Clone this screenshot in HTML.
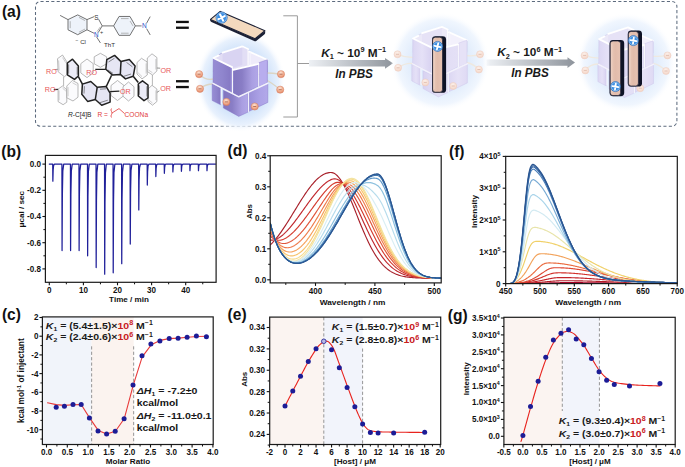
<!DOCTYPE html>
<html><head><meta charset="utf-8"><style>html,body{margin:0;padding:0;background:#fff;}svg{display:block;font-family:"Liberation Sans",sans-serif;}</style></head><body>
<svg width="685" height="467" viewBox="0 0 685 467" font-family="Liberation Sans, sans-serif">
<defs>
<linearGradient id="gLa" x1="0" x2="1" y1="0" y2="0"><stop offset="0" stop-color="#978dd4"/><stop offset="0.5" stop-color="#8f85cd"/><stop offset="0.9" stop-color="#867ac5"/><stop offset="1" stop-color="#b6adea"/></linearGradient>
<linearGradient id="gRa" x1="0" x2="1" y1="0" y2="0"><stop offset="0" stop-color="#9a8fd8"/><stop offset="0.6" stop-color="#aca2e6"/><stop offset="1" stop-color="#b2a8e9"/></linearGradient>
<linearGradient id="gCa" x1="0" x2="1" y1="0" y2="0"><stop offset="0" stop-color="#8276c0"/><stop offset="0.35" stop-color="#897dc5"/><stop offset="0.75" stop-color="#aa9fe2"/><stop offset="1" stop-color="#b2a8e8"/></linearGradient>
<radialGradient id="glowa"><stop offset="0" stop-color="#bcd6f8"/><stop offset="0.6" stop-color="#cfe2fa"/><stop offset="0.85" stop-color="#e8f1fd"/><stop offset="1" stop-color="#ffffff" stop-opacity="0"/></radialGradient>
<linearGradient id="gLb" x1="0" x2="1" y1="0" y2="0"><stop offset="0" stop-color="#dcd7f3"/><stop offset="0.5" stop-color="#e5e1f7"/><stop offset="1" stop-color="#d8d2f1"/></linearGradient>
<linearGradient id="gRb" x1="0" x2="1" y1="0" y2="0"><stop offset="0" stop-color="#dcd7f3"/><stop offset="0.5" stop-color="#e6e2f7"/><stop offset="1" stop-color="#dfdaf4"/></linearGradient>
<linearGradient id="gCb" x1="0" x2="1" y1="0" y2="0"><stop offset="0" stop-color="#d8d2f1"/><stop offset="0.5" stop-color="#e2def5"/><stop offset="1" stop-color="#e4e0f6"/></linearGradient>
<radialGradient id="glowb"><stop offset="0" stop-color="#d4e5fb"/><stop offset="0.6" stop-color="#e2edfc"/><stop offset="0.85" stop-color="#f0f6fe"/><stop offset="1" stop-color="#ffffff" stop-opacity="0"/></radialGradient>
<linearGradient id="gLc" x1="0" x2="1" y1="0" y2="0"><stop offset="0" stop-color="#dcd7f3"/><stop offset="0.5" stop-color="#e5e1f7"/><stop offset="1" stop-color="#d8d2f1"/></linearGradient>
<linearGradient id="gRc" x1="0" x2="1" y1="0" y2="0"><stop offset="0" stop-color="#dcd7f3"/><stop offset="0.5" stop-color="#e6e2f7"/><stop offset="1" stop-color="#dfdaf4"/></linearGradient>
<linearGradient id="gCc" x1="0" x2="1" y1="0" y2="0"><stop offset="0" stop-color="#d8d2f1"/><stop offset="0.5" stop-color="#e2def5"/><stop offset="1" stop-color="#e4e0f6"/></linearGradient>
<radialGradient id="glowc"><stop offset="0" stop-color="#d4e5fb"/><stop offset="0.6" stop-color="#e2edfc"/><stop offset="0.85" stop-color="#f0f6fe"/><stop offset="1" stop-color="#ffffff" stop-opacity="0"/></radialGradient>
<radialGradient id="ballg" cx="0.45" cy="0.3" r="0.75"><stop offset="0" stop-color="#fbe2d4"/><stop offset="0.6" stop-color="#f0a888"/><stop offset="1" stop-color="#e08060"/></radialGradient>
<radialGradient id="ballf" cx="0.45" cy="0.3" r="0.75"><stop offset="0" stop-color="#fcf0ea"/><stop offset="1" stop-color="#f3d4c6"/></radialGradient>
<linearGradient id="slabg" x1="0" x2="1" y1="0" y2="0"><stop offset="0" stop-color="#e9c8b8"/><stop offset="0.5" stop-color="#e2bcab"/><stop offset="1" stop-color="#e6c2b2"/></linearGradient>
</defs>
<rect width="685" height="467" fill="#ffffff"/>
<rect x="35.5" y="1.5" width="641.4" height="124.7" rx="5" ry="5" fill="none" stroke="#5d6b7e" stroke-width="1.05" stroke-dasharray="3.1,2.3"/>
<text x="0" y="0" font-size="16.4" font-weight="bold" fill="#111" transform="translate(1.9,17.4) scale(0.95,1)">(a)</text>
<path d="M77.7,14.9 L87,19.6 L87,29.8 L77.7,34.7 L68,29.8 L68,19.6 Z" fill="#eef3fa" stroke="#5a5a5a" stroke-width="0.85" stroke-linejoin="round" />
<line x1="70.2" y1="21.2" x2="70.2" y2="28.2" stroke="#999" stroke-width="0.7" />
<line x1="79" y1="17.4" x2="85" y2="20.6" stroke="#999" stroke-width="0.7" />
<line x1="79" y1="32.2" x2="85" y2="29" stroke="#999" stroke-width="0.7" />
<line x1="60.1" y1="15.4" x2="68" y2="19.6" stroke="#5a5a5a" stroke-width="0.85" />
<line x1="87" y1="19.6" x2="94.2" y2="16.6" stroke="#5a5a5a" stroke-width="0.85" />
<line x1="98.6" y1="19.2" x2="102.2" y2="25.9" stroke="#5a5a5a" stroke-width="0.85" />
<line x1="102.2" y1="25.9" x2="98.3" y2="32.4" stroke="#5a5a5a" stroke-width="0.85" />
<line x1="100.3" y1="26.9" x2="97" y2="31.6" stroke="#999" stroke-width="0.7" />
<line x1="94.4" y1="33.4" x2="87" y2="29.8" stroke="#5a5a5a" stroke-width="0.85" />
<line x1="96.4" y1="36.6" x2="100.4" y2="42.9" stroke="#5a5a5a" stroke-width="0.85" />
<line x1="102.2" y1="25.9" x2="113.6" y2="25.9" stroke="#5a5a5a" stroke-width="0.85" />
<path d="M135.4,25.9 L129.95,35.34 L119.05,35.34 L113.6,25.9 L119.05,16.46 L129.95,16.46 Z" fill="#eef3fa" stroke="#5a5a5a" stroke-width="0.85" stroke-linejoin="round" />
<line x1="121" y1="18.6" x2="128.6" y2="18.6" stroke="#999" stroke-width="0.7" />
<line x1="121" y1="33.2" x2="128.6" y2="33.2" stroke="#999" stroke-width="0.7" />
<line x1="133" y1="25.9" x2="130" y2="21" stroke="#999" stroke-width="0.7" />
<line x1="135.4" y1="25.9" x2="141.6" y2="25.9" stroke="#5a5a5a" stroke-width="0.85" />
<line x1="146.6" y1="23.2" x2="150.2" y2="16.6" stroke="#5a5a5a" stroke-width="0.85" />
<line x1="146.6" y1="28.6" x2="150.2" y2="34.9" stroke="#5a5a5a" stroke-width="0.85" />
<text x="96.3" y="19.8" font-size="6.3" fill="#333" text-anchor="middle">S</text>
<text x="96.4" y="37.2" font-size="6.3" fill="#2850c8" text-anchor="middle">N</text>
<text x="101.6" y="34.2" font-size="5.5" fill="#333" text-anchor="middle">+</text>
<text x="144.3" y="28.3" font-size="6.5" fill="#2850c8" text-anchor="middle">N</text>
<text x="75.5" y="43.6" font-size="6.2" fill="#333"><tspan font-size="5" dy="-2">&#8722;</tspan><tspan dy="2"> Cl</tspan></text>
<text x="104" y="47.2" font-size="6.2" fill="#333">ThT</text>
<path d="M87,59 L93.2,63.65 L93.2,72.95 L87,77.6 L80.8,72.95 L80.8,63.65 Z" fill="#fbfbfd" stroke="#9a9a9a" stroke-width="0.7" stroke-linejoin="round" />
<path d="M100.4,53.3 L106.6,56.8 L106.6,63.8 L100.4,67.3 L94.2,63.8 L94.2,56.8 Z" fill="#fbfbfd" stroke="#9a9a9a" stroke-width="0.7" stroke-linejoin="round" />
<path d="M117.5,80.5 L124,85.5 L124,95.5 L117.5,100.5 L111,95.5 L111,85.5 Z" fill="#fbfbfd" stroke="#9a9a9a" stroke-width="0.7" stroke-linejoin="round" />
<path d="M128.5,82 L134,86.75 L134,96.25 L128.5,101 L123,96.25 L123,86.75 Z" fill="#fbfbfd" stroke="#9a9a9a" stroke-width="0.7" stroke-linejoin="round" />
<path d="M62.5,55 L66.8,61.8 L66.8,74.8 L64.4,76.7 L58.1,71.7 L57.5,58.7 Z" fill="#fbfbfd" stroke="#9a9a9a" stroke-width="0.7" stroke-linejoin="round" />
<line x1="58.64" y1="60.41" x2="59.11" y2="70.55" stroke="#a8a8a8" stroke-width="0.55" />
<line x1="62.54" y1="57.52" x2="65.89" y2="62.82" stroke="#a8a8a8" stroke-width="0.55" />
<path d="M62.5,86 L66.8,89.8 L66.8,102.2 L63.1,104.7 L58.1,101.6 L58.1,89.1 Z" fill="#fbfbfd" stroke="#9a9a9a" stroke-width="0.7" stroke-linejoin="round" />
<line x1="59.08" y1="90.52" x2="59.08" y2="100.27" stroke="#a8a8a8" stroke-width="0.55" />
<line x1="62.51" y1="88.1" x2="65.87" y2="91.07" stroke="#a8a8a8" stroke-width="0.55" />
<path d="M72.4,80.4 L78,83.5 L78,97.2 L73,101 L66.8,97.8 L66.8,86 Z" fill="#fbfbfd" stroke="#9a9a9a" stroke-width="0.7" stroke-linejoin="round" />
<line x1="68.05" y1="87.1" x2="68.05" y2="96.3" stroke="#a8a8a8" stroke-width="0.55" />
<line x1="72.42" y1="82.73" x2="76.79" y2="85.15" stroke="#a8a8a8" stroke-width="0.55" />
<line x1="63.6" y1="76.7" x2="63.6" y2="86" stroke="#9a9a9a" stroke-width="0.7" />
<path d="M141.5,58.3 L147.3,62 L147.3,75 L142,78.9 L137,74 L137,62.5 Z" fill="#fbfbfd" stroke="#9a9a9a" stroke-width="0.7" stroke-linejoin="round" />
<line x1="146.14" y1="63.42" x2="146.14" y2="73.56" stroke="#a8a8a8" stroke-width="0.55" />
<line x1="142" y1="76.6" x2="138.1" y2="72.78" stroke="#a8a8a8" stroke-width="0.55" />
<path d="M152,53.8 L156.9,57.5 L156.9,71 L152.5,75 L147.3,71.5 L147.3,58 Z" fill="#fbfbfd" stroke="#9a9a9a" stroke-width="0.7" stroke-linejoin="round" />
<line x1="155.86" y1="59.03" x2="155.86" y2="69.56" stroke="#a8a8a8" stroke-width="0.55" />
<line x1="152.42" y1="72.68" x2="148.37" y2="69.95" stroke="#a8a8a8" stroke-width="0.55" />
<path d="M152,85.3 L156.9,89 L156.9,101.5 L152.5,105.2 L148,101.5 L148,89 Z" fill="#fbfbfd" stroke="#9a9a9a" stroke-width="0.7" stroke-linejoin="round" />
<line x1="155.91" y1="90.38" x2="155.91" y2="100.12" stroke="#a8a8a8" stroke-width="0.55" />
<line x1="152.47" y1="103.01" x2="148.96" y2="100.12" stroke="#a8a8a8" stroke-width="0.55" />
<line x1="152.4" y1="75" x2="152.4" y2="85.3" stroke="#9a9a9a" stroke-width="0.7" />
<text x="87" y="93.5" font-size="6.8" fill="#f2c8cc">RO</text>
<text x="122" y="71.5" font-size="6.8" fill="#f2c8cc">R</text>
<path d="M72.5,59.2 L78.4,66 L78.4,76 L74.5,79.4 L67.4,74.8 L67.4,63 Z" fill="#ececf7" stroke="#222222" stroke-width="1.5" stroke-linejoin="round" />
<line x1="68.65" y1="64.48" x2="68.65" y2="73.69" stroke="#444" stroke-width="0.6" />
<line x1="77.23" y1="66.82" x2="77.23" y2="74.62" stroke="#444" stroke-width="0.6" />
<path d="M142.5,80.8 L148,85 L148,98 L144,100.7 L138.3,96 L138.3,84 Z" fill="#ececf7" stroke="#222222" stroke-width="1.5" stroke-linejoin="round" />
<line x1="139.37" y1="85.48" x2="139.37" y2="94.84" stroke="#444" stroke-width="0.6" />
<line x1="146.94" y1="86.27" x2="146.94" y2="96.41" stroke="#444" stroke-width="0.6" />
<path d="M106.8,59.6 L114.6,55.4 L121,61.6 L129.3,59.6 L135.1,66.1 L133.2,76.3 L125.5,78.9 L120.3,74.4 L112.6,75.1 L105.8,69.3 Z" fill="#e6e6f4" stroke="#222222" stroke-width="1.5" stroke-linejoin="round" />
<line x1="121" y1="61.6" x2="120.3" y2="74.4" stroke="#222222" stroke-width="1.5" />
<path d="M82.4,84.1 L90.8,81.5 L97.2,87.3 L106.2,86.6 L110.1,93.1 L110.1,102.1 L101.7,105.3 L95.3,99.5 L87.6,101.4 L81.8,94.3 Z" fill="#e6e6f4" stroke="#222222" stroke-width="1.5" stroke-linejoin="round" />
<line x1="97.2" y1="87.3" x2="95.3" y2="99.5" stroke="#222222" stroke-width="1.5" />
<line x1="108.5" y1="62" x2="114.5" y2="58.2" stroke="#444" stroke-width="0.6" />
<line x1="126.5" y1="62.4" x2="132.4" y2="66.8" stroke="#444" stroke-width="0.6" />
<line x1="123.5" y1="76.4" x2="131" y2="74" stroke="#444" stroke-width="0.6" />
<line x1="84" y1="93.6" x2="84.4" y2="86.2" stroke="#444" stroke-width="0.6" />
<line x1="99.5" y1="102.8" x2="107.8" y2="100.2" stroke="#444" stroke-width="0.6" />
<line x1="100" y1="89.2" x2="106" y2="88.8" stroke="#444" stroke-width="0.6" />
<line x1="108" y1="70" x2="113" y2="73.4" stroke="#444" stroke-width="0.6" />
<line x1="78.4" y1="76.6" x2="82.4" y2="84.1" stroke="#222222" stroke-width="1.5" />
<line x1="106.2" y1="86.6" x2="111.6" y2="75.3" stroke="#222222" stroke-width="1.5" />
<line x1="133.4" y1="76.6" x2="138.3" y2="82.4" stroke="#222222" stroke-width="1.5" />
<line x1="95.3" y1="69.4" x2="105.8" y2="69.3" stroke="#222222" stroke-width="1.3" />
<line x1="110.1" y1="91.6" x2="119.4" y2="91.2" stroke="#222222" stroke-width="1.3" />
<line x1="54.6" y1="69.6" x2="57.8" y2="69.3" stroke="#777" stroke-width="0.8" />
<line x1="53.8" y1="89.6" x2="58.1" y2="89.4" stroke="#333" stroke-width="1.1" />
<line x1="156.9" y1="68" x2="160.2" y2="68.2" stroke="#777" stroke-width="0.8" />
<line x1="156.9" y1="92.4" x2="159.4" y2="90.8" stroke="#777" stroke-width="0.8" />
<text x="46" y="73.6" font-size="7.2" fill="#e8585a">RO</text>
<text x="44.8" y="92.2" font-size="7.2" fill="#e8585a">RO</text>
<text x="86.2" y="74.6" font-size="7.2" fill="#e8585a">RO</text>
<text x="120" y="93.8" font-size="7.2" fill="#e8585a">OR</text>
<text x="160.4" y="73.2" font-size="7.2" fill="#e8585a">OR</text>
<text x="160.2" y="90.6" font-size="7.2" fill="#e8585a">OR</text>
<text x="68" y="116.8" font-size="6.6" fill="#222"><tspan font-style="italic">R</tspan>-C[4]B</text>
<text x="97.5" y="117" font-size="6.6" fill="#e23a3a">R =</text>
<path d="M111.5,108.5 q-1.2,1.5 0,3 q1.2,1.5 0,3 q-1.2,1.5 0,3" fill="none" stroke="#e23a3a" stroke-width="0.8"/>
<path d="M112,113 L119,108.6 L124.6,113.6" fill="none" stroke="#e23a3a" stroke-width="0.8"/>
<text x="124.6" y="117" font-size="6.6" fill="#e23a3a">COONa</text>
<rect x="176" y="20.8" width="12.8" height="2.3" fill="#111"/>
<rect x="176" y="26.6" width="12.8" height="2.3" fill="#111"/>
<rect x="176" y="80.1" width="12.8" height="2.3" fill="#111"/>
<rect x="176" y="85.89999999999999" width="12.8" height="2.3" fill="#111"/>
<ellipse cx="240.5" cy="81.5" rx="45" ry="51" fill="url(#glowa)"/>
<path d="M210.3,19.6 L255,38.8 L265.1,30.9 L265.2,32.9 Q265.1,33.7 264.3,34.4 L256.2,40.9 Q255.3,41.6 254.2,41.1 L211.4,22 Q210.2,21.4 210.2,20.6 Z" fill="#1b2035"/>
<path d="M210.5,19.4 L220.2,11.4 L264.9,30.7 L255.1,38.7 Z" fill="#f3d9be" stroke="#1b2035" stroke-width="1.1" stroke-linejoin="round"/>
<circle cx="221.6" cy="17.6" r="5.7" fill="#3b8de0" stroke="#1f66b8" stroke-width="0.5"/>
<circle cx="221.6" cy="17.6" r="4.9" fill="none" stroke="#cfe4fa" stroke-width="0.5"/>
<path d="M218.18,17.6 L225.02,17.6 M221.6,14.18 L221.6,21.02" stroke="#ffffff" stroke-width="2.05" stroke-linecap="round" transform="rotate(-26 221.6 17.6)"/>
<path d="M213.5,79 Q206,81 199.1,74.2" fill="none" stroke="#dcd5c4" stroke-width="1.3"/>
<path d="M213.5,84 Q205,84 200,88.8" fill="none" stroke="#dcd5c4" stroke-width="1.3"/>
<path d="M266.5,73 Q272,73 281,74.2" fill="none" stroke="#dcd5c4" stroke-width="1.3"/>
<path d="M266.5,80 Q272,83 280.2,89.7" fill="none" stroke="#dcd5c4" stroke-width="1.3"/>
<path d="M234,96 Q228,93 226.4,101.9" fill="none" stroke="#dcd5c4" stroke-width="1.3"/>
<path d="M242,96 Q253,94 254.7,106.5" fill="none" stroke="#dcd5c4" stroke-width="1.3"/>
<path d="M213.4,58 L222.5,52.7 L242.3,46.3 L248.1,49 L249.2,51.6 L267.4,59.7 L267.4,72 L232.7,82 L213.4,72 Z" fill="#e2def5" stroke="#8474c6" stroke-width="0.45" stroke-linejoin="round"/>
<path d="M222.5,52.7 L242.3,46.3 L242.3,65 L222.5,71 Z" fill="#d9d4f2" stroke="none" stroke-width="0.45" stroke-linejoin="round"/>
<path d="M249.2,51.6 L267.4,59.7 L259.2,65 L249.2,67 Z" fill="#eeebfa" stroke="none" stroke-width="0.45" stroke-linejoin="round"/>
<path d="M222.5,52.7 L242.3,46.3 L248.1,49" fill="none" stroke="#ffffff" stroke-width="1.8" stroke-linejoin="round" stroke-linecap="round"/>
<path d="M248.1,49.5 L248.1,65" fill="none" stroke="#ffffff" stroke-width="1.1" stroke-linejoin="round" stroke-linecap="round"/>
<path d="M249.2,51.6 L267.4,59.7" fill="none" stroke="#ffffff" stroke-width="1.8" stroke-linejoin="round" stroke-linecap="round"/>
<path d="M250.1,52.5 L250.1,66" fill="none" stroke="#f6f5fd" stroke-width="0.9" stroke-linejoin="round" stroke-linecap="round"/>
<path d="M212.2,83.7 L220.6,87.8 L220.6,104.8 L212.2,100.5 Z" fill="url(#gLa)" stroke="#8474c6" stroke-width="0.45" stroke-linejoin="round"/>
<path d="M223.4,90.3 L238.8,97.3 L248.2,93.2 L248.2,112 L238.8,116.4 L223.4,108 Z" fill="url(#gCa)" stroke="#8474c6" stroke-width="0.45" stroke-linejoin="round"/>
<path d="M249.1,92.1 L267.8,83.7 L267.8,102.4 L249.1,111.3 Z" fill="url(#gRa)" stroke="#8474c6" stroke-width="0.45" stroke-linejoin="round"/>
<path d="M221.3,88.5 L221.3,104" fill="none" stroke="#ffffff" stroke-width="0.8" stroke-linejoin="round" stroke-linecap="round"/>
<path d="M248.6,93 L248.6,111.5" fill="none" stroke="#ffffff" stroke-width="0.9" stroke-linejoin="round" stroke-linecap="round"/>
<path d="M213.4,58 L232.1,67.2 L232.1,93 L213,83 Z" fill="url(#gLa)" stroke="#8474c6" stroke-width="0.45" stroke-linejoin="round"/>
<path d="M233.2,69.8 L258.3,63.9 L258.3,86.3 L238.8,96.4 L233.2,93.6 Z" fill="url(#gCa)" stroke="#8474c6" stroke-width="0.45" stroke-linejoin="round"/>
<path d="M259.2,62.5 L267.4,59.7 L267.4,82.8 L259.2,86.6 Z" fill="#b8adee" stroke="#8474c6" stroke-width="0.45" stroke-linejoin="round"/>
<path d="M218.7,55.4 L213.4,58 L232.1,67.2" fill="none" stroke="#ffffff" stroke-width="1.9" stroke-linejoin="round" stroke-linecap="round"/>
<path d="M233.2,69.8 L258.3,63.9" fill="none" stroke="#ffffff" stroke-width="1.9" stroke-linejoin="round" stroke-linecap="round"/>
<path d="M232.5,68 L232.5,93" fill="none" stroke="#ffffff" stroke-width="0.9" stroke-linejoin="round" stroke-linecap="round"/>
<path d="M258.7,64 L258.7,86.3" fill="none" stroke="#ffffff" stroke-width="0.9" stroke-linejoin="round" stroke-linecap="round"/>
<path d="M213,83.4 L238.8,96.8 L267.8,83.2" fill="none" stroke="#f3f1fb" stroke-width="1.5" stroke-linejoin="round" stroke-linecap="round"/>
<circle cx="199.1" cy="74.2" r="3.6" fill="url(#ballg)" stroke="#d27c5e" stroke-width="0.45"/>
<line x1="197.6" y1="74.2" x2="200.6" y2="74.2" stroke="#a8604a" stroke-width="0.8"/>
<circle cx="200" cy="88.8" r="3.6" fill="url(#ballg)" stroke="#d27c5e" stroke-width="0.45"/>
<line x1="198.5" y1="88.8" x2="201.5" y2="88.8" stroke="#a8604a" stroke-width="0.8"/>
<circle cx="281" cy="74.2" r="3.6" fill="url(#ballg)" stroke="#d27c5e" stroke-width="0.45"/>
<line x1="279.5" y1="74.2" x2="282.5" y2="74.2" stroke="#a8604a" stroke-width="0.8"/>
<circle cx="280.2" cy="89.7" r="3.6" fill="url(#ballg)" stroke="#d27c5e" stroke-width="0.45"/>
<line x1="278.7" y1="89.7" x2="281.7" y2="89.7" stroke="#a8604a" stroke-width="0.8"/>
<circle cx="226.4" cy="101.9" r="3.6" fill="url(#ballg)" stroke="#d27c5e" stroke-width="0.45"/>
<line x1="224.9" y1="101.9" x2="227.9" y2="101.9" stroke="#a8604a" stroke-width="0.8"/>
<circle cx="254.7" cy="106.5" r="3.6" fill="url(#ballg)" stroke="#d27c5e" stroke-width="0.45"/>
<line x1="253.2" y1="106.5" x2="256.2" y2="106.5" stroke="#a8604a" stroke-width="0.8"/>
<path d="M283.3,15.8 L297.4,15.8 L297.4,117 L283.3,117 M297.4,63.5 L312,63.5" fill="none" stroke="#9a9a9a" stroke-width="1"/>
<linearGradient id="ar309" x1="0" x2="1" y1="0" y2="0"><stop offset="0" stop-color="#eef1f5"/><stop offset="1" stop-color="#8e949c"/></linearGradient>
<path d="M309,60.1 L385,60.1 L385,57.9 L393,63.3 L385,68.7 L385,66.5 L309,66.5 Z" fill="url(#ar309)"/>
<linearGradient id="ar486" x1="0" x2="1" y1="0" y2="0"><stop offset="0" stop-color="#eef1f5"/><stop offset="1" stop-color="#8e949c"/></linearGradient>
<path d="M486.6,59.4 L567.5,59.4 L567.5,57.2 L575,62.6 L567.5,68 L567.5,65.8 L486.6,65.8 Z" fill="url(#ar486)"/>
<text x="321.2" y="56.6" font-size="11.3" font-weight="bold" fill="#1a1a1a" textLength="64.8" lengthAdjust="spacingAndGlyphs"><tspan font-style="italic">K</tspan><tspan font-size="7.01" dy="2.83">1</tspan><tspan dy="-2.83"> ~ 10</tspan><tspan font-size="7.01" dy="-4.29">9</tspan><tspan dy="4.29"> M</tspan><tspan font-size="7.01" dy="-4.29">&#8722;1</tspan></text>
<text x="497.2" y="56.3" font-size="11.3" font-weight="bold" fill="#1a1a1a" textLength="64.8" lengthAdjust="spacingAndGlyphs"><tspan font-style="italic">K</tspan><tspan font-size="7.01" dy="2.83">2</tspan><tspan dy="-2.83"> ~ 10</tspan><tspan font-size="7.01" dy="-4.29">6</tspan><tspan dy="4.29"> M</tspan><tspan font-size="7.01" dy="-4.29">&#8722;1</tspan></text>
<text x="335.2" y="78.2" font-size="12" font-weight="bold" font-style="italic" fill="#1a1a1a" textLength="37.7" lengthAdjust="spacingAndGlyphs">In PBS</text>
<text x="511.2" y="77.3" font-size="12" font-weight="bold" font-style="italic" fill="#1a1a1a" textLength="37.6" lengthAdjust="spacingAndGlyphs">In PBS</text>
<ellipse cx="440.1" cy="62" rx="50" ry="50" fill="url(#glowb)"/>
<path d="M413.1,57.5 Q405.1,57.5 397.5,54.3" fill="none" stroke="#efe9e0" stroke-width="1.3"/>
<path d="M413.1,63.5 Q405.1,62.5 398.1,67.8" fill="none" stroke="#efe9e0" stroke-width="1.3"/>
<path d="M466.1,55.5 Q473.1,56.5 480,54.3" fill="none" stroke="#efe9e0" stroke-width="1.3"/>
<path d="M466.1,62.5 Q473.1,63.5 478.9,69.5" fill="none" stroke="#efe9e0" stroke-width="1.3"/>
<path d="M433.1,75.5 Q428.1,74.5 425.3,82.4" fill="none" stroke="#efe9e0" stroke-width="1.3"/>
<path d="M444.1,76.5 Q452.1,75.5 453.2,86" fill="none" stroke="#efe9e0" stroke-width="1.3"/>
<path d="M413,38.5 L422.1,33.2 L441.9,26.8 L447.7,29.5 L448.8,32.1 L467,40.2 L467,52.5 L432.3,62.5 L413,52.5 Z" fill="#ece9f8" stroke="#cbc4ea" stroke-width="0.45" stroke-linejoin="round"/>
<path d="M422.1,33.2 L441.9,26.8 L441.9,45.5 L422.1,51.5 Z" fill="#e6e2f6" stroke="none" stroke-width="0.45" stroke-linejoin="round"/>
<path d="M448.8,32.1 L467,40.2 L458.8,45.5 L448.8,47.5 Z" fill="#f3f1fc" stroke="none" stroke-width="0.45" stroke-linejoin="round"/>
<path d="M422.1,33.2 L441.9,26.8 L447.7,29.5" fill="none" stroke="#ffffff" stroke-width="1.8" stroke-linejoin="round" stroke-linecap="round"/>
<path d="M447.7,30 L447.7,45.5" fill="none" stroke="#ffffff" stroke-width="1.1" stroke-linejoin="round" stroke-linecap="round"/>
<path d="M448.8,32.1 L467,40.2" fill="none" stroke="#ffffff" stroke-width="1.8" stroke-linejoin="round" stroke-linecap="round"/>
<path d="M449.7,33 L449.7,46.5" fill="none" stroke="#f6f5fd" stroke-width="0.9" stroke-linejoin="round" stroke-linecap="round"/>
<path d="M411.8,64.2 L420.2,68.3 L420.2,85.3 L411.8,81 Z" fill="url(#gLb)" stroke="#cbc4ea" stroke-width="0.45" stroke-linejoin="round"/>
<path d="M423,70.8 L438.4,77.8 L447.8,73.7 L447.8,92.5 L438.4,96.9 L423,88.5 Z" fill="url(#gCb)" stroke="#cbc4ea" stroke-width="0.45" stroke-linejoin="round"/>
<path d="M448.7,72.6 L467.4,64.2 L467.4,82.9 L448.7,91.8 Z" fill="url(#gRb)" stroke="#cbc4ea" stroke-width="0.45" stroke-linejoin="round"/>
<path d="M420.9,69 L420.9,84.5" fill="none" stroke="#ffffff" stroke-width="0.8" stroke-linejoin="round" stroke-linecap="round"/>
<path d="M448.2,73.5 L448.2,92" fill="none" stroke="#ffffff" stroke-width="0.9" stroke-linejoin="round" stroke-linecap="round"/>
<path d="M413,38.5 L431.7,47.7 L431.7,73.5 L412.6,63.5 Z" fill="url(#gLb)" stroke="#cbc4ea" stroke-width="0.45" stroke-linejoin="round"/>
<path d="M432.8,50.3 L457.9,44.4 L457.9,66.8 L438.4,76.9 L432.8,74.1 Z" fill="url(#gCb)" stroke="#cbc4ea" stroke-width="0.45" stroke-linejoin="round"/>
<path d="M458.8,43 L467,40.2 L467,63.3 L458.8,67.1 Z" fill="#e6e2f7" stroke="#cbc4ea" stroke-width="0.45" stroke-linejoin="round"/>
<path d="M418.3,35.9 L413,38.5 L431.7,47.7" fill="none" stroke="#ffffff" stroke-width="1.9" stroke-linejoin="round" stroke-linecap="round"/>
<path d="M432.8,50.3 L457.9,44.4" fill="none" stroke="#ffffff" stroke-width="1.9" stroke-linejoin="round" stroke-linecap="round"/>
<path d="M432.1,48.5 L432.1,73.5" fill="none" stroke="#ffffff" stroke-width="0.9" stroke-linejoin="round" stroke-linecap="round"/>
<path d="M458.3,44.5 L458.3,66.8" fill="none" stroke="#ffffff" stroke-width="0.9" stroke-linejoin="round" stroke-linecap="round"/>
<path d="M412.6,63.9 L438.4,77.3 L467.4,63.7" fill="none" stroke="#f3f1fb" stroke-width="1.5" stroke-linejoin="round" stroke-linecap="round"/>
<circle cx="397.5" cy="54.3" r="3.5" fill="url(#ballf)" stroke="#ecc8b8" stroke-width="0.45"/>
<line x1="396" y1="54.3" x2="399" y2="54.3" stroke="#d8b0a0" stroke-width="0.7"/>
<circle cx="398.1" cy="67.8" r="3.5" fill="url(#ballf)" stroke="#ecc8b8" stroke-width="0.45"/>
<line x1="396.6" y1="67.8" x2="399.6" y2="67.8" stroke="#d8b0a0" stroke-width="0.7"/>
<circle cx="480" cy="54.3" r="3.5" fill="url(#ballf)" stroke="#ecc8b8" stroke-width="0.45"/>
<line x1="478.5" y1="54.3" x2="481.5" y2="54.3" stroke="#d8b0a0" stroke-width="0.7"/>
<circle cx="478.9" cy="69.5" r="3.5" fill="url(#ballf)" stroke="#ecc8b8" stroke-width="0.45"/>
<line x1="477.4" y1="69.5" x2="480.4" y2="69.5" stroke="#d8b0a0" stroke-width="0.7"/>
<circle cx="425.3" cy="82.4" r="3.5" fill="url(#ballf)" stroke="#ecc8b8" stroke-width="0.45"/>
<line x1="423.8" y1="82.4" x2="426.8" y2="82.4" stroke="#d8b0a0" stroke-width="0.7"/>
<circle cx="453.2" cy="86" r="3.5" fill="url(#ballf)" stroke="#ecc8b8" stroke-width="0.45"/>
<line x1="451.7" y1="86" x2="454.7" y2="86" stroke="#d8b0a0" stroke-width="0.7"/>
<rect x="432" y="36.2" width="14.1" height="56.6" rx="3.4" fill="#0f1326"/>
<rect x="432.6" y="37.2" width="9.9" height="55" rx="2.8" fill="url(#slabg)" stroke="#1b2035" stroke-width="0.7"/>
<line x1="434.2" y1="40" x2="434.2" y2="89" stroke="#f3dcd0" stroke-width="0.7" opacity="0.8"/>
<circle cx="437.55" cy="46.4" r="5" fill="#3b8de0" stroke="#1f66b8" stroke-width="0.5"/>
<circle cx="437.55" cy="46.4" r="4.2" fill="none" stroke="#cfe4fa" stroke-width="0.5"/>
<path d="M434.55,46.4 L440.55,46.4 M437.55,43.4 L437.55,49.4" stroke="#ffffff" stroke-width="1.8" stroke-linecap="round" transform="rotate(12 437.55 46.4)"/>
<ellipse cx="626.2" cy="62.6" rx="50" ry="50" fill="url(#glowc)"/>
<path d="M599.2,58.1 Q591.2,58.1 584.6,55.4" fill="none" stroke="#efe9e0" stroke-width="1.3"/>
<path d="M599.2,64.1 Q591.2,63.1 585.3,70.4" fill="none" stroke="#efe9e0" stroke-width="1.3"/>
<path d="M652.2,56.1 Q659.2,57.1 667.5,55.4" fill="none" stroke="#efe9e0" stroke-width="1.3"/>
<path d="M652.2,63.1 Q659.2,64.1 666,71" fill="none" stroke="#efe9e0" stroke-width="1.3"/>
<path d="M632.2,77.1 Q640.2,77.1 640.3,88.2" fill="none" stroke="#efe9e0" stroke-width="1.3"/>
<path d="M599.1,39.1 L608.2,33.8 L628,27.4 L633.8,30.1 L634.9,32.7 L653.1,40.8 L653.1,53.1 L618.4,63.1 L599.1,53.1 Z" fill="#ece9f8" stroke="#cbc4ea" stroke-width="0.45" stroke-linejoin="round"/>
<path d="M608.2,33.8 L628,27.4 L628,46.1 L608.2,52.1 Z" fill="#e6e2f6" stroke="none" stroke-width="0.45" stroke-linejoin="round"/>
<path d="M634.9,32.7 L653.1,40.8 L644.9,46.1 L634.9,48.1 Z" fill="#f3f1fc" stroke="none" stroke-width="0.45" stroke-linejoin="round"/>
<path d="M608.2,33.8 L628,27.4 L633.8,30.1" fill="none" stroke="#ffffff" stroke-width="1.8" stroke-linejoin="round" stroke-linecap="round"/>
<path d="M633.8,30.6 L633.8,46.1" fill="none" stroke="#ffffff" stroke-width="1.1" stroke-linejoin="round" stroke-linecap="round"/>
<path d="M634.9,32.7 L653.1,40.8" fill="none" stroke="#ffffff" stroke-width="1.8" stroke-linejoin="round" stroke-linecap="round"/>
<path d="M635.8,33.6 L635.8,47.1" fill="none" stroke="#f6f5fd" stroke-width="0.9" stroke-linejoin="round" stroke-linecap="round"/>
<path d="M597.9,64.8 L606.3,68.9 L606.3,85.9 L597.9,81.6 Z" fill="url(#gLc)" stroke="#cbc4ea" stroke-width="0.45" stroke-linejoin="round"/>
<path d="M609.1,71.4 L624.5,78.4 L633.9,74.3 L633.9,93.1 L624.5,97.5 L609.1,89.1 Z" fill="url(#gCc)" stroke="#cbc4ea" stroke-width="0.45" stroke-linejoin="round"/>
<path d="M634.8,73.2 L653.5,64.8 L653.5,83.5 L634.8,92.4 Z" fill="url(#gRc)" stroke="#cbc4ea" stroke-width="0.45" stroke-linejoin="round"/>
<path d="M607,69.6 L607,85.1" fill="none" stroke="#ffffff" stroke-width="0.8" stroke-linejoin="round" stroke-linecap="round"/>
<path d="M634.3,74.1 L634.3,92.6" fill="none" stroke="#ffffff" stroke-width="0.9" stroke-linejoin="round" stroke-linecap="round"/>
<path d="M599.1,39.1 L617.8,48.3 L617.8,74.1 L598.7,64.1 Z" fill="url(#gLc)" stroke="#cbc4ea" stroke-width="0.45" stroke-linejoin="round"/>
<path d="M618.9,50.9 L644,45 L644,67.4 L624.5,77.5 L618.9,74.7 Z" fill="url(#gCc)" stroke="#cbc4ea" stroke-width="0.45" stroke-linejoin="round"/>
<path d="M644.9,43.6 L653.1,40.8 L653.1,63.9 L644.9,67.7 Z" fill="#e6e2f7" stroke="#cbc4ea" stroke-width="0.45" stroke-linejoin="round"/>
<path d="M604.4,36.5 L599.1,39.1 L617.8,48.3" fill="none" stroke="#ffffff" stroke-width="1.9" stroke-linejoin="round" stroke-linecap="round"/>
<path d="M618.9,50.9 L644,45" fill="none" stroke="#ffffff" stroke-width="1.9" stroke-linejoin="round" stroke-linecap="round"/>
<path d="M618.2,49.1 L618.2,74.1" fill="none" stroke="#ffffff" stroke-width="0.9" stroke-linejoin="round" stroke-linecap="round"/>
<path d="M644.4,45.1 L644.4,67.4" fill="none" stroke="#ffffff" stroke-width="0.9" stroke-linejoin="round" stroke-linecap="round"/>
<path d="M598.7,64.5 L624.5,77.9 L653.5,64.3" fill="none" stroke="#f3f1fb" stroke-width="1.5" stroke-linejoin="round" stroke-linecap="round"/>
<circle cx="584.6" cy="55.4" r="3.5" fill="url(#ballf)" stroke="#ecc8b8" stroke-width="0.45"/>
<line x1="583.1" y1="55.4" x2="586.1" y2="55.4" stroke="#d8b0a0" stroke-width="0.7"/>
<circle cx="585.3" cy="70.4" r="3.5" fill="url(#ballf)" stroke="#ecc8b8" stroke-width="0.45"/>
<line x1="583.8" y1="70.4" x2="586.8" y2="70.4" stroke="#d8b0a0" stroke-width="0.7"/>
<circle cx="667.5" cy="55.4" r="3.5" fill="url(#ballf)" stroke="#ecc8b8" stroke-width="0.45"/>
<line x1="666" y1="55.4" x2="669" y2="55.4" stroke="#d8b0a0" stroke-width="0.7"/>
<circle cx="666" cy="71" r="3.5" fill="url(#ballf)" stroke="#ecc8b8" stroke-width="0.45"/>
<line x1="664.5" y1="71" x2="667.5" y2="71" stroke="#d8b0a0" stroke-width="0.7"/>
<circle cx="640.3" cy="88.2" r="3.5" fill="url(#ballf)" stroke="#ecc8b8" stroke-width="0.45"/>
<line x1="638.8" y1="88.2" x2="641.8" y2="88.2" stroke="#d8b0a0" stroke-width="0.7"/>
<rect x="627.8" y="30.4" width="14.2" height="56.2" rx="3.4" fill="#0f1326"/>
<rect x="628.4" y="31.4" width="10" height="54.6" rx="2.8" fill="url(#slabg)" stroke="#1b2035" stroke-width="0.7"/>
<line x1="630" y1="34.2" x2="630" y2="82.8" stroke="#f3dcd0" stroke-width="0.7" opacity="0.8"/>
<circle cx="633.4" cy="40.6" r="5" fill="#3b8de0" stroke="#1f66b8" stroke-width="0.5"/>
<circle cx="633.4" cy="40.6" r="4.2" fill="none" stroke="#cfe4fa" stroke-width="0.5"/>
<path d="M630.4,40.6 L636.4,40.6 M633.4,37.6 L633.4,43.6" stroke="#ffffff" stroke-width="1.8" stroke-linecap="round" transform="rotate(8 633.4 40.6)"/>
<rect x="609.6" y="40" width="14.6" height="56.2" rx="3.4" fill="#0f1326"/>
<rect x="610.2" y="41" width="10.4" height="54.6" rx="2.8" fill="url(#slabg)" stroke="#1b2035" stroke-width="0.7"/>
<line x1="611.8" y1="43.8" x2="611.8" y2="92.4" stroke="#f3dcd0" stroke-width="0.7" opacity="0.8"/>
<circle cx="615.4" cy="86.6" r="5" fill="#3b8de0" stroke="#1f66b8" stroke-width="0.5"/>
<circle cx="615.4" cy="86.6" r="4.2" fill="none" stroke="#cfe4fa" stroke-width="0.5"/>
<path d="M612.4,86.6 L618.4,86.6 M615.4,83.6 L615.4,89.6" stroke="#ffffff" stroke-width="1.8" stroke-linecap="round" transform="rotate(8 615.4 86.6)"/>
<path d="M49.3,164.1 L52.31,164.1 L52.71,164.1 L52.86,181.13 L53.16,170.06 L53.61,165.46 L54.51,164.1 L61.52,164.1 L61.92,164.1 L62.07,250.56 L62.37,194.36 L62.82,171.02 L63.72,164.1 L70.04,164.1 L70.44,164.1 L70.59,250.56 L70.89,194.36 L71.34,171.02 L72.24,164.1 L78.57,164.1 L78.97,164.1 L79.12,250.56 L79.42,194.36 L79.87,171.02 L80.77,164.1 L87.09,164.1 L87.49,164.1 L87.64,255.8 L87.94,196.19 L88.39,171.44 L89.29,164.1 L95.62,164.1 L96.02,164.1 L96.17,267.59 L96.47,200.32 L96.92,172.38 L97.82,164.1 L104.14,164.1 L104.54,164.1 L104.69,274.14 L104.99,202.61 L105.44,172.9 L106.34,164.1 L112.67,164.1 L113.07,164.1 L113.22,272.83 L113.52,202.16 L113.97,172.8 L114.87,164.1 L121.19,164.1 L121.59,164.1 L121.74,263.66 L122.04,198.95 L122.49,172.06 L123.39,164.1 L129.72,164.1 L130.12,164.1 L130.27,244.01 L130.57,192.07 L131.02,170.49 L131.92,164.1 L138.24,164.1 L138.64,164.1 L138.79,209.95 L139.09,180.15 L139.54,167.77 L140.44,164.1 L146.77,164.1 L147.17,164.1 L147.32,185.06 L147.62,171.44 L148.07,165.78 L148.97,164.1 L155.29,164.1 L155.69,164.1 L155.84,176.54 L156.14,168.46 L156.59,165.1 L157.49,164.1 L163.82,164.1 L164.22,164.1 L164.37,173.27 L164.67,167.31 L165.12,164.83 L166.02,164.1 L172.34,164.1 L172.74,164.1 L172.89,171.96 L173.19,166.85 L173.64,164.73 L174.54,164.1 L180.87,164.1 L181.27,164.1 L181.42,171.31 L181.72,166.62 L182.17,164.68 L183.07,164.1 L189.39,164.1 L189.79,164.1 L189.94,170.65 L190.24,166.39 L190.69,164.62 L191.59,164.1 L197.92,164.1 L198.32,164.1 L198.47,170.65 L198.77,166.39 L199.22,164.62 L200.12,164.1 L206.44,164.1 L206.84,164.1 L206.99,170.65 L207.29,166.39 L207.74,164.62 L208.64,164.1 L215.5,164.1" fill="none" stroke="#20209a" stroke-width="1.25" stroke-linejoin="round" stroke-linecap="round" />
<rect x="45.4" y="155.4" width="170.7" height="126.9" fill="none" stroke="#1a1a1a" stroke-width="1.2"/>
<line x1="42.4" y1="164.1" x2="45.4" y2="164.1" stroke="#111" stroke-width="1.1" />
<text x="0" y="0" font-size="8.5" font-weight="bold" text-anchor="end" fill="#111" transform="translate(41,167) scale(0.95,1)">0.0</text>
<line x1="42.4" y1="190.3" x2="45.4" y2="190.3" stroke="#111" stroke-width="1.1" />
<text x="0" y="0" font-size="8.5" font-weight="bold" text-anchor="end" fill="#111" transform="translate(41,193.2) scale(0.95,1)">-0.2</text>
<line x1="42.4" y1="216.5" x2="45.4" y2="216.5" stroke="#111" stroke-width="1.1" />
<text x="0" y="0" font-size="8.5" font-weight="bold" text-anchor="end" fill="#111" transform="translate(41,219.4) scale(0.95,1)">-0.4</text>
<line x1="42.4" y1="242.7" x2="45.4" y2="242.7" stroke="#111" stroke-width="1.1" />
<text x="0" y="0" font-size="8.5" font-weight="bold" text-anchor="end" fill="#111" transform="translate(41,245.6) scale(0.95,1)">-0.6</text>
<line x1="42.4" y1="268.9" x2="45.4" y2="268.9" stroke="#111" stroke-width="1.1" />
<text x="0" y="0" font-size="8.5" font-weight="bold" text-anchor="end" fill="#111" transform="translate(41,271.8) scale(0.95,1)">-0.8</text>
<line x1="43.4" y1="177.2" x2="45.4" y2="177.2" stroke="#111" stroke-width="1.0" />
<line x1="43.4" y1="203.4" x2="45.4" y2="203.4" stroke="#111" stroke-width="1.0" />
<line x1="43.4" y1="229.6" x2="45.4" y2="229.6" stroke="#111" stroke-width="1.0" />
<line x1="43.4" y1="255.8" x2="45.4" y2="255.8" stroke="#111" stroke-width="1.0" />
<line x1="49.3" y1="282.3" x2="49.3" y2="285.3" stroke="#111" stroke-width="1.1" />
<text x="0" y="0" font-size="8.5" font-weight="bold" text-anchor="middle" fill="#111" transform="translate(49.3,293.1) scale(0.95,1)">0</text>
<line x1="83.4" y1="282.3" x2="83.4" y2="285.3" stroke="#111" stroke-width="1.1" />
<text x="0" y="0" font-size="8.5" font-weight="bold" text-anchor="middle" fill="#111" transform="translate(83.4,293.1) scale(0.95,1)">10</text>
<line x1="117.5" y1="282.3" x2="117.5" y2="285.3" stroke="#111" stroke-width="1.1" />
<text x="0" y="0" font-size="8.5" font-weight="bold" text-anchor="middle" fill="#111" transform="translate(117.5,293.1) scale(0.95,1)">20</text>
<line x1="151.6" y1="282.3" x2="151.6" y2="285.3" stroke="#111" stroke-width="1.1" />
<text x="0" y="0" font-size="8.5" font-weight="bold" text-anchor="middle" fill="#111" transform="translate(151.6,293.1) scale(0.95,1)">30</text>
<line x1="185.7" y1="282.3" x2="185.7" y2="285.3" stroke="#111" stroke-width="1.1" />
<text x="0" y="0" font-size="8.5" font-weight="bold" text-anchor="middle" fill="#111" transform="translate(185.7,293.1) scale(0.95,1)">40</text>
<line x1="66.35" y1="282.3" x2="66.35" y2="284.3" stroke="#111" stroke-width="1.0" />
<line x1="100.45" y1="282.3" x2="100.45" y2="284.3" stroke="#111" stroke-width="1.0" />
<line x1="134.55" y1="282.3" x2="134.55" y2="284.3" stroke="#111" stroke-width="1.0" />
<line x1="168.65" y1="282.3" x2="168.65" y2="284.3" stroke="#111" stroke-width="1.0" />
<line x1="202.75" y1="282.3" x2="202.75" y2="284.3" stroke="#111" stroke-width="1.0" />
<text x="129" y="301.5" font-size="8" font-weight="bold" text-anchor="middle" fill="#111"  textLength="39.8" lengthAdjust="spacingAndGlyphs">Time / min</text>
<text x="0" y="0" font-size="8" font-weight="bold" text-anchor="middle" fill="#111" transform="translate(24.3,209.2) rotate(-90)" textLength="36.6" lengthAdjust="spacingAndGlyphs">&#956;cal / sec</text>
<text x="0" y="0" font-size="16.4" font-weight="bold" fill="#111" transform="translate(1.3,156.8) scale(0.95,1)">(b)</text>
<rect x="42.4" y="316.9" width="49.24" height="127.6" fill="#f1f4fa"/>
<rect x="91.64" y="316.9" width="42.02" height="127.6" fill="#fbf3ef"/>
<line x1="91.64" y1="346.3" x2="91.64" y2="444.5" stroke="#8a8a8a" stroke-width="0.9" stroke-dasharray="3.2,2.2"/>
<line x1="133.65" y1="346.3" x2="133.65" y2="444.5" stroke="#8a8a8a" stroke-width="0.9" stroke-dasharray="3.2,2.2"/>
<path d="M47.5,402.8 L56.2,404.6 L64.4,405.4 L73,404.8 L81.2,404.5 L89.4,417.6 L98.2,430.4 L106.7,434 L115.4,431.3 L124.2,418.8 L133.2,385.3 L142.2,356.8 L151.2,344.8 L160,340.4 L169,338.6 L178.2,338.1 L187.7,337.2 L197,336.5 L208.2,336.2" fill="none" stroke="#e83a3a" stroke-width="1.1" stroke-linejoin="round" stroke-linecap="round" />
<circle cx="56.2" cy="407.3" r="2.5" fill="#1c1c96"/>
<circle cx="64.4" cy="406.2" r="2.5" fill="#1c1c96"/>
<circle cx="73" cy="404.4" r="2.5" fill="#1c1c96"/>
<circle cx="81.2" cy="404.4" r="2.5" fill="#1c1c96"/>
<circle cx="89.4" cy="418" r="2.5" fill="#1c1c96"/>
<circle cx="98" cy="430.9" r="2.5" fill="#1c1c96"/>
<circle cx="106.6" cy="434.1" r="2.5" fill="#1c1c96"/>
<circle cx="115.2" cy="431.3" r="2.5" fill="#1c1c96"/>
<circle cx="124.1" cy="418.7" r="2.5" fill="#1c1c96"/>
<circle cx="133" cy="385.1" r="2.5" fill="#1c1c96"/>
<circle cx="142" cy="355.8" r="2.5" fill="#1c1c96"/>
<circle cx="150.9" cy="344" r="2.5" fill="#1c1c96"/>
<circle cx="159.9" cy="341.1" r="2.5" fill="#1c1c96"/>
<circle cx="169.2" cy="338.6" r="2.5" fill="#1c1c96"/>
<circle cx="178.1" cy="338.3" r="2.5" fill="#1c1c96"/>
<circle cx="187.1" cy="337.2" r="2.5" fill="#1c1c96"/>
<circle cx="196.4" cy="336.1" r="2.5" fill="#1c1c96"/>
<circle cx="206.4" cy="336.8" r="2.5" fill="#1c1c96"/>
<rect x="42.4" y="316.9" width="170.8" height="127.6" fill="none" stroke="#1a1a1a" stroke-width="1.2"/>
<line x1="39.4" y1="317.5" x2="42.4" y2="317.5" stroke="#111" stroke-width="1.1" />
<text x="0" y="0" font-size="8.5" font-weight="bold" text-anchor="end" fill="#111" transform="translate(38.4,320.4) scale(0.95,1)">2</text>
<line x1="39.4" y1="336.2" x2="42.4" y2="336.2" stroke="#111" stroke-width="1.1" />
<text x="0" y="0" font-size="8.5" font-weight="bold" text-anchor="end" fill="#111" transform="translate(38.4,339.1) scale(0.95,1)">0</text>
<line x1="39.4" y1="354.9" x2="42.4" y2="354.9" stroke="#111" stroke-width="1.1" />
<text x="0" y="0" font-size="8.5" font-weight="bold" text-anchor="end" fill="#111" transform="translate(38.4,357.8) scale(0.95,1)">-2</text>
<line x1="39.4" y1="373.6" x2="42.4" y2="373.6" stroke="#111" stroke-width="1.1" />
<text x="0" y="0" font-size="8.5" font-weight="bold" text-anchor="end" fill="#111" transform="translate(38.4,376.5) scale(0.95,1)">-4</text>
<line x1="39.4" y1="392.3" x2="42.4" y2="392.3" stroke="#111" stroke-width="1.1" />
<text x="0" y="0" font-size="8.5" font-weight="bold" text-anchor="end" fill="#111" transform="translate(38.4,395.2) scale(0.95,1)">-6</text>
<line x1="39.4" y1="411" x2="42.4" y2="411" stroke="#111" stroke-width="1.1" />
<text x="0" y="0" font-size="8.5" font-weight="bold" text-anchor="end" fill="#111" transform="translate(38.4,413.9) scale(0.95,1)">-8</text>
<line x1="39.4" y1="429.7" x2="42.4" y2="429.7" stroke="#111" stroke-width="1.1" />
<text x="0" y="0" font-size="8.5" font-weight="bold" text-anchor="end" fill="#111" transform="translate(38.4,432.6) scale(0.95,1)">-10</text>
<line x1="40.4" y1="326.85" x2="42.4" y2="326.85" stroke="#111" stroke-width="1.0" />
<line x1="40.4" y1="345.55" x2="42.4" y2="345.55" stroke="#111" stroke-width="1.0" />
<line x1="40.4" y1="364.25" x2="42.4" y2="364.25" stroke="#111" stroke-width="1.0" />
<line x1="40.4" y1="382.95" x2="42.4" y2="382.95" stroke="#111" stroke-width="1.0" />
<line x1="40.4" y1="401.65" x2="42.4" y2="401.65" stroke="#111" stroke-width="1.0" />
<line x1="40.4" y1="420.35" x2="42.4" y2="420.35" stroke="#111" stroke-width="1.0" />
<line x1="40.4" y1="439.05" x2="42.4" y2="439.05" stroke="#111" stroke-width="1.0" />
<line x1="46.5" y1="444.5" x2="46.5" y2="447.5" stroke="#111" stroke-width="1.1" />
<text x="0" y="0" font-size="8.5" font-weight="bold" text-anchor="middle" fill="#111" transform="translate(46.5,454.5) scale(0.95,1)">0.0</text>
<line x1="67.3" y1="444.5" x2="67.3" y2="447.5" stroke="#111" stroke-width="1.1" />
<text x="0" y="0" font-size="8.5" font-weight="bold" text-anchor="middle" fill="#111" transform="translate(67.3,454.5) scale(0.95,1)">0.5</text>
<line x1="88.1" y1="444.5" x2="88.1" y2="447.5" stroke="#111" stroke-width="1.1" />
<text x="0" y="0" font-size="8.5" font-weight="bold" text-anchor="middle" fill="#111" transform="translate(88.1,454.5) scale(0.95,1)">1.0</text>
<line x1="108.9" y1="444.5" x2="108.9" y2="447.5" stroke="#111" stroke-width="1.1" />
<text x="0" y="0" font-size="8.5" font-weight="bold" text-anchor="middle" fill="#111" transform="translate(108.9,454.5) scale(0.95,1)">1.5</text>
<line x1="129.7" y1="444.5" x2="129.7" y2="447.5" stroke="#111" stroke-width="1.1" />
<text x="0" y="0" font-size="8.5" font-weight="bold" text-anchor="middle" fill="#111" transform="translate(129.7,454.5) scale(0.95,1)">2.0</text>
<line x1="150.5" y1="444.5" x2="150.5" y2="447.5" stroke="#111" stroke-width="1.1" />
<text x="0" y="0" font-size="8.5" font-weight="bold" text-anchor="middle" fill="#111" transform="translate(150.5,454.5) scale(0.95,1)">2.5</text>
<line x1="171.3" y1="444.5" x2="171.3" y2="447.5" stroke="#111" stroke-width="1.1" />
<text x="0" y="0" font-size="8.5" font-weight="bold" text-anchor="middle" fill="#111" transform="translate(171.3,454.5) scale(0.95,1)">3.0</text>
<line x1="192.1" y1="444.5" x2="192.1" y2="447.5" stroke="#111" stroke-width="1.1" />
<text x="0" y="0" font-size="8.5" font-weight="bold" text-anchor="middle" fill="#111" transform="translate(192.1,454.5) scale(0.95,1)">3.5</text>
<line x1="212.9" y1="444.5" x2="212.9" y2="447.5" stroke="#111" stroke-width="1.1" />
<text x="0" y="0" font-size="8.5" font-weight="bold" text-anchor="middle" fill="#111" transform="translate(212.9,454.5) scale(0.95,1)">4.0</text>
<line x1="56.9" y1="444.5" x2="56.9" y2="446.5" stroke="#111" stroke-width="1.0" />
<line x1="77.7" y1="444.5" x2="77.7" y2="446.5" stroke="#111" stroke-width="1.0" />
<line x1="98.5" y1="444.5" x2="98.5" y2="446.5" stroke="#111" stroke-width="1.0" />
<line x1="119.3" y1="444.5" x2="119.3" y2="446.5" stroke="#111" stroke-width="1.0" />
<line x1="140.1" y1="444.5" x2="140.1" y2="446.5" stroke="#111" stroke-width="1.0" />
<line x1="160.9" y1="444.5" x2="160.9" y2="446.5" stroke="#111" stroke-width="1.0" />
<line x1="181.7" y1="444.5" x2="181.7" y2="446.5" stroke="#111" stroke-width="1.0" />
<line x1="202.5" y1="444.5" x2="202.5" y2="446.5" stroke="#111" stroke-width="1.0" />
<text x="128" y="463.7" font-size="8" font-weight="bold" text-anchor="middle" fill="#111"  textLength="44.3" lengthAdjust="spacingAndGlyphs">Molar Ratio</text>
<text x="0" y="0" font-size="8.6" font-weight="bold" text-anchor="middle" fill="#111" transform="translate(24,380.6) rotate(-90)" textLength="84.6" lengthAdjust="spacingAndGlyphs">kcal mol<tspan font-size="5.6" dy="-3.2">-1</tspan><tspan dy="3.2"> of injectant</tspan></text>
<text x="0" y="0" font-size="16.4" font-weight="bold" fill="#111" transform="translate(1.9,320) scale(0.95,1)">(c)</text>
<text x="45.8" y="328.7" font-size="9.5" font-weight="bold" fill="#1a1a1a" textLength="107" lengthAdjust="spacingAndGlyphs"><tspan font-style="italic">K</tspan><tspan font-size="6.17" dy="2.09">1</tspan><tspan dy="-2.09"> = (5.4&#177;1.5)&#215;</tspan><tspan fill="#c8201e">10</tspan><tspan fill="#c8201e" font-size="6.46" dy="-3.42">8</tspan><tspan dy="3.42"> M</tspan><tspan font-size="6.27" dy="-3.42">&#8722;1</tspan></text>
<text x="45.8" y="340.4" font-size="9.5" font-weight="bold" fill="#1a1a1a" textLength="107" lengthAdjust="spacingAndGlyphs"><tspan font-style="italic">K</tspan><tspan font-size="6.17" dy="2.09">2</tspan><tspan dy="-2.09"> = (2.4&#177;0.6)&#215;</tspan><tspan fill="#c8201e">10</tspan><tspan fill="#c8201e" font-size="6.46" dy="-3.42">6</tspan><tspan dy="3.42"> M</tspan><tspan font-size="6.27" dy="-3.42">&#8722;1</tspan></text>
<text x="136.7" y="393.5" font-size="9.5" font-weight="bold" fill="#1a1a1a" textLength="60.7" lengthAdjust="spacingAndGlyphs"><tspan font-style="italic">&#916;H</tspan><tspan font-size="6.17" dy="2.09">1</tspan><tspan dy="-2.09"> = -7.2&#177;0</tspan></text>
<text x="136.7" y="406.3" font-size="9.5" font-weight="bold" text-anchor="start" fill="#111"  textLength="41.4" lengthAdjust="spacingAndGlyphs">kcal/mol</text>
<text x="136.7" y="418.5" font-size="9.5" font-weight="bold" fill="#1a1a1a" textLength="74.8" lengthAdjust="spacingAndGlyphs"><tspan font-style="italic">&#916;H</tspan><tspan font-size="6.17" dy="2.09">2</tspan><tspan dy="-2.09"> = -11.0&#177;0.1</tspan></text>
<text x="136.7" y="431.3" font-size="9.5" font-weight="bold" text-anchor="start" fill="#111"  textLength="41.4" lengthAdjust="spacingAndGlyphs">kcal/mol</text>
<clipPath id="clipd"><rect x="270.2" y="155.7" width="171" height="127.2"/></clipPath>
<g clip-path="url(#clipd)">
<path d="M270.36,244.84 L271.37,243.85 L272.38,242.81 L273.39,241.72 L274.4,240.57 L275.41,239.38 L276.42,238.14 L277.43,236.87 L278.44,235.55 L279.45,234.19 L280.46,232.79 L281.48,231.36 L282.49,229.9 L283.5,228.41 L284.51,226.89 L285.52,225.35 L286.53,223.79 L287.54,222.2 L288.55,220.59 L289.56,218.97 L290.57,217.34 L291.58,215.7 L292.59,214.05 L293.61,212.39 L294.62,210.74 L295.63,209.08 L296.64,207.43 L297.65,205.78 L298.66,204.14 L299.67,202.51 L300.68,200.9 L301.69,199.31 L302.7,197.74 L303.71,196.19 L304.73,194.67 L305.74,193.17 L306.75,191.71 L307.76,190.29 L308.77,188.9 L309.78,187.55 L310.79,186.24 L311.8,184.98 L312.81,183.77 L313.82,182.61 L314.83,181.51 L315.84,180.45 L316.86,179.46 L317.87,178.52 L318.88,177.65 L319.89,176.84 L320.9,176.1 L321.91,175.42 L322.92,174.81 L323.93,174.27 L324.94,173.8 L325.95,173.4 L326.96,173.07 L327.97,172.82 L328.99,172.64 L330,172.54 L331.01,172.51 L332.02,172.6 L333.03,172.86 L334.04,173.29 L335.05,173.87 L336.06,174.62 L337.07,175.52 L338.08,176.57 L339.09,177.77 L340.1,179.11 L341.12,180.58 L342.13,182.19 L343.14,183.91 L344.15,185.75 L345.16,187.7 L346.17,189.74 L347.18,191.87 L348.19,194.08 L349.2,196.37 L350.21,198.71 L351.22,201.11 L352.24,203.56 L353.25,206.04 L354.26,208.55 L355.27,211.07 L356.28,213.61 L357.29,216.15 L358.3,218.68 L359.31,221.19 L360.32,223.69 L361.33,226.16 L362.34,228.59 L363.35,230.99 L364.37,233.34 L365.38,235.64 L366.39,237.88 L367.4,240.07 L368.41,242.2 L369.42,244.26 L370.43,246.25 L371.44,248.17 L372.45,250.02 L373.46,251.8 L374.47,253.51 L375.48,255.14 L376.5,256.7 L377.51,258.18 L378.52,259.59 L379.53,260.93 L380.54,262.2 L381.55,263.4 L382.56,264.53 L383.57,265.6 L384.58,266.6 L385.59,267.53 L386.6,268.41 L387.62,269.23 L388.63,270 L389.64,270.71 L390.65,271.37 L391.66,271.98 L392.67,272.55 L393.68,273.07 L394.69,273.56 L395.7,274 L396.71,274.41 L397.72,274.78 L398.73,275.13 L399.75,275.44 L400.76,275.73 L401.77,275.99 L402.78,276.22 L403.79,276.44 L404.8,276.63 L405.81,276.81 L406.82,276.97 L407.83,277.11 L408.84,277.24 L409.85,277.36 L410.86,277.46 L411.88,277.55 L412.89,277.63 L413.9,277.71 L414.91,277.77 L415.92,277.83 L416.93,277.88 L417.94,277.93 L418.95,277.97 L419.96,278.01 L420.97,278.04 L421.98,278.07 L423,278.09 L424.01,278.11 L425.02,278.13 L426.03,278.15 L427.04,278.16 L428.05,278.17 L429.06,278.18 L430.07,278.19 L431.08,278.2 L432.09,278.21 L433.1,278.21 L434.11,278.22 L435.13,278.22 L436.14,278.23 L437.15,278.23 L438.16,278.23 L439.17,278.24 L440.18,278.24 L441.19,278.24" fill="none" stroke="#a8202a" stroke-width="1.15" stroke-linejoin="round" stroke-linecap="round" />
<path d="M270.36,239.95 L271.37,240.08 L272.38,240.09 L273.39,240 L274.4,239.8 L275.41,239.51 L276.42,239.13 L277.43,238.67 L278.44,238.12 L279.45,237.5 L280.46,236.81 L281.48,236.05 L282.49,235.23 L283.5,234.36 L284.51,233.42 L285.52,232.44 L286.53,231.41 L287.54,230.33 L288.55,229.21 L289.56,228.05 L290.57,226.86 L291.58,225.63 L292.59,224.38 L293.61,223.09 L294.62,221.78 L295.63,220.45 L296.64,219.1 L297.65,217.73 L298.66,216.35 L299.67,214.95 L300.68,213.55 L301.69,212.14 L302.7,210.72 L303.71,209.31 L304.73,207.89 L305.74,206.48 L306.75,205.07 L307.76,203.67 L308.77,202.28 L309.78,200.91 L310.79,199.55 L311.8,198.21 L312.81,196.89 L313.82,195.59 L314.83,194.32 L315.84,193.08 L316.86,191.87 L317.87,190.69 L318.88,189.55 L319.89,188.45 L320.9,187.39 L321.91,186.38 L322.92,185.41 L323.93,184.49 L324.94,183.63 L325.95,182.81 L326.96,182.06 L327.97,181.36 L328.99,180.72 L330,180.15 L331.01,179.63 L332.02,179.23 L333.03,178.96 L334.04,178.84 L335.05,178.85 L336.06,179 L337.07,179.29 L338.08,179.72 L339.09,180.28 L340.1,180.98 L341.12,181.8 L342.13,182.75 L343.14,183.82 L344.15,185.01 L345.16,186.31 L346.17,187.71 L347.18,189.22 L348.19,190.81 L349.2,192.5 L350.21,194.27 L351.22,196.11 L352.24,198.02 L353.25,199.99 L354.26,202.02 L355.27,204.1 L356.28,206.22 L357.29,208.37 L358.3,210.56 L359.31,212.76 L360.32,214.99 L361.33,217.22 L362.34,219.45 L363.35,221.68 L364.37,223.89 L365.38,226.1 L366.39,228.28 L367.4,230.43 L368.41,232.56 L369.42,234.65 L370.43,236.7 L371.44,238.71 L372.45,240.67 L373.46,242.59 L374.47,244.45 L375.48,246.26 L376.5,248.02 L377.51,249.71 L378.52,251.35 L379.53,252.93 L380.54,254.45 L381.55,255.91 L382.56,257.31 L383.57,258.65 L384.58,259.93 L385.59,261.15 L386.6,262.31 L387.62,263.41 L388.63,264.45 L389.64,265.44 L390.65,266.38 L391.66,267.26 L392.67,268.09 L393.68,268.87 L394.69,269.6 L395.7,270.29 L396.71,270.93 L397.72,271.53 L398.73,272.09 L399.75,272.61 L400.76,273.1 L401.77,273.55 L402.78,273.96 L403.79,274.35 L404.8,274.7 L405.81,275.03 L406.82,275.33 L407.83,275.61 L408.84,275.86 L409.85,276.1 L410.86,276.31 L411.88,276.5 L412.89,276.68 L413.9,276.84 L414.91,276.99 L415.92,277.12 L416.93,277.24 L417.94,277.35 L418.95,277.45 L419.96,277.54 L420.97,277.62 L421.98,277.69 L423,277.75 L424.01,277.81 L425.02,277.86 L426.03,277.91 L427.04,277.95 L428.05,277.99 L429.06,278.02 L430.07,278.05 L431.08,278.07 L432.09,278.09 L433.1,278.11 L434.11,278.13 L435.13,278.15 L436.14,278.16 L437.15,278.17 L438.16,278.18 L439.17,278.19 L440.18,278.2 L441.19,278.21" fill="none" stroke="#c0272d" stroke-width="1.15" stroke-linejoin="round" stroke-linecap="round" />
<path d="M270.36,235.94 L271.37,236.99 L272.38,237.87 L273.39,238.59 L274.4,239.17 L275.41,239.62 L276.42,239.94 L277.43,240.14 L278.44,240.23 L279.45,240.21 L280.46,240.1 L281.48,239.89 L282.49,239.6 L283.5,239.22 L284.51,238.77 L285.52,238.24 L286.53,237.64 L287.54,236.98 L288.55,236.26 L289.56,235.48 L290.57,234.65 L291.58,233.76 L292.59,232.83 L293.61,231.85 L294.62,230.82 L295.63,229.76 L296.64,228.65 L297.65,227.51 L298.66,226.34 L299.67,225.13 L300.68,223.9 L301.69,222.63 L302.7,221.35 L303.71,220.04 L304.73,218.71 L305.74,217.36 L306.75,216 L307.76,214.62 L308.77,213.23 L309.78,211.83 L310.79,210.43 L311.8,209.02 L312.81,207.61 L313.82,206.21 L314.83,204.8 L315.84,203.41 L316.86,202.02 L317.87,200.65 L318.88,199.29 L319.89,197.95 L320.9,196.64 L321.91,195.35 L322.92,194.09 L323.93,192.86 L324.94,191.67 L325.95,190.52 L326.96,189.41 L327.97,188.34 L328.99,187.33 L330,186.37 L331.01,185.46 L332.02,184.65 L333.03,183.95 L334.04,183.38 L335.05,182.92 L336.06,182.59 L337.07,182.38 L338.08,182.3 L339.09,182.34 L340.1,182.51 L341.12,182.8 L342.13,183.22 L343.14,183.75 L344.15,184.4 L345.16,185.17 L346.17,186.05 L347.18,187.04 L348.19,188.14 L349.2,189.33 L350.21,190.63 L351.22,192.01 L352.24,193.48 L353.25,195.04 L354.26,196.67 L355.27,198.39 L356.28,200.17 L357.29,202.01 L358.3,203.92 L359.31,205.87 L360.32,207.86 L361.33,209.9 L362.34,211.96 L363.35,214.06 L364.37,216.17 L365.38,218.29 L366.39,220.42 L367.4,222.55 L368.41,224.67 L369.42,226.79 L370.43,228.89 L371.44,230.97 L372.45,233.02 L373.46,235.05 L374.47,237.04 L375.48,239 L376.5,240.92 L377.51,242.79 L378.52,244.61 L379.53,246.39 L380.54,248.12 L381.55,249.79 L382.56,251.41 L383.57,252.97 L384.58,254.47 L385.59,255.92 L386.6,257.31 L387.62,258.64 L388.63,259.92 L389.64,261.13 L390.65,262.29 L391.66,263.39 L392.67,264.44 L393.68,265.43 L394.69,266.37 L395.7,267.25 L396.71,268.08 L397.72,268.87 L398.73,269.61 L399.75,270.3 L400.76,270.94 L401.77,271.55 L402.78,272.11 L403.79,272.63 L404.8,273.12 L405.81,273.57 L406.82,273.99 L407.83,274.38 L408.84,274.74 L409.85,275.07 L410.86,275.37 L411.88,275.65 L412.89,275.9 L413.9,276.13 L414.91,276.35 L415.92,276.54 L416.93,276.72 L417.94,276.88 L418.95,277.02 L419.96,277.15 L420.97,277.27 L421.98,277.38 L423,277.48 L424.01,277.57 L425.02,277.64 L426.03,277.71 L427.04,277.78 L428.05,277.83 L429.06,277.88 L430.07,277.93 L431.08,277.97 L432.09,278 L433.1,278.03 L434.11,278.06 L435.13,278.08 L436.14,278.11 L437.15,278.13 L438.16,278.14 L439.17,278.16 L440.18,278.17 L441.19,278.18" fill="none" stroke="#d33a2e" stroke-width="1.15" stroke-linejoin="round" stroke-linecap="round" />
<path d="M270.36,232.39 L271.37,234.24 L272.38,235.89 L273.39,237.34 L274.4,238.61 L275.41,239.71 L276.42,240.66 L277.43,241.45 L278.44,242.1 L279.45,242.62 L280.46,243.02 L281.48,243.3 L282.49,243.47 L283.5,243.54 L284.51,243.52 L285.52,243.4 L286.53,243.19 L287.54,242.9 L288.55,242.53 L289.56,242.09 L290.57,241.57 L291.58,240.99 L292.59,240.34 L293.61,239.63 L294.62,238.85 L295.63,238.03 L296.64,237.14 L297.65,236.2 L298.66,235.22 L299.67,234.18 L300.68,233.09 L301.69,231.96 L302.7,230.79 L303.71,229.58 L304.73,228.33 L305.74,227.04 L306.75,225.71 L307.76,224.35 L308.77,222.96 L309.78,221.55 L310.79,220.1 L311.8,218.64 L312.81,217.15 L313.82,215.64 L314.83,214.12 L315.84,212.59 L316.86,211.05 L317.87,209.5 L318.88,207.95 L319.89,206.4 L320.9,204.86 L321.91,203.32 L322.92,201.8 L323.93,200.3 L324.94,198.82 L325.95,197.36 L326.96,195.94 L327.97,194.55 L328.99,193.2 L330,191.9 L331.01,190.65 L332.02,189.47 L333.03,188.39 L334.04,187.41 L335.05,186.54 L336.06,185.78 L337.07,185.13 L338.08,184.59 L339.09,184.17 L340.1,183.87 L341.12,183.69 L342.13,183.63 L343.14,183.69 L344.15,183.86 L345.16,184.16 L346.17,184.58 L347.18,185.11 L348.19,185.76 L349.2,186.52 L350.21,187.39 L351.22,188.37 L352.24,189.45 L353.25,190.64 L354.26,191.93 L355.27,193.31 L356.28,194.79 L357.29,196.36 L358.3,198.01 L359.31,199.74 L360.32,201.53 L361.33,203.4 L362.34,205.31 L363.35,207.28 L364.37,209.3 L365.38,211.35 L366.39,213.43 L367.4,215.54 L368.41,217.66 L369.42,219.8 L370.43,221.94 L371.44,224.09 L372.45,226.22 L373.46,228.35 L374.47,230.46 L375.48,232.54 L376.5,234.6 L377.51,236.63 L378.52,238.62 L379.53,240.57 L380.54,242.48 L381.55,244.34 L382.56,246.16 L383.57,247.92 L384.58,249.62 L385.59,251.28 L386.6,252.87 L387.62,254.41 L388.63,255.88 L389.64,257.3 L390.65,258.66 L391.66,259.96 L392.67,261.19 L393.68,262.37 L394.69,263.49 L395.7,264.55 L396.71,265.55 L397.72,266.5 L398.73,267.4 L399.75,268.24 L400.76,269.03 L401.77,269.77 L402.78,270.46 L403.79,271.11 L404.8,271.72 L405.81,272.28 L406.82,272.8 L407.83,273.29 L408.84,273.74 L409.85,274.15 L410.86,274.53 L411.88,274.88 L412.89,275.21 L413.9,275.5 L414.91,275.78 L415.92,276.02 L416.93,276.25 L417.94,276.46 L418.95,276.64 L419.96,276.81 L420.97,276.97 L421.98,277.11 L423,277.23 L424.01,277.35 L425.02,277.45 L426.03,277.54 L427.04,277.62 L428.05,277.7 L429.06,277.76 L430.07,277.82 L431.08,277.87 L432.09,277.92 L433.1,277.96 L434.11,278 L435.13,278.03 L436.14,278.06 L437.15,278.08 L438.16,278.1 L439.17,278.12 L440.18,278.14 L441.19,278.16" fill="none" stroke="#e0553a" stroke-width="1.15" stroke-linejoin="round" stroke-linecap="round" />
<path d="M270.36,229.49 L271.37,232.01 L272.38,234.28 L273.39,236.33 L274.4,238.16 L275.41,239.79 L276.42,241.24 L277.43,242.51 L278.44,243.62 L279.45,244.58 L280.46,245.39 L281.48,246.07 L282.49,246.62 L283.5,247.06 L284.51,247.37 L285.52,247.58 L286.53,247.69 L287.54,247.7 L288.55,247.62 L289.56,247.45 L290.57,247.2 L291.58,246.86 L292.59,246.44 L293.61,245.95 L294.62,245.38 L295.63,244.75 L296.64,244.04 L297.65,243.27 L298.66,242.43 L299.67,241.53 L300.68,240.57 L301.69,239.54 L302.7,238.47 L303.71,237.33 L304.73,236.14 L305.74,234.9 L306.75,233.6 L307.76,232.26 L308.77,230.87 L309.78,229.44 L310.79,227.96 L311.8,226.45 L312.81,224.9 L313.82,223.31 L314.83,221.69 L315.84,220.05 L316.86,218.38 L317.87,216.69 L318.88,214.98 L319.89,213.26 L320.9,211.53 L321.91,209.8 L322.92,208.07 L323.93,206.34 L324.94,204.63 L325.95,202.93 L326.96,201.25 L327.97,199.6 L328.99,197.98 L330,196.4 L331.01,194.86 L332.02,193.38 L333.03,191.99 L334.04,190.69 L335.05,189.48 L336.06,188.37 L337.07,187.36 L338.08,186.45 L339.09,185.66 L340.1,184.98 L341.12,184.41 L342.13,183.96 L343.14,183.63 L344.15,183.43 L345.16,183.34 L346.17,183.38 L347.18,183.54 L348.19,183.83 L349.2,184.24 L350.21,184.76 L351.22,185.41 L352.24,186.17 L353.25,187.06 L354.26,188.07 L355.27,189.19 L356.28,190.42 L357.29,191.77 L358.3,193.21 L359.31,194.76 L360.32,196.39 L361.33,198.11 L362.34,199.91 L363.35,201.78 L364.37,203.71 L365.38,205.71 L366.39,207.75 L367.4,209.84 L368.41,211.97 L369.42,214.12 L370.43,216.3 L371.44,218.5 L372.45,220.7 L373.46,222.91 L374.47,225.11 L375.48,227.3 L376.5,229.47 L377.51,231.63 L378.52,233.75 L379.53,235.85 L380.54,237.9 L381.55,239.92 L382.56,241.89 L383.57,243.81 L384.58,245.68 L385.59,247.5 L386.6,249.26 L387.62,250.97 L388.63,252.61 L389.64,254.19 L390.65,255.71 L391.66,257.16 L392.67,258.56 L393.68,259.89 L394.69,261.15 L395.7,262.36 L396.71,263.5 L397.72,264.58 L398.73,265.6 L399.75,266.57 L400.76,267.47 L401.77,268.33 L402.78,269.13 L403.79,269.88 L404.8,270.58 L405.81,271.23 L406.82,271.84 L407.83,272.4 L408.84,272.92 L409.85,273.41 L410.86,273.85 L411.88,274.26 L412.89,274.64 L413.9,274.99 L414.91,275.31 L415.92,275.6 L416.93,275.87 L417.94,276.11 L418.95,276.34 L419.96,276.54 L420.97,276.72 L421.98,276.89 L423,277.04 L424.01,277.17 L425.02,277.29 L426.03,277.4 L427.04,277.5 L428.05,277.59 L429.06,277.66 L430.07,277.73 L431.08,277.8 L432.09,277.85 L433.1,277.9 L434.11,277.95 L435.13,277.98 L436.14,278.02 L437.15,278.05 L438.16,278.07 L439.17,278.1 L440.18,278.12 L441.19,278.14" fill="none" stroke="#ee7a4a" stroke-width="1.15" stroke-linejoin="round" stroke-linecap="round" />
<path d="M270.36,227.05 L271.37,230.12 L272.38,232.93 L273.39,235.47 L274.4,237.78 L275.41,239.86 L276.42,241.73 L277.43,243.41 L278.44,244.91 L279.45,246.24 L280.46,247.4 L281.48,248.42 L282.49,249.29 L283.5,250.03 L284.51,250.64 L285.52,251.13 L286.53,251.5 L287.54,251.77 L288.55,251.93 L289.56,251.99 L290.57,251.95 L291.58,251.82 L292.59,251.6 L293.61,251.3 L294.62,250.91 L295.63,250.43 L296.64,249.88 L297.65,249.24 L298.66,248.53 L299.67,247.75 L300.68,246.89 L301.69,245.96 L302.7,244.96 L303.71,243.89 L304.73,242.75 L305.74,241.55 L306.75,240.28 L307.76,238.95 L308.77,237.56 L309.78,236.12 L310.79,234.62 L311.8,233.06 L312.81,231.45 L313.82,229.8 L314.83,228.1 L315.84,226.36 L316.86,224.58 L317.87,222.77 L318.88,220.93 L319.89,219.07 L320.9,217.18 L321.91,215.28 L322.92,213.37 L323.93,211.45 L324.94,209.54 L325.95,207.63 L326.96,205.74 L327.97,203.87 L328.99,202.02 L330,200.2 L331.01,198.42 L332.02,196.7 L333.03,195.04 L334.04,193.46 L335.05,191.97 L336.06,190.56 L337.07,189.24 L338.08,188.03 L339.09,186.91 L340.1,185.91 L341.12,185.02 L342.13,184.24 L343.14,183.59 L344.15,183.06 L345.16,182.65 L346.17,182.37 L347.18,182.22 L348.19,182.19 L349.2,182.3 L350.21,182.54 L351.22,182.91 L352.24,183.4 L353.25,184.03 L354.26,184.8 L355.27,185.7 L356.28,186.73 L357.29,187.88 L358.3,189.15 L359.31,190.54 L360.32,192.04 L361.33,193.64 L362.34,195.34 L363.35,197.12 L364.37,198.99 L365.38,200.94 L366.39,202.95 L367.4,205.02 L368.41,207.15 L369.42,209.32 L370.43,211.53 L371.44,213.77 L372.45,216.03 L373.46,218.3 L374.47,220.58 L375.48,222.86 L376.5,225.13 L377.51,227.39 L378.52,229.63 L379.53,231.85 L380.54,234.03 L381.55,236.18 L382.56,238.28 L383.57,240.34 L384.58,242.35 L385.59,244.31 L386.6,246.21 L387.62,248.05 L388.63,249.84 L389.64,251.56 L390.65,253.21 L391.66,254.8 L392.67,256.33 L393.68,257.78 L394.69,259.17 L395.7,260.5 L396.71,261.76 L397.72,262.95 L398.73,264.08 L399.75,265.15 L400.76,266.16 L401.77,267.11 L402.78,268 L403.79,268.83 L404.8,269.61 L405.81,270.34 L406.82,271.02 L407.83,271.65 L408.84,272.23 L409.85,272.78 L410.86,273.28 L411.88,273.74 L412.89,274.17 L413.9,274.56 L414.91,274.92 L415.92,275.25 L416.93,275.55 L417.94,275.82 L418.95,276.08 L419.96,276.3 L420.97,276.51 L421.98,276.7 L423,276.87 L424.01,277.02 L425.02,277.16 L426.03,277.28 L427.04,277.39 L428.05,277.49 L429.06,277.58 L430.07,277.66 L431.08,277.73 L432.09,277.8 L433.1,277.85 L434.11,277.9 L435.13,277.95 L436.14,277.98 L437.15,278.02 L438.16,278.05 L439.17,278.08 L440.18,278.1 L441.19,278.12" fill="none" stroke="#f5a05a" stroke-width="1.15" stroke-linejoin="round" stroke-linecap="round" />
<path d="M270.36,225.04 L271.37,228.58 L272.38,231.81 L273.39,234.77 L274.4,237.46 L275.41,239.91 L276.42,242.14 L277.43,244.15 L278.44,245.96 L279.45,247.59 L280.46,249.04 L281.48,250.33 L282.49,251.47 L283.5,252.46 L284.51,253.31 L285.52,254.03 L286.53,254.62 L287.54,255.1 L288.55,255.46 L289.56,255.71 L290.57,255.85 L291.58,255.89 L292.59,255.83 L293.61,255.67 L294.62,255.42 L295.63,255.08 L296.64,254.65 L297.65,254.13 L298.66,253.53 L299.67,252.84 L300.68,252.06 L301.69,251.21 L302.7,250.27 L303.71,249.25 L304.73,248.16 L305.74,246.99 L306.75,245.75 L307.76,244.43 L308.77,243.04 L309.78,241.58 L310.79,240.06 L311.8,238.47 L312.81,236.82 L313.82,235.11 L314.83,233.34 L315.84,231.52 L316.86,229.66 L317.87,227.75 L318.88,225.8 L319.89,223.82 L320.9,221.8 L321.91,219.76 L322.92,217.71 L323.93,215.64 L324.94,213.56 L325.95,211.49 L326.96,209.41 L327.97,207.36 L328.99,205.32 L330,203.31 L331.01,201.34 L332.02,199.41 L333.03,197.54 L334.04,195.73 L335.05,194 L336.06,192.35 L337.07,190.79 L338.08,189.32 L339.09,187.94 L340.1,186.68 L341.12,185.52 L342.13,184.47 L343.14,183.55 L344.15,182.75 L345.16,182.08 L346.17,181.54 L347.18,181.13 L348.19,180.86 L349.2,180.72 L350.21,180.72 L351.22,180.86 L352.24,181.13 L353.25,181.56 L354.26,182.13 L355.27,182.85 L356.28,183.7 L357.29,184.7 L358.3,185.83 L359.31,187.09 L360.32,188.48 L361.33,189.98 L362.34,191.59 L363.35,193.31 L364.37,195.13 L365.38,197.03 L366.39,199.02 L367.4,201.08 L368.41,203.21 L369.42,205.39 L370.43,207.62 L371.44,209.9 L372.45,212.2 L373.46,214.53 L374.47,216.87 L375.48,219.23 L376.5,221.58 L377.51,223.93 L378.52,226.26 L379.53,228.57 L380.54,230.86 L381.55,233.11 L382.56,235.33 L383.57,237.5 L384.58,239.62 L385.59,241.7 L386.6,243.71 L387.62,245.67 L388.63,247.57 L389.64,249.4 L390.65,251.17 L391.66,252.87 L392.67,254.5 L393.68,256.06 L394.69,257.56 L395.7,258.98 L396.71,260.34 L397.72,261.62 L398.73,262.84 L399.75,263.99 L400.76,265.08 L401.77,266.11 L402.78,267.07 L403.79,267.97 L404.8,268.82 L405.81,269.61 L406.82,270.35 L407.83,271.03 L408.84,271.67 L409.85,272.26 L410.86,272.81 L411.88,273.31 L412.89,273.78 L413.9,274.2 L414.91,274.6 L415.92,274.96 L416.93,275.29 L417.94,275.59 L418.95,275.86 L419.96,276.11 L420.97,276.34 L421.98,276.54 L423,276.73 L424.01,276.9 L425.02,277.05 L426.03,277.18 L427.04,277.31 L428.05,277.42 L429.06,277.51 L430.07,277.6 L431.08,277.68 L432.09,277.75 L433.1,277.81 L434.11,277.87 L435.13,277.91 L436.14,277.96 L437.15,277.99 L438.16,278.03 L439.17,278.06 L440.18,278.08 L441.19,278.11" fill="none" stroke="#f8c46e" stroke-width="1.15" stroke-linejoin="round" stroke-linecap="round" />
<path d="M270.36,223.49 L271.37,227.38 L272.38,230.95 L273.39,234.22 L274.4,237.22 L275.41,239.95 L276.42,242.45 L277.43,244.72 L278.44,246.78 L279.45,248.64 L280.46,250.32 L281.48,251.83 L282.49,253.17 L283.5,254.35 L284.51,255.39 L285.52,256.28 L286.53,257.05 L287.54,257.68 L288.55,258.2 L289.56,258.59 L290.57,258.88 L291.58,259.05 L292.59,259.12 L293.61,259.08 L294.62,258.94 L295.63,258.7 L296.64,258.37 L297.65,257.94 L298.66,257.41 L299.67,256.79 L300.68,256.09 L301.69,255.29 L302.7,254.4 L303.71,253.43 L304.73,252.37 L305.74,251.22 L306.75,250 L307.76,248.69 L308.77,247.3 L309.78,245.83 L310.79,244.29 L311.8,242.67 L312.81,240.99 L313.82,239.23 L314.83,237.42 L315.84,235.54 L316.86,233.61 L317.87,231.62 L318.88,229.59 L319.89,227.51 L320.9,225.4 L321.91,223.25 L322.92,221.08 L323.93,218.89 L324.94,216.69 L325.95,214.48 L326.96,212.27 L327.97,210.07 L328.99,207.89 L330,205.73 L331.01,203.6 L332.02,201.51 L333.03,199.48 L334.04,197.5 L335.05,195.59 L336.06,193.75 L337.07,191.99 L338.08,190.32 L339.09,188.74 L340.1,187.27 L341.12,185.91 L342.13,184.65 L343.14,183.52 L344.15,182.52 L345.16,181.64 L346.17,180.89 L347.18,180.29 L348.19,179.82 L349.2,179.49 L350.21,179.3 L351.22,179.26 L352.24,179.37 L353.25,179.63 L354.26,180.05 L355.27,180.63 L356.28,181.35 L357.29,182.23 L358.3,183.25 L359.31,184.41 L360.32,185.71 L361.33,187.13 L362.34,188.68 L363.35,190.35 L364.37,192.12 L365.38,194 L366.39,195.96 L367.4,198.01 L368.41,200.14 L369.42,202.33 L370.43,204.58 L371.44,206.88 L372.45,209.23 L373.46,211.6 L374.47,213.99 L375.48,216.4 L376.5,218.82 L377.51,221.23 L378.52,223.64 L379.53,226.03 L380.54,228.39 L381.55,230.73 L382.56,233.03 L383.57,235.29 L384.58,237.5 L385.59,239.66 L386.6,241.77 L387.62,243.82 L388.63,245.8 L389.64,247.73 L390.65,249.58 L391.66,251.37 L392.67,253.08 L393.68,254.73 L394.69,256.3 L395.7,257.8 L396.71,259.23 L397.72,260.59 L398.73,261.88 L399.75,263.09 L400.76,264.25 L401.77,265.33 L402.78,266.35 L403.79,267.31 L404.8,268.21 L405.81,269.04 L406.82,269.83 L407.83,270.56 L408.84,271.23 L409.85,271.86 L410.86,272.44 L411.88,272.98 L412.89,273.47 L413.9,273.93 L414.91,274.35 L415.92,274.73 L416.93,275.08 L417.94,275.4 L418.95,275.7 L419.96,275.96 L420.97,276.2 L421.98,276.42 L423,276.62 L424.01,276.8 L425.02,276.96 L426.03,277.11 L427.04,277.24 L428.05,277.36 L429.06,277.46 L430.07,277.55 L431.08,277.64 L432.09,277.71 L433.1,277.78 L434.11,277.84 L435.13,277.89 L436.14,277.94 L437.15,277.98 L438.16,278.01 L439.17,278.04 L440.18,278.07 L441.19,278.09" fill="none" stroke="#f6dc8e" stroke-width="1.15" stroke-linejoin="round" stroke-linecap="round" />
<path d="M270.36,222.6 L271.37,226.69 L272.38,230.45 L273.39,233.91 L274.4,237.08 L275.41,239.98 L276.42,242.63 L277.43,245.05 L278.44,247.25 L279.45,249.25 L280.46,251.05 L281.48,252.68 L282.49,254.14 L283.5,255.43 L284.51,256.57 L285.52,257.57 L286.53,258.43 L287.54,259.16 L288.55,259.76 L289.56,260.25 L290.57,260.61 L291.58,260.86 L292.59,260.99 L293.61,261.02 L294.62,260.95 L295.63,260.77 L296.64,260.49 L297.65,260.11 L298.66,259.63 L299.67,259.06 L300.68,258.39 L301.69,257.62 L302.7,256.76 L303.71,255.81 L304.73,254.77 L305.74,253.64 L306.75,252.43 L307.76,251.12 L308.77,249.73 L309.78,248.26 L310.79,246.71 L311.8,245.08 L312.81,243.37 L313.82,241.59 L314.83,239.75 L315.84,237.84 L316.86,235.86 L317.87,233.83 L318.88,231.75 L319.89,229.62 L320.9,227.45 L321.91,225.25 L322.92,223.01 L323.93,220.75 L324.94,218.48 L325.95,216.19 L326.96,213.91 L327.97,211.63 L328.99,209.36 L330,207.11 L331.01,204.9 L332.02,202.72 L333.03,200.59 L334.04,198.51 L335.05,196.49 L336.06,194.54 L337.07,192.67 L338.08,190.89 L339.09,189.2 L340.1,187.61 L341.12,186.13 L342.13,184.76 L343.14,183.51 L344.15,182.38 L345.16,181.39 L346.17,180.53 L347.18,179.8 L348.19,179.22 L349.2,178.79 L350.21,178.5 L351.22,178.35 L352.24,178.36 L353.25,178.53 L354.26,178.86 L355.27,179.36 L356.28,180.01 L357.29,180.82 L358.3,181.77 L359.31,182.88 L360.32,184.13 L361.33,185.51 L362.34,187.02 L363.35,188.66 L364.37,190.4 L365.38,192.26 L366.39,194.22 L367.4,196.26 L368.41,198.39 L369.42,200.59 L370.43,202.85 L371.44,205.16 L372.45,207.53 L373.46,209.92 L374.47,212.35 L375.48,214.79 L376.5,217.24 L377.51,219.69 L378.52,222.14 L379.53,224.57 L380.54,226.99 L381.55,229.37 L382.56,231.72 L383.57,234.03 L384.58,236.29 L385.59,238.5 L386.6,240.66 L387.62,242.76 L388.63,244.8 L389.64,246.77 L390.65,248.67 L391.66,250.51 L392.67,252.27 L393.68,253.96 L394.69,255.58 L395.7,257.12 L396.71,258.6 L397.72,260 L398.73,261.32 L399.75,262.58 L400.76,263.77 L401.77,264.89 L402.78,265.94 L403.79,266.93 L404.8,267.85 L405.81,268.72 L406.82,269.53 L407.83,270.28 L408.84,270.98 L409.85,271.63 L410.86,272.23 L411.88,272.79 L412.89,273.3 L413.9,273.77 L414.91,274.21 L415.92,274.6 L416.93,274.97 L417.94,275.3 L418.95,275.6 L419.96,275.88 L420.97,276.13 L421.98,276.36 L423,276.56 L424.01,276.75 L425.02,276.91 L426.03,277.07 L427.04,277.2 L428.05,277.32 L429.06,277.43 L430.07,277.53 L431.08,277.62 L432.09,277.69 L433.1,277.76 L434.11,277.82 L435.13,277.88 L436.14,277.92 L437.15,277.97 L438.16,278 L439.17,278.04 L440.18,278.06 L441.19,278.09" fill="none" stroke="#f3e3a2" stroke-width="1.15" stroke-linejoin="round" stroke-linecap="round" />
<path d="M270.36,222.81 L271.37,226.88 L272.38,230.62 L273.39,234.06 L274.4,237.21 L275.41,240.1 L276.42,242.74 L277.43,245.15 L278.44,247.35 L279.45,249.34 L280.46,251.15 L281.48,252.78 L282.49,254.24 L283.5,255.55 L284.51,256.71 L285.52,257.73 L286.53,258.61 L287.54,259.37 L288.55,260.01 L289.56,260.53 L290.57,260.93 L291.58,261.23 L292.59,261.43 L293.61,261.52 L294.62,261.52 L295.63,261.42 L296.64,261.22 L297.65,260.93 L298.66,260.55 L299.67,260.09 L300.68,259.53 L301.69,258.89 L302.7,258.17 L303.71,257.36 L304.73,256.47 L305.74,255.49 L306.75,254.44 L307.76,253.31 L308.77,252.1 L309.78,250.82 L310.79,249.47 L311.8,248.04 L312.81,246.54 L313.82,244.98 L314.83,243.36 L315.84,241.67 L316.86,239.93 L317.87,238.13 L318.88,236.28 L319.89,234.38 L320.9,232.45 L321.91,230.47 L322.92,228.47 L323.93,226.43 L324.94,224.38 L325.95,222.3 L326.96,220.22 L327.97,218.14 L328.99,216.05 L330,213.97 L331.01,211.91 L332.02,209.87 L333.03,207.86 L334.04,205.88 L335.05,203.94 L336.06,202.05 L337.07,200.22 L338.08,198.44 L339.09,196.73 L340.1,195.1 L341.12,193.54 L342.13,192.07 L343.14,190.69 L344.15,189.4 L345.16,188.21 L346.17,187.13 L347.18,186.15 L348.19,185.28 L349.2,184.53 L350.21,183.89 L351.22,183.37 L352.24,182.97 L353.25,182.7 L354.26,182.56 L355.27,182.54 L356.28,182.66 L357.29,182.91 L358.3,183.28 L359.31,183.78 L360.32,184.39 L361.33,185.12 L362.34,185.97 L363.35,186.92 L364.37,187.97 L365.38,189.12 L366.39,190.36 L367.4,191.69 L368.41,193.1 L369.42,194.58 L370.43,196.13 L371.44,197.74 L372.45,199.4 L373.46,201.11 L374.47,202.86 L375.48,204.64 L376.5,206.46 L377.51,208.29 L378.52,210.19 L379.53,212.17 L380.54,214.22 L381.55,216.34 L382.56,218.51 L383.57,220.72 L384.58,222.98 L385.59,225.26 L386.6,227.57 L387.62,229.88 L388.63,232.2 L389.64,234.51 L390.65,236.8 L391.66,239.06 L392.67,241.3 L393.68,243.49 L394.69,245.63 L395.7,247.71 L396.71,249.73 L397.72,251.69 L398.73,253.57 L399.75,255.38 L400.76,257.1 L401.77,258.75 L402.78,260.31 L403.79,261.79 L404.8,263.19 L405.81,264.5 L406.82,265.73 L407.83,266.87 L408.84,267.94 L409.85,268.93 L410.86,269.85 L411.88,270.69 L412.89,271.46 L413.9,272.17 L414.91,272.82 L415.92,273.41 L416.93,273.95 L417.94,274.43 L418.95,274.87 L419.96,275.26 L420.97,275.62 L421.98,275.93 L423,276.21 L424.01,276.47 L425.02,276.69 L426.03,276.89 L427.04,277.06 L428.05,277.22 L429.06,277.35 L430.07,277.47 L431.08,277.58 L432.09,277.67 L433.1,277.75 L434.11,277.82 L435.13,277.88 L436.14,277.93 L437.15,277.97 L438.16,278.01 L439.17,278.05 L440.18,278.08 L441.19,278.1" fill="none" stroke="#d9eef4" stroke-width="1.15" stroke-linejoin="round" stroke-linecap="round" />
<path d="M270.36,223.03 L271.37,227.08 L272.38,230.8 L273.39,234.21 L274.4,237.35 L275.41,240.22 L276.42,242.85 L277.43,245.25 L278.44,247.44 L279.45,249.44 L280.46,251.24 L281.48,252.88 L282.49,254.35 L283.5,255.67 L284.51,256.84 L285.52,257.88 L286.53,258.79 L287.54,259.58 L288.55,260.25 L289.56,260.81 L290.57,261.26 L291.58,261.61 L292.59,261.86 L293.61,262.02 L294.62,262.09 L295.63,262.06 L296.64,261.95 L297.65,261.75 L298.66,261.48 L299.67,261.12 L300.68,260.68 L301.69,260.16 L302.7,259.57 L303.71,258.9 L304.73,258.16 L305.74,257.34 L306.75,256.46 L307.76,255.5 L308.77,254.47 L309.78,253.38 L310.79,252.22 L311.8,251 L312.81,249.72 L313.82,248.37 L314.83,246.97 L315.84,245.5 L316.86,243.99 L317.87,242.42 L318.88,240.81 L319.89,239.15 L320.9,237.44 L321.91,235.7 L322.92,233.92 L323.93,232.11 L324.94,230.28 L325.95,228.42 L326.96,226.54 L327.97,224.64 L328.99,222.74 L330,220.83 L331.01,218.92 L332.02,217.02 L333.03,215.13 L334.04,213.25 L335.05,211.39 L336.06,209.56 L337.07,207.76 L338.08,205.99 L339.09,204.27 L340.1,202.59 L341.12,200.96 L342.13,199.39 L343.14,197.87 L344.15,196.42 L345.16,195.04 L346.17,193.73 L347.18,192.5 L348.19,191.35 L349.2,190.27 L350.21,189.29 L351.22,188.39 L352.24,187.57 L353.25,186.86 L354.26,186.25 L355.27,185.73 L356.28,185.32 L357.29,185 L358.3,184.79 L359.31,184.67 L360.32,184.66 L361.33,184.74 L362.34,184.91 L363.35,185.18 L364.37,185.54 L365.38,185.98 L366.39,186.51 L367.4,187.12 L368.41,187.81 L369.42,188.58 L370.43,189.41 L371.44,190.31 L372.45,191.27 L373.46,192.3 L374.47,193.37 L375.48,194.5 L376.5,195.67 L377.51,196.89 L378.52,198.25 L379.53,199.77 L380.54,201.46 L381.55,203.3 L382.56,205.29 L383.57,207.42 L384.58,209.67 L385.59,212.02 L386.6,214.48 L387.62,217.01 L388.63,219.6 L389.64,222.25 L390.65,224.93 L391.66,227.62 L392.67,230.32 L393.68,233.01 L394.69,235.67 L395.7,238.29 L396.71,240.87 L397.72,243.38 L398.73,245.81 L399.75,248.17 L400.76,250.44 L401.77,252.61 L402.78,254.69 L403.79,256.66 L404.8,258.52 L405.81,260.28 L406.82,261.93 L407.83,263.47 L408.84,264.9 L409.85,266.23 L410.86,267.46 L411.88,268.59 L412.89,269.63 L413.9,270.57 L414.91,271.44 L415.92,272.22 L416.93,272.93 L417.94,273.56 L418.95,274.14 L419.96,274.65 L420.97,275.1 L421.98,275.51 L423,275.87 L424.01,276.18 L425.02,276.46 L426.03,276.71 L427.04,276.92 L428.05,277.11 L429.06,277.27 L430.07,277.41 L431.08,277.54 L432.09,277.64 L433.1,277.73 L434.11,277.81 L435.13,277.88 L436.14,277.93 L437.15,277.98 L438.16,278.03 L439.17,278.06 L440.18,278.09 L441.19,278.12" fill="none" stroke="#b6dcec" stroke-width="1.15" stroke-linejoin="round" stroke-linecap="round" />
<path d="M270.36,223.25 L271.37,227.27 L272.38,230.97 L273.39,234.36 L274.4,237.48 L275.41,240.34 L276.42,242.96 L277.43,245.35 L278.44,247.54 L279.45,249.53 L280.46,251.34 L281.48,252.98 L282.49,254.46 L283.5,255.79 L284.51,256.98 L285.52,258.04 L286.53,258.97 L287.54,259.79 L288.55,260.49 L289.56,261.09 L290.57,261.59 L291.58,261.99 L292.59,262.3 L293.61,262.52 L294.62,262.65 L295.63,262.71 L296.64,262.68 L297.65,262.58 L298.66,262.4 L299.67,262.15 L300.68,261.82 L301.69,261.43 L302.7,260.97 L303.71,260.44 L304.73,259.85 L305.74,259.19 L306.75,258.47 L307.76,257.69 L308.77,256.85 L309.78,255.94 L310.79,254.98 L311.8,253.96 L312.81,252.89 L313.82,251.76 L314.83,250.57 L315.84,249.34 L316.86,248.05 L317.87,246.72 L318.88,245.34 L319.89,243.91 L320.9,242.44 L321.91,240.93 L322.92,239.38 L323.93,237.8 L324.94,236.18 L325.95,234.53 L326.96,232.85 L327.97,231.15 L328.99,229.43 L330,227.69 L331.01,225.94 L332.02,224.17 L333.03,222.4 L334.04,220.62 L335.05,218.84 L336.06,217.07 L337.07,215.3 L338.08,213.54 L339.09,211.8 L340.1,210.08 L341.12,208.37 L342.13,206.7 L343.14,205.06 L344.15,203.45 L345.16,201.87 L346.17,200.34 L347.18,198.85 L348.19,197.41 L349.2,196.02 L350.21,194.68 L351.22,193.4 L352.24,192.18 L353.25,191.02 L354.26,189.94 L355.27,188.92 L356.28,187.97 L357.29,187.1 L358.3,186.29 L359.31,185.57 L360.32,184.92 L361.33,184.35 L362.34,183.86 L363.35,183.44 L364.37,183.11 L365.38,182.85 L366.39,182.66 L367.4,182.56 L368.41,182.53 L369.42,182.57 L370.43,182.69 L371.44,182.88 L372.45,183.15 L373.46,183.48 L374.47,183.88 L375.48,184.35 L376.5,184.89 L377.51,185.49 L378.52,186.3 L379.53,187.37 L380.54,188.7 L381.55,190.27 L382.56,192.08 L383.57,194.12 L384.58,196.36 L385.59,198.78 L386.6,201.38 L387.62,204.13 L388.63,207.01 L389.64,209.99 L390.65,213.05 L391.66,216.18 L392.67,219.35 L393.68,222.53 L394.69,225.72 L395.7,228.88 L396.71,232 L397.72,235.07 L398.73,238.06 L399.75,240.97 L400.76,243.77 L401.77,246.47 L402.78,249.06 L403.79,251.52 L404.8,253.85 L405.81,256.05 L406.82,258.12 L407.83,260.06 L408.84,261.86 L409.85,263.53 L410.86,265.07 L411.88,266.49 L412.89,267.79 L413.9,268.98 L414.91,270.05 L415.92,271.03 L416.93,271.91 L417.94,272.7 L418.95,273.4 L419.96,274.03 L420.97,274.59 L421.98,275.08 L423,275.52 L424.01,275.9 L425.02,276.24 L426.03,276.53 L427.04,276.78 L428.05,277 L429.06,277.19 L430.07,277.36 L431.08,277.5 L432.09,277.62 L433.1,277.72 L434.11,277.81 L435.13,277.88 L436.14,277.94 L437.15,277.99 L438.16,278.04 L439.17,278.07 L440.18,278.1 L441.19,278.13" fill="none" stroke="#8cc0de" stroke-width="1.15" stroke-linejoin="round" stroke-linecap="round" />
<path d="M270.36,223.38 L271.37,227.38 L272.38,231.07 L273.39,234.45 L274.4,237.56 L275.41,240.41 L276.42,243.03 L277.43,245.41 L278.44,247.6 L279.45,249.59 L280.46,251.4 L281.48,253.04 L282.49,254.52 L283.5,255.86 L284.51,257.06 L285.52,258.13 L286.53,259.08 L287.54,259.91 L288.55,260.64 L289.56,261.26 L290.57,261.79 L291.58,262.22 L292.59,262.56 L293.61,262.82 L294.62,263 L295.63,263.09 L296.64,263.12 L297.65,263.07 L298.66,262.95 L299.67,262.76 L300.68,262.51 L301.69,262.19 L302.7,261.81 L303.71,261.37 L304.73,260.86 L305.74,260.3 L306.75,259.68 L307.76,259 L308.77,258.27 L309.78,257.48 L310.79,256.64 L311.8,255.74 L312.81,254.79 L313.82,253.79 L314.83,252.74 L315.84,251.64 L316.86,250.49 L317.87,249.29 L318.88,248.05 L319.89,246.77 L320.9,245.44 L321.91,244.07 L322.92,242.65 L323.93,241.2 L324.94,239.72 L325.95,238.2 L326.96,236.64 L327.97,235.06 L328.99,233.45 L330,231.81 L331.01,230.14 L332.02,228.46 L333.03,226.76 L334.04,225.04 L335.05,223.31 L336.06,221.57 L337.07,219.82 L338.08,218.07 L339.09,216.32 L340.1,214.57 L341.12,212.82 L342.13,211.09 L343.14,209.37 L344.15,207.66 L345.16,205.97 L346.17,204.3 L347.18,202.66 L348.19,201.05 L349.2,199.47 L350.21,197.92 L351.22,196.41 L352.24,194.94 L353.25,193.52 L354.26,192.15 L355.27,190.83 L356.28,189.56 L357.29,188.35 L358.3,187.2 L359.31,186.11 L360.32,185.08 L361.33,184.12 L362.34,183.23 L363.35,182.4 L364.37,181.65 L365.38,180.96 L366.39,180.35 L367.4,179.82 L368.41,179.36 L369.42,178.97 L370.43,178.66 L371.44,178.43 L372.45,178.27 L373.46,178.19 L374.47,178.19 L375.48,178.27 L376.5,178.42 L377.51,178.65 L378.52,179.13 L379.53,179.93 L380.54,181.04 L381.55,182.45 L382.56,184.16 L383.57,186.13 L384.58,188.37 L385.59,190.84 L386.6,193.53 L387.62,196.4 L388.63,199.45 L389.64,202.63 L390.65,205.93 L391.66,209.32 L392.67,212.76 L393.68,216.25 L394.69,219.75 L395.7,223.23 L396.71,226.68 L397.72,230.08 L398.73,233.41 L399.75,236.64 L400.76,239.78 L401.77,242.79 L402.78,245.68 L403.79,248.44 L404.8,251.05 L405.81,253.52 L406.82,255.84 L407.83,258.01 L408.84,260.03 L409.85,261.91 L410.86,263.64 L411.88,265.23 L412.89,266.69 L413.9,268.02 L414.91,269.22 L415.92,270.31 L416.93,271.3 L417.94,272.18 L418.95,272.96 L419.96,273.66 L420.97,274.28 L421.98,274.83 L423,275.31 L424.01,275.73 L425.02,276.1 L426.03,276.42 L427.04,276.7 L428.05,276.94 L429.06,277.15 L430.07,277.32 L431.08,277.47 L432.09,277.6 L433.1,277.71 L434.11,277.8 L435.13,277.88 L436.14,277.94 L437.15,278 L438.16,278.04 L439.17,278.08 L440.18,278.11 L441.19,278.14" fill="none" stroke="#5f98c8" stroke-width="1.15" stroke-linejoin="round" stroke-linecap="round" />
<path d="M270.36,223.44 L271.37,227.44 L272.38,231.12 L273.39,234.5 L274.4,237.6 L275.41,240.45 L276.42,243.06 L277.43,245.44 L278.44,247.62 L279.45,249.61 L280.46,251.42 L281.48,253.07 L282.49,254.55 L283.5,255.89 L284.51,257.1 L285.52,258.17 L286.53,259.13 L287.54,259.97 L288.55,260.71 L289.56,261.34 L290.57,261.88 L291.58,262.32 L292.59,262.68 L293.61,262.96 L294.62,263.15 L295.63,263.28 L296.64,263.32 L297.65,263.3 L298.66,263.21 L299.67,263.05 L300.68,262.83 L301.69,262.55 L302.7,262.2 L303.71,261.8 L304.73,261.34 L305.74,260.82 L306.75,260.25 L307.76,259.62 L308.77,258.93 L309.78,258.2 L310.79,257.41 L311.8,256.57 L312.81,255.68 L313.82,254.74 L314.83,253.75 L315.84,252.71 L316.86,251.63 L317.87,250.5 L318.88,249.32 L319.89,248.1 L320.9,246.84 L321.91,245.53 L322.92,244.18 L323.93,242.8 L324.94,241.37 L325.95,239.91 L326.96,238.41 L327.97,236.88 L328.99,235.32 L330,233.73 L331.01,232.11 L332.02,230.46 L333.03,228.79 L334.04,227.1 L335.05,225.4 L336.06,223.67 L337.07,221.93 L338.08,220.18 L339.09,218.43 L340.1,216.67 L341.12,214.9 L342.13,213.14 L343.14,211.38 L344.15,209.62 L345.16,207.88 L346.17,206.15 L347.18,204.44 L348.19,202.74 L349.2,201.07 L350.21,199.43 L351.22,197.82 L352.24,196.23 L353.25,194.69 L354.26,193.18 L355.27,191.72 L356.28,190.3 L357.29,188.94 L358.3,187.62 L359.31,186.36 L360.32,185.16 L361.33,184.01 L362.34,182.93 L363.35,181.91 L364.37,180.96 L365.38,180.08 L366.39,179.27 L367.4,178.54 L368.41,177.87 L369.42,177.29 L370.43,176.78 L371.44,176.35 L372.45,176 L373.46,175.73 L374.47,175.54 L375.48,175.43 L376.5,175.4 L377.51,175.46 L378.52,175.78 L379.53,176.45 L380.54,177.46 L381.55,178.8 L382.56,180.46 L383.57,182.41 L384.58,184.64 L385.59,187.13 L386.6,189.86 L387.62,192.8 L388.63,195.92 L389.64,199.2 L390.65,202.61 L391.66,206.11 L392.67,209.69 L393.68,213.32 L394.69,216.96 L395.7,220.59 L396.71,224.2 L397.72,227.75 L398.73,231.23 L399.75,234.62 L400.76,237.91 L401.77,241.07 L402.78,244.11 L403.79,247 L404.8,249.75 L405.81,252.34 L406.82,254.78 L407.83,257.06 L408.84,259.18 L409.85,261.15 L410.86,262.97 L411.88,264.64 L412.89,266.18 L413.9,267.57 L414.91,268.84 L415.92,269.98 L416.93,271.01 L417.94,271.93 L418.95,272.76 L419.96,273.49 L420.97,274.14 L421.98,274.71 L423,275.21 L424.01,275.65 L425.02,276.04 L426.03,276.37 L427.04,276.66 L428.05,276.91 L429.06,277.12 L430.07,277.31 L431.08,277.46 L432.09,277.59 L433.1,277.71 L434.11,277.8 L435.13,277.88 L436.14,277.95 L437.15,278 L438.16,278.05 L439.17,278.08 L440.18,278.12 L441.19,278.14" fill="none" stroke="#3f77b0" stroke-width="1.15" stroke-linejoin="round" stroke-linecap="round" />
<path d="M270.36,223.46 L271.37,227.46 L272.38,231.14 L273.39,234.51 L274.4,237.62 L275.41,240.46 L276.42,243.07 L277.43,245.46 L278.44,247.64 L279.45,249.62 L280.46,251.43 L281.48,253.08 L282.49,254.57 L283.5,255.91 L284.51,257.11 L285.52,258.19 L286.53,259.15 L287.54,260 L288.55,260.74 L289.56,261.37 L290.57,261.92 L291.58,262.37 L292.59,262.73 L293.61,263.02 L294.62,263.22 L295.63,263.35 L296.64,263.41 L297.65,263.4 L298.66,263.32 L299.67,263.18 L300.68,262.97 L301.69,262.7 L302.7,262.37 L303.71,261.99 L304.73,261.54 L305.74,261.04 L306.75,260.49 L307.76,259.88 L308.77,259.22 L309.78,258.5 L310.79,257.74 L311.8,256.92 L312.81,256.06 L313.82,255.15 L314.83,254.18 L315.84,253.17 L316.86,252.12 L317.87,251.01 L318.88,249.86 L319.89,248.67 L320.9,247.44 L321.91,246.16 L322.92,244.84 L323.93,243.48 L324.94,242.08 L325.95,240.64 L326.96,239.17 L327.97,237.66 L328.99,236.12 L330,234.55 L331.01,232.95 L332.02,231.32 L333.03,229.67 L334.04,227.99 L335.05,226.29 L336.06,224.57 L337.07,222.84 L338.08,221.09 L339.09,219.33 L340.1,217.56 L341.12,215.79 L342.13,214.01 L343.14,212.24 L344.15,210.47 L345.16,208.7 L346.17,206.94 L347.18,205.2 L348.19,203.47 L349.2,201.76 L350.21,200.08 L351.22,198.42 L352.24,196.79 L353.25,195.19 L354.26,193.63 L355.27,192.1 L356.28,190.62 L357.29,189.19 L358.3,187.8 L359.31,186.47 L360.32,185.19 L361.33,183.97 L362.34,182.8 L363.35,181.71 L364.37,180.67 L365.38,179.71 L366.39,178.81 L367.4,177.99 L368.41,177.24 L369.42,176.57 L370.43,175.97 L371.44,175.46 L372.45,175.02 L373.46,174.67 L374.47,174.4 L375.48,174.21 L376.5,174.1 L377.51,174.09 L378.52,174.35 L379.53,174.97 L380.54,175.93 L381.55,177.24 L382.56,178.87 L383.57,180.81 L384.58,183.04 L385.59,185.54 L386.6,188.29 L387.62,191.25 L388.63,194.41 L389.64,197.73 L390.65,201.18 L391.66,204.74 L392.67,208.38 L393.68,212.06 L394.69,215.76 L395.7,219.46 L396.71,223.14 L397.72,226.76 L398.73,230.3 L399.75,233.76 L400.76,237.11 L401.77,240.34 L402.78,243.43 L403.79,246.38 L404.8,249.19 L405.81,251.83 L406.82,254.32 L407.83,256.65 L408.84,258.82 L409.85,260.83 L410.86,262.69 L411.88,264.39 L412.89,265.95 L413.9,267.38 L414.91,268.67 L415.92,269.84 L416.93,270.89 L417.94,271.83 L418.95,272.67 L419.96,273.42 L420.97,274.08 L421.98,274.66 L423,275.17 L424.01,275.62 L425.02,276.01 L426.03,276.35 L427.04,276.64 L428.05,276.9 L429.06,277.11 L430.07,277.3 L431.08,277.46 L432.09,277.59 L433.1,277.7 L434.11,277.8 L435.13,277.88 L436.14,277.95 L437.15,278 L438.16,278.05 L439.17,278.09 L440.18,278.12 L441.19,278.14" fill="none" stroke="#2f5f9c" stroke-width="1.15" stroke-linejoin="round" stroke-linecap="round" />
<path d="M270.36,223.46 L271.37,227.46 L272.38,231.14 L273.39,234.51 L274.4,237.62 L275.41,240.46 L276.42,243.07 L277.43,245.46 L278.44,247.64 L279.45,249.62 L280.46,251.43 L281.48,253.08 L282.49,254.57 L283.5,255.91 L284.51,257.11 L285.52,258.19 L286.53,259.15 L287.54,260 L288.55,260.74 L289.56,261.37 L290.57,261.92 L291.58,262.37 L292.59,262.73 L293.61,263.02 L294.62,263.22 L295.63,263.35 L296.64,263.41 L297.65,263.4 L298.66,263.32 L299.67,263.18 L300.68,262.97 L301.69,262.7 L302.7,262.37 L303.71,261.99 L304.73,261.54 L305.74,261.04 L306.75,260.49 L307.76,259.88 L308.77,259.22 L309.78,258.5 L310.79,257.74 L311.8,256.92 L312.81,256.06 L313.82,255.15 L314.83,254.18 L315.84,253.17 L316.86,252.12 L317.87,251.01 L318.88,249.86 L319.89,248.67 L320.9,247.44 L321.91,246.16 L322.92,244.84 L323.93,243.48 L324.94,242.08 L325.95,240.64 L326.96,239.17 L327.97,237.66 L328.99,236.12 L330,234.55 L331.01,232.95 L332.02,231.32 L333.03,229.67 L334.04,227.99 L335.05,226.29 L336.06,224.57 L337.07,222.84 L338.08,221.09 L339.09,219.33 L340.1,217.56 L341.12,215.79 L342.13,214.01 L343.14,212.24 L344.15,210.47 L345.16,208.7 L346.17,206.94 L347.18,205.2 L348.19,203.47 L349.2,201.76 L350.21,200.08 L351.22,198.42 L352.24,196.79 L353.25,195.19 L354.26,193.63 L355.27,192.1 L356.28,190.62 L357.29,189.19 L358.3,187.8 L359.31,186.47 L360.32,185.19 L361.33,183.97 L362.34,182.8 L363.35,181.71 L364.37,180.67 L365.38,179.71 L366.39,178.81 L367.4,177.99 L368.41,177.24 L369.42,176.57 L370.43,175.97 L371.44,175.46 L372.45,175.02 L373.46,174.67 L374.47,174.4 L375.48,174.21 L376.5,174.1 L377.51,174.09 L378.52,174.35 L379.53,174.97 L380.54,175.93 L381.55,177.24 L382.56,178.87 L383.57,180.81 L384.58,183.04 L385.59,185.54 L386.6,188.29 L387.62,191.25 L388.63,194.41 L389.64,197.73 L390.65,201.18 L391.66,204.74 L392.67,208.38 L393.68,212.06 L394.69,215.76 L395.7,219.46 L396.71,223.14 L397.72,226.76 L398.73,230.3 L399.75,233.76 L400.76,237.11 L401.77,240.34 L402.78,243.43 L403.79,246.38 L404.8,249.19 L405.81,251.83 L406.82,254.32 L407.83,256.65 L408.84,258.82 L409.85,260.83 L410.86,262.69 L411.88,264.39 L412.89,265.95 L413.9,267.38 L414.91,268.67 L415.92,269.84 L416.93,270.89 L417.94,271.83 L418.95,272.67 L419.96,273.42 L420.97,274.08 L421.98,274.66 L423,275.17 L424.01,275.62 L425.02,276.01 L426.03,276.35 L427.04,276.64 L428.05,276.9 L429.06,277.11 L430.07,277.3 L431.08,277.46 L432.09,277.59 L433.1,277.7 L434.11,277.8 L435.13,277.88 L436.14,277.95 L437.15,278 L438.16,278.05 L439.17,278.09 L440.18,278.12 L441.19,278.14" fill="none" stroke="#2b5893" stroke-width="1.15" stroke-linejoin="round" stroke-linecap="round" />
</g>
<rect x="270.2" y="155.7" width="171" height="127.2" fill="none" stroke="#1a1a1a" stroke-width="1.2"/>
<line x1="267.2" y1="279.8" x2="270.2" y2="279.8" stroke="#111" stroke-width="1.1" />
<text x="0" y="0" font-size="8.5" font-weight="bold" text-anchor="end" fill="#111" transform="translate(266.3,282.7) scale(0.95,1)">0.0</text>
<line x1="267.2" y1="248.8" x2="270.2" y2="248.8" stroke="#111" stroke-width="1.1" />
<text x="0" y="0" font-size="8.5" font-weight="bold" text-anchor="end" fill="#111" transform="translate(266.3,251.7) scale(0.95,1)">0.1</text>
<line x1="267.2" y1="217.8" x2="270.2" y2="217.8" stroke="#111" stroke-width="1.1" />
<text x="0" y="0" font-size="8.5" font-weight="bold" text-anchor="end" fill="#111" transform="translate(266.3,220.7) scale(0.95,1)">0.2</text>
<line x1="267.2" y1="186.8" x2="270.2" y2="186.8" stroke="#111" stroke-width="1.1" />
<text x="0" y="0" font-size="8.5" font-weight="bold" text-anchor="end" fill="#111" transform="translate(266.3,189.7) scale(0.95,1)">0.3</text>
<line x1="267.2" y1="155.8" x2="270.2" y2="155.8" stroke="#111" stroke-width="1.1" />
<text x="0" y="0" font-size="8.5" font-weight="bold" text-anchor="end" fill="#111" transform="translate(266.3,158.7) scale(0.95,1)">0.4</text>
<line x1="268.2" y1="264.3" x2="270.2" y2="264.3" stroke="#111" stroke-width="1.0" />
<line x1="268.2" y1="233.3" x2="270.2" y2="233.3" stroke="#111" stroke-width="1.0" />
<line x1="268.2" y1="202.3" x2="270.2" y2="202.3" stroke="#111" stroke-width="1.0" />
<line x1="268.2" y1="171.3" x2="270.2" y2="171.3" stroke="#111" stroke-width="1.0" />
<line x1="315.5" y1="282.9" x2="315.5" y2="285.9" stroke="#111" stroke-width="1.1" />
<text x="0" y="0" font-size="8.5" font-weight="bold" text-anchor="middle" fill="#111" transform="translate(315.5,293.8) scale(0.95,1)">400</text>
<line x1="374.9" y1="282.9" x2="374.9" y2="285.9" stroke="#111" stroke-width="1.1" />
<text x="0" y="0" font-size="8.5" font-weight="bold" text-anchor="middle" fill="#111" transform="translate(374.9,293.8) scale(0.95,1)">450</text>
<line x1="434.3" y1="282.9" x2="434.3" y2="285.9" stroke="#111" stroke-width="1.1" />
<text x="0" y="0" font-size="8.5" font-weight="bold" text-anchor="middle" fill="#111" transform="translate(434.3,293.8) scale(0.95,1)">500</text>
<line x1="285.8" y1="282.9" x2="285.8" y2="284.9" stroke="#111" stroke-width="1.0" />
<line x1="345.2" y1="282.9" x2="345.2" y2="284.9" stroke="#111" stroke-width="1.0" />
<line x1="404.6" y1="282.9" x2="404.6" y2="284.9" stroke="#111" stroke-width="1.0" />
<text x="352.5" y="304.5" font-size="8" font-weight="bold" text-anchor="middle" fill="#111"  textLength="65.7" lengthAdjust="spacingAndGlyphs">Wavelength / nm</text>
<text x="0" y="0" font-size="8" font-weight="bold" text-anchor="middle" fill="#111" transform="translate(252.3,211.5) rotate(-90)">Abs</text>
<text x="0" y="0" font-size="16.4" font-weight="bold" fill="#111" transform="translate(227.6,156.1) scale(0.95,1)">(d)</text>
<rect x="269.7" y="317.1" width="54.1" height="127.4" fill="#fbf4f1"/>
<rect x="323.8" y="317.1" width="38.8" height="127.4" fill="#f2f4fb"/>
<line x1="323.8" y1="317.1" x2="323.8" y2="444.5" stroke="#8a8a8a" stroke-width="0.9" stroke-dasharray="3.2,2.2"/>
<line x1="362.6" y1="348.5" x2="362.6" y2="444.5" stroke="#8a8a8a" stroke-width="0.9" stroke-dasharray="3.2,2.2"/>
<path d="M285,406.07 L285.6,404.92 L286.39,403.38 L287.34,401.55 L288.39,399.52 L289.51,397.37 L290.64,395.19 L291.74,393.07 L292.76,391.11 L293.73,389.24 L294.7,387.37 L295.67,385.51 L296.64,383.64 L297.61,381.78 L298.58,379.93 L299.55,378.08 L300.52,376.25 L301.49,374.41 L302.46,372.56 L303.43,370.72 L304.4,368.88 L305.37,367.07 L306.34,365.28 L307.31,363.52 L308.28,361.81 L309.28,360.11 L310.31,358.37 L311.36,356.64 L312.4,354.95 L313.41,353.34 L314.37,351.84 L315.26,350.48 L316.04,349.31 L316.71,348.33 L317.28,347.54 L317.78,346.89 L318.22,346.35 L318.64,345.88 L319.04,345.46 L319.46,345.05 L319.92,344.6 L320.41,344.15 L320.91,343.72 L321.41,343.33 L321.91,342.96 L322.4,342.63 L322.88,342.32 L323.35,342.06 L323.8,341.82 L324.23,341.62 L324.63,341.45 L325.02,341.31 L325.4,341.2 L325.77,341.13 L326.15,341.1 L326.52,341.12 L326.9,341.18 L327.29,341.29 L327.66,341.43 L328.03,341.61 L328.41,341.83 L328.79,342.11 L329.18,342.44 L329.58,342.85 L330.01,343.32 L330.45,343.84 L330.89,344.37 L331.34,344.94 L331.8,345.59 L332.29,346.33 L332.79,347.2 L333.32,348.22 L333.89,349.41 L334.48,350.79 L335.08,352.32 L335.71,353.98 L336.36,355.78 L337.04,357.7 L337.76,359.72 L338.52,361.85 L339.32,364.06 L340.18,366.42 L341.1,368.95 L342.06,371.62 L343.05,374.38 L344.07,377.18 L345.09,379.99 L346.09,382.76 L347.08,385.44 L348.08,388.13 L349.11,390.92 L350.16,393.73 L351.2,396.51 L352.21,399.2 L353.17,401.73 L354.06,404.04 L354.84,406.07 L355.51,407.79 L356.08,409.23 L356.58,410.45 L357.02,411.52 L357.44,412.49 L357.84,413.42 L358.26,414.36 L358.72,415.37 L359.21,416.44 L359.69,417.49 L360.18,418.53 L360.66,419.54 L361.15,420.52 L361.63,421.46 L362.11,422.34 L362.6,423.18 L363.09,423.95 L363.57,424.69 L364.06,425.38 L364.54,426.03 L365.03,426.63 L365.51,427.2 L366,427.72 L366.48,428.2 L366.94,428.63 L367.36,429 L367.76,429.33 L368.18,429.62 L368.62,429.87 L369.12,430.11 L369.69,430.33 L370.36,430.55 L371.09,430.76 L371.85,430.95 L372.64,431.11 L373.51,431.26 L374.47,431.39 L375.54,431.51 L376.75,431.62 L378.12,431.73 L379.58,431.82 L381.09,431.89 L382.69,431.95 L384.43,431.99 L386.34,432.04 L388.49,432.07 L390.9,432.11 L393.64,432.16 L396.99,432.2 L401.04,432.25 L405.51,432.3 L410.13,432.34 L414.63,432.38 L418.74,432.42 L422.18,432.45 L424.68,432.48" fill="none" stroke="#e8231e" stroke-width="1.1" stroke-linejoin="round" stroke-linecap="round" />
<circle cx="285" cy="406.07" r="2.5" fill="#1c1c96"/>
<circle cx="292.76" cy="391.11" r="2.5" fill="#1c1c96"/>
<circle cx="300.52" cy="376.25" r="2.5" fill="#1c1c96"/>
<circle cx="308.28" cy="361.6" r="2.5" fill="#1c1c96"/>
<circle cx="316.04" cy="348.77" r="2.5" fill="#1c1c96"/>
<circle cx="323.8" cy="341.29" r="2.3" fill="#b8b8e6" stroke="#1c1c96" stroke-width="0.8"/>
<circle cx="331.56" cy="349.84" r="2.5" fill="#1c1c96"/>
<circle cx="339.32" cy="367.69" r="2.5" fill="#1c1c96"/>
<circle cx="347.08" cy="387.58" r="2.5" fill="#1c1c96"/>
<circle cx="354.84" cy="406.82" r="2.5" fill="#1c1c96"/>
<circle cx="362.6" cy="423.92" r="2.5" fill="#1c1c96"/>
<circle cx="370.36" cy="432.48" r="2.5" fill="#1c1c96"/>
<circle cx="378.12" cy="433.12" r="2.5" fill="#1c1c96"/>
<circle cx="393.64" cy="433.12" r="2.5" fill="#1c1c96"/>
<circle cx="424.68" cy="432.37" r="2.5" fill="#1c1c96"/>
<rect x="269.7" y="317.1" width="171" height="127.4" fill="none" stroke="#1a1a1a" stroke-width="1.2"/>
<line x1="266.7" y1="434.4" x2="269.7" y2="434.4" stroke="#111" stroke-width="1.1" />
<text x="0" y="0" font-size="8.5" font-weight="bold" text-anchor="end" fill="#111" transform="translate(265,437.3) scale(0.95,1)">0.24</text>
<line x1="266.7" y1="413.02" x2="269.7" y2="413.02" stroke="#111" stroke-width="1.1" />
<text x="0" y="0" font-size="8.5" font-weight="bold" text-anchor="end" fill="#111" transform="translate(265,415.92) scale(0.95,1)">0.26</text>
<line x1="266.7" y1="391.64" x2="269.7" y2="391.64" stroke="#111" stroke-width="1.1" />
<text x="0" y="0" font-size="8.5" font-weight="bold" text-anchor="end" fill="#111" transform="translate(265,394.54) scale(0.95,1)">0.28</text>
<line x1="266.7" y1="370.26" x2="269.7" y2="370.26" stroke="#111" stroke-width="1.1" />
<text x="0" y="0" font-size="8.5" font-weight="bold" text-anchor="end" fill="#111" transform="translate(265,373.16) scale(0.95,1)">0.30</text>
<line x1="266.7" y1="348.88" x2="269.7" y2="348.88" stroke="#111" stroke-width="1.1" />
<text x="0" y="0" font-size="8.5" font-weight="bold" text-anchor="end" fill="#111" transform="translate(265,351.78) scale(0.95,1)">0.32</text>
<line x1="266.7" y1="327.5" x2="269.7" y2="327.5" stroke="#111" stroke-width="1.1" />
<text x="0" y="0" font-size="8.5" font-weight="bold" text-anchor="end" fill="#111" transform="translate(265,330.4) scale(0.95,1)">0.34</text>
<line x1="267.7" y1="445.09" x2="269.7" y2="445.09" stroke="#111" stroke-width="1.0" />
<line x1="267.7" y1="423.71" x2="269.7" y2="423.71" stroke="#111" stroke-width="1.0" />
<line x1="267.7" y1="402.33" x2="269.7" y2="402.33" stroke="#111" stroke-width="1.0" />
<line x1="267.7" y1="380.95" x2="269.7" y2="380.95" stroke="#111" stroke-width="1.0" />
<line x1="267.7" y1="359.57" x2="269.7" y2="359.57" stroke="#111" stroke-width="1.0" />
<line x1="267.7" y1="338.19" x2="269.7" y2="338.19" stroke="#111" stroke-width="1.0" />
<line x1="269.48" y1="444.5" x2="269.48" y2="447.5" stroke="#111" stroke-width="1.1" />
<text x="0" y="0" font-size="8.5" font-weight="bold" text-anchor="middle" fill="#111" transform="translate(269.48,454.6) scale(0.95,1)">-2</text>
<line x1="285" y1="444.5" x2="285" y2="447.5" stroke="#111" stroke-width="1.1" />
<text x="0" y="0" font-size="8.5" font-weight="bold" text-anchor="middle" fill="#111" transform="translate(285,454.6) scale(0.95,1)">0</text>
<line x1="300.52" y1="444.5" x2="300.52" y2="447.5" stroke="#111" stroke-width="1.1" />
<text x="0" y="0" font-size="8.5" font-weight="bold" text-anchor="middle" fill="#111" transform="translate(300.52,454.6) scale(0.95,1)">2</text>
<line x1="316.04" y1="444.5" x2="316.04" y2="447.5" stroke="#111" stroke-width="1.1" />
<text x="0" y="0" font-size="8.5" font-weight="bold" text-anchor="middle" fill="#111" transform="translate(316.04,454.6) scale(0.95,1)">4</text>
<line x1="331.56" y1="444.5" x2="331.56" y2="447.5" stroke="#111" stroke-width="1.1" />
<text x="0" y="0" font-size="8.5" font-weight="bold" text-anchor="middle" fill="#111" transform="translate(331.56,454.6) scale(0.95,1)">6</text>
<line x1="347.08" y1="444.5" x2="347.08" y2="447.5" stroke="#111" stroke-width="1.1" />
<text x="0" y="0" font-size="8.5" font-weight="bold" text-anchor="middle" fill="#111" transform="translate(347.08,454.6) scale(0.95,1)">8</text>
<line x1="362.6" y1="444.5" x2="362.6" y2="447.5" stroke="#111" stroke-width="1.1" />
<text x="0" y="0" font-size="8.5" font-weight="bold" text-anchor="middle" fill="#111" transform="translate(362.6,454.6) scale(0.95,1)">10</text>
<line x1="378.12" y1="444.5" x2="378.12" y2="447.5" stroke="#111" stroke-width="1.1" />
<text x="0" y="0" font-size="8.5" font-weight="bold" text-anchor="middle" fill="#111" transform="translate(378.12,454.6) scale(0.95,1)">12</text>
<line x1="393.64" y1="444.5" x2="393.64" y2="447.5" stroke="#111" stroke-width="1.1" />
<text x="0" y="0" font-size="8.5" font-weight="bold" text-anchor="middle" fill="#111" transform="translate(393.64,454.6) scale(0.95,1)">14</text>
<line x1="409.16" y1="444.5" x2="409.16" y2="447.5" stroke="#111" stroke-width="1.1" />
<text x="0" y="0" font-size="8.5" font-weight="bold" text-anchor="middle" fill="#111" transform="translate(409.16,454.6) scale(0.95,1)">16</text>
<line x1="424.68" y1="444.5" x2="424.68" y2="447.5" stroke="#111" stroke-width="1.1" />
<text x="0" y="0" font-size="8.5" font-weight="bold" text-anchor="middle" fill="#111" transform="translate(424.68,454.6) scale(0.95,1)">18</text>
<line x1="440.2" y1="444.5" x2="440.2" y2="447.5" stroke="#111" stroke-width="1.1" />
<text x="0" y="0" font-size="8.5" font-weight="bold" text-anchor="middle" fill="#111" transform="translate(440.2,454.6) scale(0.95,1)">20</text>
<line x1="277.24" y1="444.5" x2="277.24" y2="446.5" stroke="#111" stroke-width="1.0" />
<line x1="292.76" y1="444.5" x2="292.76" y2="446.5" stroke="#111" stroke-width="1.0" />
<line x1="308.28" y1="444.5" x2="308.28" y2="446.5" stroke="#111" stroke-width="1.0" />
<line x1="323.8" y1="444.5" x2="323.8" y2="446.5" stroke="#111" stroke-width="1.0" />
<line x1="339.32" y1="444.5" x2="339.32" y2="446.5" stroke="#111" stroke-width="1.0" />
<line x1="354.84" y1="444.5" x2="354.84" y2="446.5" stroke="#111" stroke-width="1.0" />
<line x1="370.36" y1="444.5" x2="370.36" y2="446.5" stroke="#111" stroke-width="1.0" />
<line x1="385.88" y1="444.5" x2="385.88" y2="446.5" stroke="#111" stroke-width="1.0" />
<line x1="401.4" y1="444.5" x2="401.4" y2="446.5" stroke="#111" stroke-width="1.0" />
<line x1="416.92" y1="444.5" x2="416.92" y2="446.5" stroke="#111" stroke-width="1.0" />
<line x1="432.44" y1="444.5" x2="432.44" y2="446.5" stroke="#111" stroke-width="1.0" />
<text x="355" y="463.7" font-size="8" font-weight="bold" text-anchor="middle" fill="#111"  textLength="42" lengthAdjust="spacingAndGlyphs">[Host] / &#956;M</text>
<text x="0" y="0" font-size="8" font-weight="bold" text-anchor="middle" fill="#111" transform="translate(246.8,379.3) rotate(-90)">Abs</text>
<text x="0" y="0" font-size="16.4" font-weight="bold" fill="#111" transform="translate(227.6,320) scale(0.95,1)">(e)</text>
<text x="331.8" y="330.2" font-size="9.5" font-weight="bold" fill="#1a1a1a" textLength="107" lengthAdjust="spacingAndGlyphs"><tspan font-style="italic">K</tspan><tspan font-size="6.17" dy="2.09">1</tspan><tspan dy="-2.09"> = (1.5&#177;0.7)&#215;</tspan><tspan fill="#c8201e">10</tspan><tspan fill="#c8201e" font-size="6.46" dy="-3.42">9</tspan><tspan dy="3.42"> M</tspan><tspan font-size="6.27" dy="-3.42">&#8722;1</tspan></text>
<text x="331.8" y="343.2" font-size="9.5" font-weight="bold" fill="#1a1a1a" textLength="107" lengthAdjust="spacingAndGlyphs"><tspan font-style="italic">K</tspan><tspan font-size="6.17" dy="2.09">2</tspan><tspan dy="-2.09"> = (2.8&#177;0.8)&#215;</tspan><tspan fill="#c8201e">10</tspan><tspan fill="#c8201e" font-size="6.46" dy="-3.42">6</tspan><tspan dy="3.42"> M</tspan><tspan font-size="6.27" dy="-3.42">&#8722;1</tspan></text>
<clipPath id="clipf"><rect x="505.7" y="156.4" width="171.6" height="127.2"/></clipPath>
<g clip-path="url(#clipf)">
<path d="M505.7,283.6 L506.42,283.6 L507.14,283.6 L507.85,283.6 L508.57,283.6 L509.29,283.6 L510.01,283.6 L510.72,283.6 L511.44,283.59 L512.16,283.59 L512.88,283.59 L513.59,283.59 L514.31,283.58 L515.03,283.58 L515.75,283.57 L516.46,283.57 L517.18,283.56 L517.9,283.55 L518.62,283.55 L519.33,283.54 L520.05,283.54 L520.77,283.53 L521.49,283.52 L522.2,283.52 L522.92,283.51 L523.64,283.5 L524.36,283.49 L525.07,283.49 L525.79,283.48 L526.51,283.47 L527.23,283.46 L527.94,283.45 L528.66,283.44 L529.38,283.43 L530.1,283.42 L530.82,283.4 L531.53,283.39 L532.25,283.38 L532.97,283.37 L533.69,283.35 L534.4,283.34 L535.12,283.32 L535.84,283.31 L536.56,283.29 L537.27,283.27 L537.99,283.26 L538.71,283.24 L539.43,283.22 L540.14,283.2 L540.86,283.19 L541.58,283.17 L542.3,283.15 L543.01,283.13 L543.73,283.11 L544.45,283.09 L545.17,283.07 L545.88,283.05 L546.6,283.03 L547.32,283.01 L548.04,282.99 L548.75,282.97 L549.47,282.94 L550.19,282.92 L550.91,282.9 L551.62,282.88 L552.34,282.86 L553.06,282.85 L553.78,282.83 L554.49,282.81 L555.21,282.79 L555.93,282.77 L556.65,282.76 L557.37,282.74 L558.08,282.73 L558.8,282.71 L559.52,282.7 L560.24,282.69 L560.95,282.68 L561.67,282.67 L562.39,282.66 L563.11,282.66 L563.82,282.65 L564.54,282.65 L565.26,282.65 L565.98,282.65 L566.69,282.65 L567.41,282.65 L568.13,282.65 L568.85,282.65 L569.56,282.65 L570.28,282.65 L571,282.65 L571.72,282.65 L572.43,282.65 L573.15,282.65 L573.87,282.66 L574.59,282.66 L575.3,282.66 L576.02,282.66 L576.74,282.67 L577.46,282.67 L578.17,282.67 L578.89,282.67 L579.61,282.68 L580.33,282.68 L581.05,282.68 L581.76,282.69 L582.48,282.69 L583.2,282.7 L583.92,282.7 L584.63,282.71 L585.35,282.71 L586.07,282.72 L586.79,282.72 L587.5,282.73 L588.22,282.73 L588.94,282.74 L589.66,282.74 L590.37,282.75 L591.09,282.76 L591.81,282.76 L592.53,282.77 L593.24,282.77 L593.96,282.78 L594.68,282.79 L595.4,282.79 L596.11,282.8 L596.83,282.81 L597.55,282.82 L598.27,282.82 L598.98,282.83 L599.7,282.84 L600.42,282.85 L601.14,282.85 L601.85,282.86 L602.57,282.87 L603.29,282.88 L604.01,282.89 L604.73,282.89 L605.44,282.9 L606.16,282.91 L606.88,282.92 L607.6,282.93 L608.31,282.94 L609.03,282.94 L609.75,282.95 L610.47,282.96 L611.18,282.97 L611.9,282.98 L612.62,282.99 L613.34,283 L614.05,283 L614.77,283.01 L615.49,283.02 L616.21,283.03 L616.92,283.04 L617.64,283.05 L618.36,283.06 L619.08,283.06 L619.79,283.07 L620.51,283.08 L621.23,283.09 L621.95,283.1 L622.66,283.11 L623.38,283.12 L624.1,283.12 L624.82,283.13 L625.53,283.14 L626.25,283.15 L626.97,283.16 L627.69,283.17 L628.41,283.17 L629.12,283.18 L629.84,283.19 L630.56,283.2 L631.28,283.21 L631.99,283.21 L632.71,283.22 L633.43,283.23 L634.15,283.24 L634.86,283.24 L635.58,283.25 L636.3,283.26 L637.02,283.27 L637.73,283.27 L638.45,283.28 L639.17,283.29 L639.89,283.29 L640.6,283.3 L641.32,283.31 L642.04,283.31 L642.76,283.32 L643.47,283.33 L644.19,283.33 L644.91,283.34 L645.63,283.35 L646.34,283.35 L647.06,283.36 L647.78,283.36 L648.5,283.37 L649.21,283.38 L649.93,283.38 L650.65,283.39 L651.37,283.39 L652.08,283.4 L652.8,283.4 L653.52,283.41 L654.24,283.41 L654.96,283.42 L655.67,283.42 L656.39,283.43 L657.11,283.43 L657.83,283.44 L658.54,283.44 L659.26,283.45 L659.98,283.45 L660.7,283.46 L661.41,283.46 L662.13,283.46 L662.85,283.47 L663.57,283.47 L664.28,283.48 L665,283.48 L665.72,283.48 L666.44,283.49 L667.15,283.49 L667.87,283.49 L668.59,283.5 L669.31,283.5 L670.02,283.5 L670.74,283.51 L671.46,283.51 L672.18,283.51 L672.89,283.51 L673.61,283.52 L674.33,283.52 L675.05,283.52 L675.76,283.53 L676.48,283.53 L677.2,283.53" fill="none" stroke="#a50026" stroke-width="1.15" stroke-linejoin="round" stroke-linecap="round" />
<path d="M505.7,283.6 L506.42,283.6 L507.14,283.6 L507.85,283.6 L508.57,283.6 L509.29,283.6 L510.01,283.59 L510.72,283.59 L511.44,283.59 L512.16,283.58 L512.88,283.57 L513.59,283.56 L514.31,283.55 L515.03,283.54 L515.75,283.52 L516.46,283.51 L517.18,283.49 L517.9,283.47 L518.62,283.45 L519.33,283.44 L520.05,283.42 L520.77,283.4 L521.49,283.38 L522.2,283.36 L522.92,283.33 L523.64,283.31 L524.36,283.29 L525.07,283.26 L525.79,283.23 L526.51,283.2 L527.23,283.17 L527.94,283.14 L528.66,283.11 L529.38,283.07 L530.1,283.04 L530.82,283 L531.53,282.96 L532.25,282.91 L532.97,282.87 L533.69,282.82 L534.4,282.77 L535.12,282.72 L535.84,282.67 L536.56,282.62 L537.27,282.57 L537.99,282.51 L538.71,282.45 L539.43,282.39 L540.14,282.33 L540.86,282.27 L541.58,282.21 L542.3,282.15 L543.01,282.08 L543.73,282.02 L544.45,281.95 L545.17,281.88 L545.88,281.82 L546.6,281.75 L547.32,281.69 L548.04,281.62 L548.75,281.55 L549.47,281.49 L550.19,281.42 L550.91,281.36 L551.62,281.3 L552.34,281.24 L553.06,281.18 L553.78,281.12 L554.49,281.07 L555.21,281.02 L555.93,280.97 L556.65,280.93 L557.37,280.89 L558.08,280.86 L558.8,280.83 L559.52,280.8 L560.24,280.78 L560.95,280.77 L561.67,280.76 L562.39,280.75 L563.11,280.74 L563.82,280.74 L564.54,280.74 L565.26,280.74 L565.98,280.74 L566.69,280.74 L567.41,280.75 L568.13,280.75 L568.85,280.75 L569.56,280.76 L570.28,280.76 L571,280.77 L571.72,280.78 L572.43,280.78 L573.15,280.79 L573.87,280.8 L574.59,280.81 L575.3,280.81 L576.02,280.82 L576.74,280.84 L577.46,280.85 L578.17,280.86 L578.89,280.87 L579.61,280.88 L580.33,280.9 L581.05,280.91 L581.76,280.92 L582.48,280.94 L583.2,280.96 L583.92,280.97 L584.63,280.99 L585.35,281.01 L586.07,281.02 L586.79,281.04 L587.5,281.06 L588.22,281.08 L588.94,281.1 L589.66,281.12 L590.37,281.14 L591.09,281.16 L591.81,281.18 L592.53,281.2 L593.24,281.23 L593.96,281.25 L594.68,281.27 L595.4,281.3 L596.11,281.32 L596.83,281.34 L597.55,281.37 L598.27,281.39 L598.98,281.42 L599.7,281.44 L600.42,281.47 L601.14,281.49 L601.85,281.52 L602.57,281.54 L603.29,281.57 L604.01,281.59 L604.73,281.62 L605.44,281.65 L606.16,281.67 L606.88,281.7 L607.6,281.72 L608.31,281.75 L609.03,281.78 L609.75,281.8 L610.47,281.83 L611.18,281.86 L611.9,281.88 L612.62,281.91 L613.34,281.94 L614.05,281.96 L614.77,281.99 L615.49,282.02 L616.21,282.04 L616.92,282.07 L617.64,282.1 L618.36,282.12 L619.08,282.15 L619.79,282.18 L620.51,282.2 L621.23,282.23 L621.95,282.25 L622.66,282.28 L623.38,282.3 L624.1,282.33 L624.82,282.35 L625.53,282.38 L626.25,282.4 L626.97,282.43 L627.69,282.45 L628.41,282.47 L629.12,282.5 L629.84,282.52 L630.56,282.54 L631.28,282.57 L631.99,282.59 L632.71,282.61 L633.43,282.63 L634.15,282.66 L634.86,282.68 L635.58,282.7 L636.3,282.72 L637.02,282.74 L637.73,282.76 L638.45,282.78 L639.17,282.8 L639.89,282.82 L640.6,282.84 L641.32,282.86 L642.04,282.88 L642.76,282.89 L643.47,282.91 L644.19,282.93 L644.91,282.95 L645.63,282.96 L646.34,282.98 L647.06,283 L647.78,283.01 L648.5,283.03 L649.21,283.05 L649.93,283.06 L650.65,283.08 L651.37,283.09 L652.08,283.11 L652.8,283.12 L653.52,283.13 L654.24,283.15 L654.96,283.16 L655.67,283.17 L656.39,283.19 L657.11,283.2 L657.83,283.21 L658.54,283.22 L659.26,283.23 L659.98,283.24 L660.7,283.26 L661.41,283.27 L662.13,283.28 L662.85,283.29 L663.57,283.3 L664.28,283.31 L665,283.32 L665.72,283.33 L666.44,283.33 L667.15,283.34 L667.87,283.35 L668.59,283.36 L669.31,283.37 L670.02,283.38 L670.74,283.38 L671.46,283.39 L672.18,283.4 L672.89,283.41 L673.61,283.41 L674.33,283.42 L675.05,283.43 L675.76,283.43 L676.48,283.44 L677.2,283.44" fill="none" stroke="#b51c28" stroke-width="1.15" stroke-linejoin="round" stroke-linecap="round" />
<path d="M505.7,283.6 L506.42,283.6 L507.14,283.6 L507.85,283.6 L508.57,283.6 L509.29,283.59 L510.01,283.59 L510.72,283.58 L511.44,283.57 L512.16,283.56 L512.88,283.55 L513.59,283.53 L514.31,283.51 L515.03,283.48 L515.75,283.45 L516.46,283.42 L517.18,283.39 L517.9,283.35 L518.62,283.31 L519.33,283.28 L520.05,283.24 L520.77,283.19 L521.49,283.15 L522.2,283.1 L522.92,283.06 L523.64,283 L524.36,282.95 L525.07,282.89 L525.79,282.83 L526.51,282.76 L527.23,282.69 L527.94,282.62 L528.66,282.54 L529.38,282.46 L530.1,282.37 L530.82,282.28 L531.53,282.19 L532.25,282.09 L532.97,281.99 L533.69,281.88 L534.4,281.77 L535.12,281.65 L535.84,281.53 L536.56,281.4 L537.27,281.28 L537.99,281.14 L538.71,281.01 L539.43,280.87 L540.14,280.73 L540.86,280.58 L541.58,280.44 L542.3,280.29 L543.01,280.14 L543.73,279.99 L544.45,279.83 L545.17,279.68 L545.88,279.53 L546.6,279.38 L547.32,279.22 L548.04,279.07 L548.75,278.93 L549.47,278.78 L550.19,278.64 L550.91,278.51 L551.62,278.38 L552.34,278.26 L553.06,278.14 L553.78,278.04 L554.49,277.94 L555.21,277.86 L555.93,277.78 L556.65,277.72 L557.37,277.67 L558.08,277.63 L558.8,277.6 L559.52,277.58 L560.24,277.57 L560.95,277.56 L561.67,277.56 L562.39,277.56 L563.11,277.56 L563.82,277.57 L564.54,277.57 L565.26,277.58 L565.98,277.59 L566.69,277.6 L567.41,277.61 L568.13,277.62 L568.85,277.64 L569.56,277.65 L570.28,277.67 L571,277.69 L571.72,277.71 L572.43,277.73 L573.15,277.75 L573.87,277.77 L574.59,277.8 L575.3,277.82 L576.02,277.85 L576.74,277.88 L577.46,277.91 L578.17,277.94 L578.89,277.97 L579.61,278 L580.33,278.04 L581.05,278.07 L581.76,278.11 L582.48,278.15 L583.2,278.19 L583.92,278.23 L584.63,278.27 L585.35,278.31 L586.07,278.36 L586.79,278.4 L587.5,278.45 L588.22,278.49 L588.94,278.54 L589.66,278.59 L590.37,278.64 L591.09,278.69 L591.81,278.74 L592.53,278.79 L593.24,278.84 L593.96,278.89 L594.68,278.95 L595.4,279 L596.11,279.05 L596.83,279.11 L597.55,279.16 L598.27,279.22 L598.98,279.28 L599.7,279.33 L600.42,279.39 L601.14,279.45 L601.85,279.5 L602.57,279.56 L603.29,279.62 L604.01,279.68 L604.73,279.73 L605.44,279.79 L606.16,279.85 L606.88,279.91 L607.6,279.97 L608.31,280.02 L609.03,280.08 L609.75,280.14 L610.47,280.2 L611.18,280.25 L611.9,280.31 L612.62,280.37 L613.34,280.43 L614.05,280.48 L614.77,280.54 L615.49,280.6 L616.21,280.65 L616.92,280.71 L617.64,280.76 L618.36,280.82 L619.08,280.87 L619.79,280.93 L620.51,280.98 L621.23,281.04 L621.95,281.09 L622.66,281.14 L623.38,281.19 L624.1,281.24 L624.82,281.3 L625.53,281.35 L626.25,281.4 L626.97,281.45 L627.69,281.49 L628.41,281.54 L629.12,281.59 L629.84,281.64 L630.56,281.68 L631.28,281.73 L631.99,281.77 L632.71,281.82 L633.43,281.86 L634.15,281.91 L634.86,281.95 L635.58,281.99 L636.3,282.03 L637.02,282.07 L637.73,282.11 L638.45,282.15 L639.17,282.19 L639.89,282.23 L640.6,282.26 L641.32,282.3 L642.04,282.34 L642.76,282.37 L643.47,282.41 L644.19,282.44 L644.91,282.47 L645.63,282.5 L646.34,282.54 L647.06,282.57 L647.78,282.6 L648.5,282.63 L649.21,282.66 L649.93,282.69 L650.65,282.71 L651.37,282.74 L652.08,282.77 L652.8,282.79 L653.52,282.82 L654.24,282.84 L654.96,282.87 L655.67,282.89 L656.39,282.91 L657.11,282.94 L657.83,282.96 L658.54,282.98 L659.26,283 L659.98,283.02 L660.7,283.04 L661.41,283.06 L662.13,283.08 L662.85,283.1 L663.57,283.11 L664.28,283.13 L665,283.15 L665.72,283.16 L666.44,283.18 L667.15,283.19 L667.87,283.21 L668.59,283.22 L669.31,283.24 L670.02,283.25 L670.74,283.26 L671.46,283.28 L672.18,283.29 L672.89,283.3 L673.61,283.31 L674.33,283.32 L675.05,283.33 L675.76,283.34 L676.48,283.35 L677.2,283.36" fill="none" stroke="#c4242a" stroke-width="1.15" stroke-linejoin="round" stroke-linecap="round" />
<path d="M505.7,283.6 L506.42,283.6 L507.14,283.6 L507.85,283.6 L508.57,283.59 L509.29,283.59 L510.01,283.58 L510.72,283.58 L511.44,283.56 L512.16,283.55 L512.88,283.52 L513.59,283.49 L514.31,283.46 L515.03,283.41 L515.75,283.37 L516.46,283.31 L517.18,283.26 L517.9,283.19 L518.62,283.13 L519.33,283.06 L520.05,282.99 L520.77,282.92 L521.49,282.84 L522.2,282.75 L522.92,282.66 L523.64,282.56 L524.36,282.46 L525.07,282.34 L525.79,282.23 L526.51,282.1 L527.23,281.96 L527.94,281.82 L528.66,281.67 L529.38,281.5 L530.1,281.33 L530.82,281.15 L531.53,280.96 L532.25,280.77 L532.97,280.56 L533.69,280.34 L534.4,280.11 L535.12,279.88 L535.84,279.64 L536.56,279.39 L537.27,279.13 L537.99,278.86 L538.71,278.59 L539.43,278.31 L540.14,278.02 L540.86,277.73 L541.58,277.44 L542.3,277.14 L543.01,276.84 L543.73,276.54 L544.45,276.23 L545.17,275.93 L545.88,275.63 L546.6,275.34 L547.32,275.05 L548.04,274.77 L548.75,274.51 L549.47,274.25 L550.19,274.01 L550.91,273.79 L551.62,273.59 L552.34,273.41 L553.06,273.26 L553.78,273.13 L554.49,273.03 L555.21,272.95 L555.93,272.88 L556.65,272.84 L557.37,272.81 L558.08,272.8 L558.8,272.79 L559.52,272.79 L560.24,272.79 L560.95,272.8 L561.67,272.81 L562.39,272.83 L563.11,272.84 L563.82,272.86 L564.54,272.88 L565.26,272.9 L565.98,272.93 L566.69,272.96 L567.41,272.98 L568.13,273.02 L568.85,273.05 L569.56,273.08 L570.28,273.12 L571,273.16 L571.72,273.21 L572.43,273.25 L573.15,273.3 L573.87,273.35 L574.59,273.4 L575.3,273.46 L576.02,273.52 L576.74,273.57 L577.46,273.64 L578.17,273.7 L578.89,273.77 L579.61,273.84 L580.33,273.91 L581.05,273.98 L581.76,274.05 L582.48,274.13 L583.2,274.21 L583.92,274.29 L584.63,274.37 L585.35,274.45 L586.07,274.53 L586.79,274.62 L587.5,274.71 L588.22,274.8 L588.94,274.89 L589.66,274.98 L590.37,275.07 L591.09,275.16 L591.81,275.26 L592.53,275.35 L593.24,275.45 L593.96,275.55 L594.68,275.65 L595.4,275.74 L596.11,275.84 L596.83,275.94 L597.55,276.05 L598.27,276.15 L598.98,276.25 L599.7,276.35 L600.42,276.46 L601.14,276.56 L601.85,276.66 L602.57,276.77 L603.29,276.87 L604.01,276.97 L604.73,277.08 L605.44,277.18 L606.16,277.28 L606.88,277.39 L607.6,277.49 L608.31,277.6 L609.03,277.7 L609.75,277.8 L610.47,277.9 L611.18,278.01 L611.9,278.11 L612.62,278.21 L613.34,278.31 L614.05,278.41 L614.77,278.51 L615.49,278.61 L616.21,278.7 L616.92,278.8 L617.64,278.9 L618.36,278.99 L619.08,279.09 L619.79,279.18 L620.51,279.28 L621.23,279.37 L621.95,279.46 L622.66,279.55 L623.38,279.64 L624.1,279.73 L624.82,279.82 L625.53,279.9 L626.25,279.99 L626.97,280.07 L627.69,280.16 L628.41,280.24 L629.12,280.32 L629.84,280.4 L630.56,280.48 L631.28,280.55 L631.99,280.63 L632.71,280.71 L633.43,280.78 L634.15,280.85 L634.86,280.92 L635.58,280.99 L636.3,281.06 L637.02,281.13 L637.73,281.2 L638.45,281.26 L639.17,281.33 L639.89,281.39 L640.6,281.45 L641.32,281.51 L642.04,281.57 L642.76,281.63 L643.47,281.69 L644.19,281.74 L644.91,281.8 L645.63,281.85 L646.34,281.9 L647.06,281.95 L647.78,282 L648.5,282.05 L649.21,282.1 L649.93,282.15 L650.65,282.19 L651.37,282.24 L652.08,282.28 L652.8,282.32 L653.52,282.36 L654.24,282.41 L654.96,282.44 L655.67,282.48 L656.39,282.52 L657.11,282.56 L657.83,282.59 L658.54,282.63 L659.26,282.66 L659.98,282.69 L660.7,282.72 L661.41,282.75 L662.13,282.78 L662.85,282.81 L663.57,282.84 L664.28,282.87 L665,282.89 L665.72,282.92 L666.44,282.95 L667.15,282.97 L667.87,282.99 L668.59,283.02 L669.31,283.04 L670.02,283.06 L670.74,283.08 L671.46,283.1 L672.18,283.12 L672.89,283.14 L673.61,283.16 L674.33,283.17 L675.05,283.19 L675.76,283.21 L676.48,283.22 L677.2,283.24" fill="none" stroke="#d2322c" stroke-width="1.15" stroke-linejoin="round" stroke-linecap="round" />
<path d="M505.7,283.6 L506.42,283.6 L507.14,283.6 L507.85,283.6 L508.57,283.59 L509.29,283.59 L510.01,283.58 L510.72,283.57 L511.44,283.56 L512.16,283.54 L512.88,283.51 L513.59,283.47 L514.31,283.42 L515.03,283.37 L515.75,283.3 L516.46,283.23 L517.18,283.15 L517.9,283.07 L518.62,282.98 L519.33,282.88 L520.05,282.78 L520.77,282.66 L521.49,282.54 L522.2,282.41 L522.92,282.27 L523.64,282.12 L524.36,281.95 L525.07,281.78 L525.79,281.59 L526.51,281.38 L527.23,281.17 L527.94,280.93 L528.66,280.68 L529.38,280.42 L530.1,280.14 L530.82,279.84 L531.53,279.52 L532.25,279.19 L532.97,278.84 L533.69,278.48 L534.4,278.1 L535.12,277.7 L535.84,277.29 L536.56,276.87 L537.27,276.43 L537.99,275.98 L538.71,275.52 L539.43,275.05 L540.14,274.57 L540.86,274.08 L541.58,273.59 L542.3,273.09 L543.01,272.6 L543.73,272.1 L544.45,271.62 L545.17,271.14 L545.88,270.68 L546.6,270.24 L547.32,269.83 L548.04,269.45 L548.75,269.1 L549.47,268.79 L550.19,268.52 L550.91,268.3 L551.62,268.12 L552.34,267.97 L553.06,267.87 L553.78,267.79 L554.49,267.75 L555.21,267.72 L555.93,267.7 L556.65,267.7 L557.37,267.71 L558.08,267.72 L558.8,267.74 L559.52,267.76 L560.24,267.78 L560.95,267.81 L561.67,267.84 L562.39,267.87 L563.11,267.9 L563.82,267.94 L564.54,267.98 L565.26,268.03 L565.98,268.08 L566.69,268.13 L567.41,268.18 L568.13,268.24 L568.85,268.3 L569.56,268.37 L570.28,268.44 L571,268.51 L571.72,268.59 L572.43,268.67 L573.15,268.75 L573.87,268.84 L574.59,268.93 L575.3,269.03 L576.02,269.12 L576.74,269.22 L577.46,269.33 L578.17,269.43 L578.89,269.54 L579.61,269.65 L580.33,269.76 L581.05,269.88 L581.76,270 L582.48,270.12 L583.2,270.24 L583.92,270.37 L584.63,270.5 L585.35,270.63 L586.07,270.76 L586.79,270.89 L587.5,271.03 L588.22,271.17 L588.94,271.31 L589.66,271.45 L590.37,271.59 L591.09,271.73 L591.81,271.88 L592.53,272.02 L593.24,272.17 L593.96,272.32 L594.68,272.46 L595.4,272.61 L596.11,272.76 L596.83,272.91 L597.55,273.07 L598.27,273.22 L598.98,273.37 L599.7,273.52 L600.42,273.68 L601.14,273.83 L601.85,273.98 L602.57,274.13 L603.29,274.29 L604.01,274.44 L604.73,274.59 L605.44,274.74 L606.16,274.89 L606.88,275.05 L607.6,275.2 L608.31,275.35 L609.03,275.5 L609.75,275.64 L610.47,275.79 L611.18,275.94 L611.9,276.09 L612.62,276.23 L613.34,276.38 L614.05,276.52 L614.77,276.66 L615.49,276.8 L616.21,276.94 L616.92,277.08 L617.64,277.22 L618.36,277.35 L619.08,277.49 L619.79,277.62 L620.51,277.75 L621.23,277.88 L621.95,278.01 L622.66,278.14 L623.38,278.27 L624.1,278.39 L624.82,278.51 L625.53,278.63 L626.25,278.75 L626.97,278.87 L627.69,278.99 L628.41,279.1 L629.12,279.21 L629.84,279.32 L630.56,279.43 L631.28,279.54 L631.99,279.65 L632.71,279.75 L633.43,279.85 L634.15,279.95 L634.86,280.05 L635.58,280.15 L636.3,280.24 L637.02,280.33 L637.73,280.42 L638.45,280.51 L639.17,280.6 L639.89,280.69 L640.6,280.77 L641.32,280.85 L642.04,280.94 L642.76,281.01 L643.47,281.09 L644.19,281.17 L644.91,281.24 L645.63,281.31 L646.34,281.38 L647.06,281.45 L647.78,281.52 L648.5,281.59 L649.21,281.65 L649.93,281.71 L650.65,281.77 L651.37,281.83 L652.08,281.89 L652.8,281.95 L653.52,282 L654.24,282.06 L654.96,282.11 L655.67,282.16 L656.39,282.21 L657.11,282.26 L657.83,282.3 L658.54,282.35 L659.26,282.39 L659.98,282.43 L660.7,282.48 L661.41,282.52 L662.13,282.56 L662.85,282.59 L663.57,282.63 L664.28,282.67 L665,282.7 L665.72,282.74 L666.44,282.77 L667.15,282.8 L667.87,282.83 L668.59,282.86 L669.31,282.89 L670.02,282.92 L670.74,282.94 L671.46,282.97 L672.18,282.99 L672.89,283.02 L673.61,283.04 L674.33,283.06 L675.05,283.08 L675.76,283.11 L676.48,283.13 L677.2,283.15" fill="none" stroke="#de4632" stroke-width="1.15" stroke-linejoin="round" stroke-linecap="round" />
<path d="M505.7,283.6 L506.42,283.6 L507.14,283.59 L507.85,283.59 L508.57,283.58 L509.29,283.57 L510.01,283.56 L510.72,283.54 L511.44,283.5 L512.16,283.45 L512.88,283.38 L513.59,283.3 L514.31,283.19 L515.03,283.06 L515.75,282.9 L516.46,282.73 L517.18,282.55 L517.9,282.35 L518.62,282.14 L519.33,281.91 L520.05,281.66 L520.77,281.4 L521.49,281.13 L522.2,280.83 L522.92,280.51 L523.64,280.17 L524.36,279.8 L525.07,279.42 L525.79,279 L526.51,278.56 L527.23,278.1 L527.94,277.6 L528.66,277.08 L529.38,276.54 L530.1,275.97 L530.82,275.37 L531.53,274.75 L532.25,274.11 L532.97,273.45 L533.69,272.76 L534.4,272.06 L535.12,271.35 L535.84,270.63 L536.56,269.91 L537.27,269.18 L537.99,268.47 L538.71,267.76 L539.43,267.08 L540.14,266.43 L540.86,265.83 L541.58,265.27 L542.3,264.77 L543.01,264.33 L543.73,263.96 L544.45,263.66 L545.17,263.42 L545.88,263.24 L546.6,263.11 L547.32,263.02 L548.04,262.97 L548.75,262.94 L549.47,262.93 L550.19,262.93 L550.91,262.95 L551.62,262.97 L552.34,262.99 L553.06,263.03 L553.78,263.06 L554.49,263.1 L555.21,263.14 L555.93,263.19 L556.65,263.24 L557.37,263.3 L558.08,263.36 L558.8,263.42 L559.52,263.49 L560.24,263.56 L560.95,263.64 L561.67,263.73 L562.39,263.82 L563.11,263.91 L563.82,264.01 L564.54,264.11 L565.26,264.22 L565.98,264.33 L566.69,264.45 L567.41,264.57 L568.13,264.7 L568.85,264.83 L569.56,264.97 L570.28,265.11 L571,265.25 L571.72,265.4 L572.43,265.55 L573.15,265.7 L573.87,265.86 L574.59,266.02 L575.3,266.19 L576.02,266.35 L576.74,266.53 L577.46,266.7 L578.17,266.88 L578.89,267.05 L579.61,267.24 L580.33,267.42 L581.05,267.61 L581.76,267.79 L582.48,267.98 L583.2,268.18 L583.92,268.37 L584.63,268.57 L585.35,268.76 L586.07,268.96 L586.79,269.16 L587.5,269.36 L588.22,269.56 L588.94,269.76 L589.66,269.97 L590.37,270.17 L591.09,270.37 L591.81,270.58 L592.53,270.78 L593.24,270.99 L593.96,271.19 L594.68,271.4 L595.4,271.6 L596.11,271.81 L596.83,272.01 L597.55,272.21 L598.27,272.42 L598.98,272.62 L599.7,272.82 L600.42,273.02 L601.14,273.22 L601.85,273.42 L602.57,273.62 L603.29,273.81 L604.01,274.01 L604.73,274.2 L605.44,274.39 L606.16,274.58 L606.88,274.77 L607.6,274.96 L608.31,275.15 L609.03,275.33 L609.75,275.51 L610.47,275.69 L611.18,275.87 L611.9,276.05 L612.62,276.22 L613.34,276.39 L614.05,276.56 L614.77,276.73 L615.49,276.9 L616.21,277.06 L616.92,277.22 L617.64,277.38 L618.36,277.54 L619.08,277.69 L619.79,277.84 L620.51,277.99 L621.23,278.14 L621.95,278.28 L622.66,278.42 L623.38,278.56 L624.1,278.7 L624.82,278.84 L625.53,278.97 L626.25,279.1 L626.97,279.22 L627.69,279.35 L628.41,279.47 L629.12,279.59 L629.84,279.71 L630.56,279.82 L631.28,279.94 L631.99,280.05 L632.71,280.15 L633.43,280.26 L634.15,280.36 L634.86,280.46 L635.58,280.56 L636.3,280.66 L637.02,280.75 L637.73,280.84 L638.45,280.93 L639.17,281.02 L639.89,281.1 L640.6,281.19 L641.32,281.27 L642.04,281.35 L642.76,281.42 L643.47,281.5 L644.19,281.57 L644.91,281.64 L645.63,281.71 L646.34,281.78 L647.06,281.84 L647.78,281.9 L648.5,281.96 L649.21,282.02 L649.93,282.08 L650.65,282.14 L651.37,282.19 L652.08,282.24 L652.8,282.3 L653.52,282.34 L654.24,282.39 L654.96,282.44 L655.67,282.48 L656.39,282.53 L657.11,282.57 L657.83,282.61 L658.54,282.65 L659.26,282.69 L659.98,282.72 L660.7,282.76 L661.41,282.79 L662.13,282.83 L662.85,282.86 L663.57,282.89 L664.28,282.92 L665,282.95 L665.72,282.97 L666.44,283 L667.15,283.03 L667.87,283.05 L668.59,283.07 L669.31,283.1 L670.02,283.12 L670.74,283.14 L671.46,283.16 L672.18,283.18 L672.89,283.2 L673.61,283.22 L674.33,283.23 L675.05,283.25 L675.76,283.27 L676.48,283.28 L677.2,283.3" fill="none" stroke="#ea6a3e" stroke-width="1.15" stroke-linejoin="round" stroke-linecap="round" />
<path d="M505.7,283.6 L506.42,283.59 L507.14,283.59 L507.85,283.58 L508.57,283.57 L509.29,283.55 L510.01,283.51 L510.72,283.46 L511.44,283.38 L512.16,283.27 L512.88,283.11 L513.59,282.9 L514.31,282.63 L515.03,282.31 L515.75,281.93 L516.46,281.5 L517.18,281.03 L517.9,280.52 L518.62,279.96 L519.33,279.37 L520.05,278.73 L520.77,278.05 L521.49,277.32 L522.2,276.54 L522.92,275.71 L523.64,274.82 L524.36,273.88 L525.07,272.88 L525.79,271.83 L526.51,270.72 L527.23,269.56 L527.94,268.36 L528.66,267.12 L529.38,265.85 L530.1,264.56 L530.82,263.27 L531.53,262 L532.25,260.76 L532.97,259.58 L533.69,258.49 L534.4,257.49 L535.12,256.61 L535.84,255.86 L536.56,255.24 L537.27,254.75 L537.99,254.38 L538.71,254.11 L539.43,253.93 L540.14,253.81 L540.86,253.74 L541.58,253.71 L542.3,253.71 L543.01,253.72 L543.73,253.75 L544.45,253.79 L545.17,253.83 L545.88,253.88 L546.6,253.94 L547.32,254 L548.04,254.07 L548.75,254.14 L549.47,254.22 L550.19,254.3 L550.91,254.4 L551.62,254.5 L552.34,254.6 L553.06,254.72 L553.78,254.84 L554.49,254.97 L555.21,255.1 L555.93,255.25 L556.65,255.4 L557.37,255.56 L558.08,255.72 L558.8,255.89 L559.52,256.07 L560.24,256.26 L560.95,256.45 L561.67,256.65 L562.39,256.85 L563.11,257.06 L563.82,257.28 L564.54,257.5 L565.26,257.73 L565.98,257.96 L566.69,258.2 L567.41,258.44 L568.13,258.68 L568.85,258.94 L569.56,259.19 L570.28,259.45 L571,259.71 L571.72,259.98 L572.43,260.25 L573.15,260.53 L573.87,260.8 L574.59,261.08 L575.3,261.36 L576.02,261.65 L576.74,261.94 L577.46,262.23 L578.17,262.52 L578.89,262.81 L579.61,263.11 L580.33,263.4 L581.05,263.7 L581.76,264 L582.48,264.3 L583.2,264.6 L583.92,264.9 L584.63,265.2 L585.35,265.5 L586.07,265.8 L586.79,266.1 L587.5,266.4 L588.22,266.7 L588.94,267 L589.66,267.3 L590.37,267.6 L591.09,267.89 L591.81,268.19 L592.53,268.48 L593.24,268.78 L593.96,269.07 L594.68,269.36 L595.4,269.64 L596.11,269.93 L596.83,270.21 L597.55,270.49 L598.27,270.77 L598.98,271.05 L599.7,271.32 L600.42,271.59 L601.14,271.86 L601.85,272.12 L602.57,272.38 L603.29,272.64 L604.01,272.9 L604.73,273.15 L605.44,273.4 L606.16,273.65 L606.88,273.89 L607.6,274.13 L608.31,274.37 L609.03,274.6 L609.75,274.83 L610.47,275.06 L611.18,275.28 L611.9,275.5 L612.62,275.72 L613.34,275.93 L614.05,276.14 L614.77,276.34 L615.49,276.54 L616.21,276.74 L616.92,276.93 L617.64,277.12 L618.36,277.31 L619.08,277.49 L619.79,277.67 L620.51,277.85 L621.23,278.02 L621.95,278.19 L622.66,278.35 L623.38,278.51 L624.1,278.67 L624.82,278.82 L625.53,278.97 L626.25,279.12 L626.97,279.26 L627.69,279.4 L628.41,279.54 L629.12,279.67 L629.84,279.8 L630.56,279.93 L631.28,280.05 L631.99,280.17 L632.71,280.29 L633.43,280.4 L634.15,280.51 L634.86,280.62 L635.58,280.72 L636.3,280.83 L637.02,280.93 L637.73,281.02 L638.45,281.12 L639.17,281.21 L639.89,281.29 L640.6,281.38 L641.32,281.46 L642.04,281.54 L642.76,281.62 L643.47,281.7 L644.19,281.77 L644.91,281.84 L645.63,281.91 L646.34,281.97 L647.06,282.04 L647.78,282.1 L648.5,282.16 L649.21,282.22 L649.93,282.27 L650.65,282.33 L651.37,282.38 L652.08,282.43 L652.8,282.48 L653.52,282.53 L654.24,282.57 L654.96,282.61 L655.67,282.66 L656.39,282.7 L657.11,282.74 L657.83,282.77 L658.54,282.81 L659.26,282.84 L659.98,282.88 L660.7,282.91 L661.41,282.94 L662.13,282.97 L662.85,283 L663.57,283.03 L664.28,283.05 L665,283.08 L665.72,283.1 L666.44,283.12 L667.15,283.15 L667.87,283.17 L668.59,283.19 L669.31,283.21 L670.02,283.23 L670.74,283.24 L671.46,283.26 L672.18,283.28 L672.89,283.29 L673.61,283.31 L674.33,283.32 L675.05,283.34 L675.76,283.35 L676.48,283.36 L677.2,283.37" fill="none" stroke="#f2a25a" stroke-width="1.15" stroke-linejoin="round" stroke-linecap="round" />
<path d="M505.7,283.59 L506.42,283.59 L507.14,283.58 L507.85,283.56 L508.57,283.54 L509.29,283.5 L510.01,283.43 L510.72,283.33 L511.44,283.18 L512.16,282.95 L512.88,282.63 L513.59,282.19 L514.31,281.64 L515.03,280.95 L515.75,280.14 L516.46,279.21 L517.18,278.17 L517.9,277.03 L518.62,275.79 L519.33,274.45 L520.05,273.01 L520.77,271.46 L521.49,269.81 L522.2,268.05 L522.92,266.18 L523.64,264.22 L524.36,262.16 L525.07,260.04 L525.79,257.88 L526.51,255.71 L527.23,253.57 L527.94,251.52 L528.66,249.59 L529.38,247.84 L530.1,246.3 L530.82,244.99 L531.53,243.92 L532.25,243.08 L532.97,242.44 L533.69,241.99 L534.4,241.69 L535.12,241.49 L535.84,241.38 L536.56,241.32 L537.27,241.31 L537.99,241.32 L538.71,241.35 L539.43,241.39 L540.14,241.44 L540.86,241.5 L541.58,241.57 L542.3,241.64 L543.01,241.72 L543.73,241.81 L544.45,241.9 L545.17,242 L545.88,242.11 L546.6,242.23 L547.32,242.36 L548.04,242.49 L548.75,242.64 L549.47,242.79 L550.19,242.96 L550.91,243.13 L551.62,243.31 L552.34,243.5 L553.06,243.7 L553.78,243.91 L554.49,244.13 L555.21,244.35 L555.93,244.58 L556.65,244.83 L557.37,245.07 L558.08,245.33 L558.8,245.6 L559.52,245.87 L560.24,246.15 L560.95,246.43 L561.67,246.73 L562.39,247.03 L563.11,247.33 L563.82,247.64 L564.54,247.96 L565.26,248.28 L565.98,248.61 L566.69,248.94 L567.41,249.28 L568.13,249.63 L568.85,249.97 L569.56,250.33 L570.28,250.68 L571,251.04 L571.72,251.41 L572.43,251.77 L573.15,252.14 L573.87,252.52 L574.59,252.9 L575.3,253.27 L576.02,253.66 L576.74,254.04 L577.46,254.43 L578.17,254.81 L578.89,255.2 L579.61,255.59 L580.33,255.98 L581.05,256.38 L581.76,256.77 L582.48,257.16 L583.2,257.56 L583.92,257.95 L584.63,258.35 L585.35,258.74 L586.07,259.14 L586.79,259.53 L587.5,259.92 L588.22,260.31 L588.94,260.71 L589.66,261.1 L590.37,261.48 L591.09,261.87 L591.81,262.25 L592.53,262.64 L593.24,263.02 L593.96,263.4 L594.68,263.77 L595.4,264.15 L596.11,264.52 L596.83,264.89 L597.55,265.26 L598.27,265.62 L598.98,265.98 L599.7,266.34 L600.42,266.69 L601.14,267.04 L601.85,267.39 L602.57,267.73 L603.29,268.07 L604.01,268.41 L604.73,268.74 L605.44,269.07 L606.16,269.39 L606.88,269.71 L607.6,270.03 L608.31,270.34 L609.03,270.65 L609.75,270.96 L610.47,271.26 L611.18,271.55 L611.9,271.84 L612.62,272.13 L613.34,272.41 L614.05,272.69 L614.77,272.97 L615.49,273.24 L616.21,273.5 L616.92,273.76 L617.64,274.02 L618.36,274.27 L619.08,274.52 L619.79,274.76 L620.51,275 L621.23,275.23 L621.95,275.46 L622.66,275.69 L623.38,275.91 L624.1,276.12 L624.82,276.34 L625.53,276.54 L626.25,276.75 L626.97,276.95 L627.69,277.14 L628.41,277.33 L629.12,277.52 L629.84,277.7 L630.56,277.88 L631.28,278.05 L631.99,278.22 L632.71,278.39 L633.43,278.55 L634.15,278.71 L634.86,278.86 L635.58,279.01 L636.3,279.16 L637.02,279.3 L637.73,279.44 L638.45,279.58 L639.17,279.71 L639.89,279.84 L640.6,279.97 L641.32,280.09 L642.04,280.21 L642.76,280.32 L643.47,280.43 L644.19,280.54 L644.91,280.65 L645.63,280.75 L646.34,280.85 L647.06,280.95 L647.78,281.05 L648.5,281.14 L649.21,281.23 L649.93,281.31 L650.65,281.4 L651.37,281.48 L652.08,281.56 L652.8,281.63 L653.52,281.71 L654.24,281.78 L654.96,281.85 L655.67,281.91 L656.39,281.98 L657.11,282.04 L657.83,282.1 L658.54,282.16 L659.26,282.22 L659.98,282.27 L660.7,282.32 L661.41,282.38 L662.13,282.42 L662.85,282.47 L663.57,282.52 L664.28,282.56 L665,282.61 L665.72,282.65 L666.44,282.69 L667.15,282.72 L667.87,282.76 L668.59,282.8 L669.31,282.83 L670.02,282.86 L670.74,282.9 L671.46,282.93 L672.18,282.95 L672.89,282.98 L673.61,283.01 L674.33,283.04 L675.05,283.06 L675.76,283.08 L676.48,283.11 L677.2,283.13" fill="none" stroke="#f0d068" stroke-width="1.15" stroke-linejoin="round" stroke-linecap="round" />
<path d="M505.7,283.59 L506.42,283.59 L507.14,283.58 L507.85,283.56 L508.57,283.54 L509.29,283.49 L510.01,283.42 L510.72,283.3 L511.44,283.11 L512.16,282.83 L512.88,282.42 L513.59,281.85 L514.31,281.1 L515.03,280.15 L515.75,279.01 L516.46,277.67 L517.18,276.14 L517.9,274.42 L518.62,272.52 L519.33,270.44 L520.05,268.17 L520.77,265.72 L521.49,263.08 L522.2,260.27 L522.92,257.3 L523.64,254.22 L524.36,251.05 L525.07,247.86 L525.79,244.71 L526.51,241.69 L527.23,238.87 L527.94,236.31 L528.66,234.09 L529.38,232.21 L530.1,230.71 L530.82,229.54 L531.53,228.69 L532.25,228.09 L532.97,227.7 L533.69,227.47 L534.4,227.35 L535.12,227.32 L535.84,227.4 L536.56,227.52 L537.27,227.67 L537.99,227.83 L538.71,228 L539.43,228.19 L540.14,228.39 L540.86,228.6 L541.58,228.82 L542.3,229.06 L543.01,229.3 L543.73,229.56 L544.45,229.84 L545.17,230.13 L545.88,230.43 L546.6,230.75 L547.32,231.09 L548.04,231.44 L548.75,231.8 L549.47,232.18 L550.19,232.58 L550.91,232.98 L551.62,233.41 L552.34,233.84 L553.06,234.29 L553.78,234.75 L554.49,235.22 L555.21,235.71 L555.93,236.21 L556.65,236.71 L557.37,237.23 L558.08,237.76 L558.8,238.3 L559.52,238.84 L560.24,239.4 L560.95,239.96 L561.67,240.53 L562.39,241.1 L563.11,241.69 L563.82,242.27 L564.54,242.87 L565.26,243.47 L565.98,244.07 L566.69,244.68 L567.41,245.29 L568.13,245.9 L568.85,246.52 L569.56,247.13 L570.28,247.75 L571,248.37 L571.72,249 L572.43,249.62 L573.15,250.24 L573.87,250.86 L574.59,251.48 L575.3,252.1 L576.02,252.71 L576.74,253.33 L577.46,253.94 L578.17,254.55 L578.89,255.15 L579.61,255.76 L580.33,256.35 L581.05,256.95 L581.76,257.54 L582.48,258.12 L583.2,258.7 L583.92,259.27 L584.63,259.84 L585.35,260.4 L586.07,260.96 L586.79,261.51 L587.5,262.05 L588.22,262.59 L588.94,263.12 L589.66,263.64 L590.37,264.15 L591.09,264.66 L591.81,265.16 L592.53,265.65 L593.24,266.13 L593.96,266.61 L594.68,267.08 L595.4,267.53 L596.11,267.99 L596.83,268.43 L597.55,268.86 L598.27,269.29 L598.98,269.71 L599.7,270.11 L600.42,270.51 L601.14,270.91 L601.85,271.29 L602.57,271.67 L603.29,272.03 L604.01,272.39 L604.73,272.74 L605.44,273.08 L606.16,273.42 L606.88,273.74 L607.6,274.06 L608.31,274.37 L609.03,274.67 L609.75,274.96 L610.47,275.25 L611.18,275.52 L611.9,275.79 L612.62,276.06 L613.34,276.31 L614.05,276.56 L614.77,276.8 L615.49,277.03 L616.21,277.26 L616.92,277.48 L617.64,277.69 L618.36,277.9 L619.08,278.1 L619.79,278.29 L620.51,278.48 L621.23,278.66 L621.95,278.84 L622.66,279.01 L623.38,279.17 L624.1,279.33 L624.82,279.48 L625.53,279.63 L626.25,279.77 L626.97,279.91 L627.69,280.05 L628.41,280.17 L629.12,280.3 L629.84,280.42 L630.56,280.53 L631.28,280.64 L631.99,280.75 L632.71,280.85 L633.43,280.95 L634.15,281.05 L634.86,281.14 L635.58,281.23 L636.3,281.31 L637.02,281.39 L637.73,281.47 L638.45,281.54 L639.17,281.62 L639.89,281.69 L640.6,281.75 L641.32,281.82 L642.04,281.88 L642.76,281.94 L643.47,281.99 L644.19,282.05 L644.91,282.1 L645.63,282.15 L646.34,282.2 L647.06,282.24 L647.78,282.29 L648.5,282.33 L649.21,282.37 L649.93,282.41 L650.65,282.44 L651.37,282.48 L652.08,282.51 L652.8,282.55 L653.52,282.58 L654.24,282.61 L654.96,282.64 L655.67,282.66 L656.39,282.69 L657.11,282.72 L657.83,282.74 L658.54,282.76 L659.26,282.79 L659.98,282.81 L660.7,282.83 L661.41,282.85 L662.13,282.87 L662.85,282.88 L663.57,282.9 L664.28,282.92 L665,282.94 L665.72,282.95 L666.44,282.97 L667.15,282.98 L667.87,282.99 L668.59,283.01 L669.31,283.02 L670.02,283.03 L670.74,283.04 L671.46,283.06 L672.18,283.07 L672.89,283.08 L673.61,283.09 L674.33,283.1 L675.05,283.11 L675.76,283.12 L676.48,283.13 L677.2,283.13" fill="none" stroke="#e8e4aa" stroke-width="1.15" stroke-linejoin="round" stroke-linecap="round" />
<path d="M505.7,283.6 L506.42,283.6 L507.14,283.59 L507.85,283.59 L508.57,283.57 L509.29,283.55 L510.01,283.51 L510.72,283.44 L511.44,283.33 L512.16,283.14 L512.88,282.85 L513.59,282.42 L514.31,281.81 L515.03,281 L515.75,279.94 L516.46,278.62 L517.18,277.01 L517.9,275.1 L518.62,272.86 L519.33,270.28 L520.05,267.33 L520.77,264 L521.49,260.3 L522.2,256.24 L522.92,251.86 L523.64,247.22 L524.36,242.42 L525.07,237.58 L525.79,232.85 L526.51,228.37 L527.23,224.29 L527.94,220.72 L528.66,217.72 L529.38,215.31 L530.1,213.47 L530.82,212.14 L531.53,211.23 L532.25,210.65 L532.97,210.32 L533.69,210.17 L534.4,210.19 L535.12,210.37 L535.84,210.6 L536.56,210.87 L537.27,211.17 L537.99,211.48 L538.71,211.82 L539.43,212.18 L540.14,212.56 L540.86,212.96 L541.58,213.39 L542.3,213.83 L543.01,214.3 L543.73,214.8 L544.45,215.32 L545.17,215.87 L545.88,216.45 L546.6,217.05 L547.32,217.67 L548.04,218.32 L548.75,219 L549.47,219.7 L550.19,220.42 L550.91,221.16 L551.62,221.93 L552.34,222.71 L553.06,223.51 L553.78,224.34 L554.49,225.17 L555.21,226.03 L555.93,226.89 L556.65,227.78 L557.37,228.67 L558.08,229.57 L558.8,230.49 L559.52,231.41 L560.24,232.34 L560.95,233.28 L561.67,234.23 L562.39,235.18 L563.11,236.13 L563.82,237.08 L564.54,238.04 L565.26,239 L565.98,239.96 L566.69,240.91 L567.41,241.87 L568.13,242.82 L568.85,243.77 L569.56,244.71 L570.28,245.65 L571,246.58 L571.72,247.5 L572.43,248.42 L573.15,249.33 L573.87,250.23 L574.59,251.12 L575.3,252 L576.02,252.87 L576.74,253.73 L577.46,254.57 L578.17,255.41 L578.89,256.23 L579.61,257.03 L580.33,257.83 L581.05,258.61 L581.76,259.38 L582.48,260.13 L583.2,260.87 L583.92,261.59 L584.63,262.3 L585.35,262.99 L586.07,263.67 L586.79,264.33 L587.5,264.98 L588.22,265.61 L588.94,266.23 L589.66,266.83 L590.37,267.41 L591.09,267.98 L591.81,268.53 L592.53,269.07 L593.24,269.6 L593.96,270.11 L594.68,270.6 L595.4,271.08 L596.11,271.54 L596.83,271.99 L597.55,272.43 L598.27,272.85 L598.98,273.26 L599.7,273.65 L600.42,274.03 L601.14,274.4 L601.85,274.76 L602.57,275.1 L603.29,275.43 L604.01,275.75 L604.73,276.05 L605.44,276.35 L606.16,276.63 L606.88,276.91 L607.6,277.17 L608.31,277.42 L609.03,277.67 L609.75,277.9 L610.47,278.12 L611.18,278.34 L611.9,278.54 L612.62,278.74 L613.34,278.93 L614.05,279.11 L614.77,279.28 L615.49,279.45 L616.21,279.61 L616.92,279.76 L617.64,279.9 L618.36,280.04 L619.08,280.18 L619.79,280.3 L620.51,280.42 L621.23,280.54 L621.95,280.65 L622.66,280.75 L623.38,280.86 L624.1,280.95 L624.82,281.04 L625.53,281.13 L626.25,281.21 L626.97,281.29 L627.69,281.37 L628.41,281.44 L629.12,281.51 L629.84,281.57 L630.56,281.64 L631.28,281.7 L631.99,281.75 L632.71,281.81 L633.43,281.86 L634.15,281.91 L634.86,281.96 L635.58,282 L636.3,282.05 L637.02,282.09 L637.73,282.13 L638.45,282.16 L639.17,282.2 L639.89,282.23 L640.6,282.27 L641.32,282.3 L642.04,282.33 L642.76,282.36 L643.47,282.39 L644.19,282.41 L644.91,282.44 L645.63,282.46 L646.34,282.49 L647.06,282.51 L647.78,282.53 L648.5,282.55 L649.21,282.57 L649.93,282.59 L650.65,282.61 L651.37,282.63 L652.08,282.65 L652.8,282.67 L653.52,282.68 L654.24,282.7 L654.96,282.71 L655.67,282.73 L656.39,282.74 L657.11,282.76 L657.83,282.77 L658.54,282.79 L659.26,282.8 L659.98,282.81 L660.7,282.83 L661.41,282.84 L662.13,282.85 L662.85,282.86 L663.57,282.87 L664.28,282.88 L665,282.89 L665.72,282.91 L666.44,282.92 L667.15,282.93 L667.87,282.94 L668.59,282.95 L669.31,282.96 L670.02,282.97 L670.74,282.97 L671.46,282.98 L672.18,282.99 L672.89,283 L673.61,283.01 L674.33,283.02 L675.05,283.03 L675.76,283.03 L676.48,283.04 L677.2,283.05" fill="none" stroke="#d2eaf2" stroke-width="1.15" stroke-linejoin="round" stroke-linecap="round" />
<path d="M505.7,283.6 L506.42,283.6 L507.14,283.59 L507.85,283.59 L508.57,283.57 L509.29,283.55 L510.01,283.51 L510.72,283.43 L511.44,283.3 L512.16,283.09 L512.88,282.76 L513.59,282.26 L514.31,281.55 L515.03,280.57 L515.75,279.29 L516.46,277.67 L517.18,275.68 L517.9,273.28 L518.62,270.45 L519.33,267.16 L520.05,263.38 L520.77,259.12 L521.49,254.36 L522.2,249.15 L522.92,243.55 L523.64,237.67 L524.36,231.63 L525.07,225.63 L525.79,219.84 L526.51,214.45 L527.23,209.64 L527.94,205.53 L528.66,202.16 L529.38,199.53 L530.1,197.59 L530.82,196.23 L531.53,195.35 L532.25,194.85 L532.97,194.61 L533.69,194.62 L534.4,194.89 L535.12,195.24 L535.84,195.65 L536.56,196.1 L537.27,196.59 L537.99,197.11 L538.71,197.66 L539.43,198.24 L540.14,198.86 L540.86,199.51 L541.58,200.19 L542.3,200.92 L543.01,201.68 L543.73,202.48 L544.45,203.32 L545.17,204.19 L545.88,205.11 L546.6,206.06 L547.32,207.04 L548.04,208.06 L548.75,209.11 L549.47,210.2 L550.19,211.31 L550.91,212.45 L551.62,213.61 L552.34,214.8 L553.06,216.01 L553.78,217.24 L554.49,218.49 L555.21,219.75 L555.93,221.03 L556.65,222.32 L557.37,223.61 L558.08,224.92 L558.8,226.23 L559.52,227.55 L560.24,228.86 L560.95,230.18 L561.67,231.5 L562.39,232.81 L563.11,234.12 L563.82,235.43 L564.54,236.72 L565.26,238.01 L565.98,239.28 L566.69,240.55 L567.41,241.8 L568.13,243.04 L568.85,244.26 L569.56,245.46 L570.28,246.65 L571,247.82 L571.72,248.97 L572.43,250.1 L573.15,251.21 L573.87,252.3 L574.59,253.37 L575.3,254.41 L576.02,255.43 L576.74,256.43 L577.46,257.41 L578.17,258.36 L578.89,259.29 L579.61,260.19 L580.33,261.07 L581.05,261.92 L581.76,262.75 L582.48,263.56 L583.2,264.34 L583.92,265.09 L584.63,265.83 L585.35,266.54 L586.07,267.22 L586.79,267.89 L587.5,268.52 L588.22,269.14 L588.94,269.74 L589.66,270.31 L590.37,270.86 L591.09,271.39 L591.81,271.9 L592.53,272.39 L593.24,272.86 L593.96,273.31 L594.68,273.75 L595.4,274.16 L596.11,274.56 L596.83,274.94 L597.55,275.3 L598.27,275.65 L598.98,275.98 L599.7,276.3 L600.42,276.6 L601.14,276.89 L601.85,277.16 L602.57,277.43 L603.29,277.68 L604.01,277.91 L604.73,278.14 L605.44,278.36 L606.16,278.56 L606.88,278.76 L607.6,278.94 L608.31,279.12 L609.03,279.28 L609.75,279.44 L610.47,279.6 L611.18,279.74 L611.9,279.87 L612.62,280 L613.34,280.13 L614.05,280.24 L614.77,280.35 L615.49,280.46 L616.21,280.56 L616.92,280.65 L617.64,280.75 L618.36,280.83 L619.08,280.91 L619.79,280.99 L620.51,281.06 L621.23,281.13 L621.95,281.2 L622.66,281.26 L623.38,281.33 L624.1,281.38 L624.82,281.44 L625.53,281.49 L626.25,281.54 L626.97,281.59 L627.69,281.64 L628.41,281.68 L629.12,281.72 L629.84,281.76 L630.56,281.8 L631.28,281.84 L631.99,281.88 L632.71,281.91 L633.43,281.94 L634.15,281.98 L634.86,282.01 L635.58,282.04 L636.3,282.07 L637.02,282.09 L637.73,282.12 L638.45,282.15 L639.17,282.17 L639.89,282.2 L640.6,282.22 L641.32,282.25 L642.04,282.27 L642.76,282.29 L643.47,282.31 L644.19,282.33 L644.91,282.36 L645.63,282.38 L646.34,282.4 L647.06,282.41 L647.78,282.43 L648.5,282.45 L649.21,282.47 L649.93,282.49 L650.65,282.51 L651.37,282.52 L652.08,282.54 L652.8,282.56 L653.52,282.57 L654.24,282.59 L654.96,282.6 L655.67,282.62 L656.39,282.63 L657.11,282.65 L657.83,282.66 L658.54,282.68 L659.26,282.69 L659.98,282.7 L660.7,282.72 L661.41,282.73 L662.13,282.74 L662.85,282.76 L663.57,282.77 L664.28,282.78 L665,282.79 L665.72,282.81 L666.44,282.82 L667.15,282.83 L667.87,282.84 L668.59,282.85 L669.31,282.86 L670.02,282.87 L670.74,282.88 L671.46,282.9 L672.18,282.91 L672.89,282.92 L673.61,282.93 L674.33,282.94 L675.05,282.95 L675.76,282.96 L676.48,282.97 L677.2,282.97" fill="none" stroke="#a9d4ea" stroke-width="1.15" stroke-linejoin="round" stroke-linecap="round" />
<path d="M505.7,283.6 L506.42,283.6 L507.14,283.59 L507.85,283.58 L508.57,283.57 L509.29,283.54 L510.01,283.49 L510.72,283.4 L511.44,283.25 L512.16,283.01 L512.88,282.62 L513.59,282.05 L514.31,281.22 L515.03,280.09 L515.75,278.61 L516.46,276.74 L517.18,274.44 L517.9,271.68 L518.62,268.43 L519.33,264.66 L520.05,260.33 L520.77,255.45 L521.49,250.01 L522.2,244.05 L522.92,237.63 L523.64,230.87 L524.36,223.91 L525.07,216.94 L525.79,210.19 L526.51,203.86 L527.23,198.15 L527.94,193.2 L528.66,189.11 L529.38,185.88 L530.1,183.46 L530.82,181.76 L531.53,180.64 L532.25,179.98 L532.97,179.68 L533.69,179.69 L534.4,180.03 L535.12,180.48 L535.84,181.01 L536.56,181.6 L537.27,182.23 L537.99,182.92 L538.71,183.64 L539.43,184.41 L540.14,185.22 L540.86,186.08 L541.58,186.98 L542.3,187.94 L543.01,188.95 L543.73,190 L544.45,191.11 L545.17,192.26 L545.88,193.46 L546.6,194.71 L547.32,196 L548.04,197.34 L548.75,198.72 L549.47,200.13 L550.19,201.58 L550.91,203.06 L551.62,204.57 L552.34,206.11 L553.06,207.67 L553.78,209.25 L554.49,210.85 L555.21,212.47 L555.93,214.09 L556.65,215.73 L557.37,217.37 L558.08,219.02 L558.8,220.67 L559.52,222.32 L560.24,223.96 L560.95,225.6 L561.67,227.23 L562.39,228.85 L563.11,230.46 L563.82,232.05 L564.54,233.63 L565.26,235.18 L565.98,236.72 L566.69,238.24 L567.41,239.73 L568.13,241.2 L568.85,242.65 L569.56,244.06 L570.28,245.45 L571,246.81 L571.72,248.14 L572.43,249.44 L573.15,250.71 L573.87,251.95 L574.59,253.15 L575.3,254.33 L576.02,255.47 L576.74,256.58 L577.46,257.65 L578.17,258.69 L578.89,259.7 L579.61,260.68 L580.33,261.62 L581.05,262.53 L581.76,263.41 L582.48,264.26 L583.2,265.08 L583.92,265.87 L584.63,266.62 L585.35,267.35 L586.07,268.05 L586.79,268.72 L587.5,269.36 L588.22,269.97 L588.94,270.56 L589.66,271.12 L590.37,271.66 L591.09,272.17 L591.81,272.66 L592.53,273.13 L593.24,273.58 L593.96,274 L594.68,274.41 L595.4,274.79 L596.11,275.16 L596.83,275.51 L597.55,275.84 L598.27,276.15 L598.98,276.45 L599.7,276.73 L600.42,277 L601.14,277.25 L601.85,277.5 L602.57,277.72 L603.29,277.94 L604.01,278.15 L604.73,278.34 L605.44,278.53 L606.16,278.7 L606.88,278.87 L607.6,279.02 L608.31,279.17 L609.03,279.31 L609.75,279.45 L610.47,279.57 L611.18,279.69 L611.9,279.81 L612.62,279.91 L613.34,280.02 L614.05,280.11 L614.77,280.21 L615.49,280.29 L616.21,280.38 L616.92,280.46 L617.64,280.53 L618.36,280.61 L619.08,280.68 L619.79,280.74 L620.51,280.81 L621.23,280.87 L621.95,280.92 L622.66,280.98 L623.38,281.03 L624.1,281.09 L624.82,281.14 L625.53,281.18 L626.25,281.23 L626.97,281.27 L627.69,281.32 L628.41,281.36 L629.12,281.4 L629.84,281.44 L630.56,281.48 L631.28,281.51 L631.99,281.55 L632.71,281.58 L633.43,281.62 L634.15,281.65 L634.86,281.68 L635.58,281.71 L636.3,281.74 L637.02,281.77 L637.73,281.8 L638.45,281.83 L639.17,281.86 L639.89,281.89 L640.6,281.91 L641.32,281.94 L642.04,281.96 L642.76,281.99 L643.47,282.01 L644.19,282.04 L644.91,282.06 L645.63,282.09 L646.34,282.11 L647.06,282.13 L647.78,282.15 L648.5,282.18 L649.21,282.2 L649.93,282.22 L650.65,282.24 L651.37,282.26 L652.08,282.28 L652.8,282.3 L653.52,282.32 L654.24,282.34 L654.96,282.36 L655.67,282.37 L656.39,282.39 L657.11,282.41 L657.83,282.43 L658.54,282.45 L659.26,282.46 L659.98,282.48 L660.7,282.5 L661.41,282.51 L662.13,282.53 L662.85,282.55 L663.57,282.56 L664.28,282.58 L665,282.59 L665.72,282.61 L666.44,282.62 L667.15,282.64 L667.87,282.65 L668.59,282.66 L669.31,282.68 L670.02,282.69 L670.74,282.71 L671.46,282.72 L672.18,282.73 L672.89,282.74 L673.61,282.76 L674.33,282.77 L675.05,282.78 L675.76,282.79 L676.48,282.81 L677.2,282.82" fill="none" stroke="#78aad4" stroke-width="1.15" stroke-linejoin="round" stroke-linecap="round" />
<path d="M505.7,283.6 L506.42,283.6 L507.14,283.59 L507.85,283.58 L508.57,283.57 L509.29,283.54 L510.01,283.48 L510.72,283.38 L511.44,283.22 L512.16,282.95 L512.88,282.53 L513.59,281.89 L514.31,280.98 L515.03,279.74 L515.75,278.12 L516.46,276.07 L517.18,273.55 L517.9,270.53 L518.62,266.97 L519.33,262.84 L520.05,258.11 L520.77,252.77 L521.49,246.82 L522.2,240.3 L522.92,233.29 L523.64,225.88 L524.36,218.26 L525.07,210.61 L525.79,203.18 L526.51,196.19 L527.23,189.87 L527.94,184.39 L528.66,179.82 L529.38,176.21 L530.1,173.49 L530.82,171.56 L531.53,170.29 L532.25,169.54 L532.97,169.19 L533.69,169.21 L534.4,169.59 L535.12,170.1 L535.84,170.69 L536.56,171.36 L537.27,172.09 L537.99,172.86 L538.71,173.69 L539.43,174.57 L540.14,175.5 L540.86,176.48 L541.58,177.52 L542.3,178.62 L543.01,179.77 L543.73,180.99 L544.45,182.25 L545.17,183.58 L545.88,184.96 L546.6,186.39 L547.32,187.87 L548.04,189.4 L548.75,190.98 L549.47,192.6 L550.19,194.26 L550.91,195.95 L551.62,197.67 L552.34,199.43 L553.06,201.21 L553.78,203.01 L554.49,204.83 L555.21,206.67 L555.93,208.51 L556.65,210.37 L557.37,212.23 L558.08,214.09 L558.8,215.96 L559.52,217.81 L560.24,219.66 L560.95,221.51 L561.67,223.34 L562.39,225.15 L563.11,226.95 L563.82,228.73 L564.54,230.48 L565.26,232.22 L565.98,233.93 L566.69,235.61 L567.41,237.26 L568.13,238.88 L568.85,240.47 L569.56,242.03 L570.28,243.56 L571,245.05 L571.72,246.5 L572.43,247.92 L573.15,249.3 L573.87,250.64 L574.59,251.95 L575.3,253.22 L576.02,254.45 L576.74,255.64 L577.46,256.79 L578.17,257.91 L578.89,258.98 L579.61,260.02 L580.33,261.03 L581.05,261.99 L581.76,262.92 L582.48,263.81 L583.2,264.67 L583.92,265.5 L584.63,266.29 L585.35,267.05 L586.07,267.77 L586.79,268.47 L587.5,269.13 L588.22,269.76 L588.94,270.37 L589.66,270.95 L590.37,271.5 L591.09,272.02 L591.81,272.52 L592.53,272.99 L593.24,273.45 L593.96,273.87 L594.68,274.28 L595.4,274.67 L596.11,275.04 L596.83,275.38 L597.55,275.71 L598.27,276.03 L598.98,276.32 L599.7,276.6 L600.42,276.87 L601.14,277.12 L601.85,277.36 L602.57,277.58 L603.29,277.8 L604.01,278 L604.73,278.19 L605.44,278.37 L606.16,278.54 L606.88,278.7 L607.6,278.85 L608.31,279 L609.03,279.14 L609.75,279.27 L610.47,279.39 L611.18,279.51 L611.9,279.62 L612.62,279.72 L613.34,279.82 L614.05,279.92 L614.77,280.01 L615.49,280.09 L616.21,280.18 L616.92,280.26 L617.64,280.33 L618.36,280.4 L619.08,280.47 L619.79,280.54 L620.51,280.6 L621.23,280.66 L621.95,280.72 L622.66,280.78 L623.38,280.83 L624.1,280.88 L624.82,280.93 L625.53,280.98 L626.25,281.03 L626.97,281.07 L627.69,281.12 L628.41,281.16 L629.12,281.2 L629.84,281.24 L630.56,281.28 L631.28,281.32 L631.99,281.36 L632.71,281.39 L633.43,281.43 L634.15,281.47 L634.86,281.5 L635.58,281.53 L636.3,281.57 L637.02,281.6 L637.73,281.63 L638.45,281.66 L639.17,281.69 L639.89,281.72 L640.6,281.75 L641.32,281.78 L642.04,281.8 L642.76,281.83 L643.47,281.86 L644.19,281.88 L644.91,281.91 L645.63,281.93 L646.34,281.96 L647.06,281.98 L647.78,282.01 L648.5,282.03 L649.21,282.06 L649.93,282.08 L650.65,282.1 L651.37,282.12 L652.08,282.15 L652.8,282.17 L653.52,282.19 L654.24,282.21 L654.96,282.23 L655.67,282.25 L656.39,282.27 L657.11,282.29 L657.83,282.31 L658.54,282.33 L659.26,282.35 L659.98,282.37 L660.7,282.39 L661.41,282.4 L662.13,282.42 L662.85,282.44 L663.57,282.46 L664.28,282.47 L665,282.49 L665.72,282.51 L666.44,282.52 L667.15,282.54 L667.87,282.55 L668.59,282.57 L669.31,282.59 L670.02,282.6 L670.74,282.61 L671.46,282.63 L672.18,282.64 L672.89,282.66 L673.61,282.67 L674.33,282.69 L675.05,282.7 L675.76,282.71 L676.48,282.73 L677.2,282.74" fill="none" stroke="#4d80ba" stroke-width="1.15" stroke-linejoin="round" stroke-linecap="round" />
<path d="M505.7,283.6 L506.42,283.6 L507.14,283.59 L507.85,283.58 L508.57,283.56 L509.29,283.53 L510.01,283.48 L510.72,283.38 L511.44,283.21 L512.16,282.94 L512.88,282.51 L513.59,281.86 L514.31,280.93 L515.03,279.67 L515.75,278.01 L516.46,275.92 L517.18,273.35 L517.9,270.27 L518.62,266.65 L519.33,262.44 L520.05,257.62 L520.77,252.17 L521.49,246.11 L522.2,239.46 L522.92,232.31 L523.64,224.76 L524.36,216.99 L525.07,209.19 L525.79,201.61 L526.51,194.49 L527.23,188.05 L527.94,182.46 L528.66,177.8 L529.38,174.12 L530.1,171.34 L530.82,169.38 L531.53,168.09 L532.25,167.33 L532.97,166.97 L533.69,166.98 L534.4,167.37 L535.12,167.89 L535.84,168.5 L536.56,169.18 L537.27,169.92 L537.99,170.71 L538.71,171.55 L539.43,172.45 L540.14,173.4 L540.86,174.4 L541.58,175.46 L542.3,176.58 L543.01,177.76 L543.73,178.99 L544.45,180.28 L545.17,181.63 L545.88,183.04 L546.6,184.5 L547.32,186.01 L548.04,187.57 L548.75,189.18 L549.47,190.83 L550.19,192.52 L550.91,194.25 L551.62,196 L552.34,197.79 L553.06,199.61 L553.78,201.44 L554.49,203.3 L555.21,205.17 L555.93,207.05 L556.65,208.95 L557.37,210.84 L558.08,212.74 L558.8,214.64 L559.52,216.53 L560.24,218.42 L560.95,220.3 L561.67,222.16 L562.39,224.01 L563.11,225.85 L563.82,227.66 L564.54,229.45 L565.26,231.22 L565.98,232.96 L566.69,234.67 L567.41,236.36 L568.13,238.01 L568.85,239.64 L569.56,241.22 L570.28,242.78 L571,244.3 L571.72,245.78 L572.43,247.22 L573.15,248.63 L573.87,250 L574.59,251.33 L575.3,252.63 L576.02,253.88 L576.74,255.09 L577.46,256.27 L578.17,257.41 L578.89,258.5 L579.61,259.56 L580.33,260.59 L581.05,261.57 L581.76,262.52 L582.48,263.43 L583.2,264.31 L583.92,265.15 L584.63,265.95 L585.35,266.72 L586.07,267.46 L586.79,268.17 L587.5,268.85 L588.22,269.49 L588.94,270.11 L589.66,270.7 L590.37,271.26 L591.09,271.8 L591.81,272.3 L592.53,272.79 L593.24,273.25 L593.96,273.69 L594.68,274.1 L595.4,274.5 L596.11,274.87 L596.83,275.22 L597.55,275.56 L598.27,275.88 L598.98,276.18 L599.7,276.47 L600.42,276.74 L601.14,276.99 L601.85,277.24 L602.57,277.47 L603.29,277.68 L604.01,277.89 L604.73,278.08 L605.44,278.27 L606.16,278.44 L606.88,278.61 L607.6,278.76 L608.31,278.91 L609.03,279.05 L609.75,279.18 L610.47,279.31 L611.18,279.43 L611.9,279.54 L612.62,279.65 L613.34,279.75 L614.05,279.85 L614.77,279.94 L615.49,280.03 L616.21,280.11 L616.92,280.19 L617.64,280.27 L618.36,280.34 L619.08,280.41 L619.79,280.48 L620.51,280.54 L621.23,280.6 L621.95,280.66 L622.66,280.72 L623.38,280.78 L624.1,280.83 L624.82,280.88 L625.53,280.93 L626.25,280.98 L626.97,281.02 L627.69,281.07 L628.41,281.11 L629.12,281.16 L629.84,281.2 L630.56,281.24 L631.28,281.28 L631.99,281.31 L632.71,281.35 L633.43,281.39 L634.15,281.42 L634.86,281.46 L635.58,281.49 L636.3,281.53 L637.02,281.56 L637.73,281.59 L638.45,281.62 L639.17,281.65 L639.89,281.68 L640.6,281.71 L641.32,281.74 L642.04,281.77 L642.76,281.8 L643.47,281.82 L644.19,281.85 L644.91,281.88 L645.63,281.9 L646.34,281.93 L647.06,281.95 L647.78,281.98 L648.5,282 L649.21,282.03 L649.93,282.05 L650.65,282.07 L651.37,282.1 L652.08,282.12 L652.8,282.14 L653.52,282.16 L654.24,282.18 L654.96,282.2 L655.67,282.23 L656.39,282.25 L657.11,282.27 L657.83,282.29 L658.54,282.31 L659.26,282.32 L659.98,282.34 L660.7,282.36 L661.41,282.38 L662.13,282.4 L662.85,282.42 L663.57,282.43 L664.28,282.45 L665,282.47 L665.72,282.49 L666.44,282.5 L667.15,282.52 L667.87,282.53 L668.59,282.55 L669.31,282.57 L670.02,282.58 L670.74,282.6 L671.46,282.61 L672.18,282.63 L672.89,282.64 L673.61,282.65 L674.33,282.67 L675.05,282.68 L675.76,282.7 L676.48,282.71 L677.2,282.72" fill="none" stroke="#3a6aa8" stroke-width="1.15" stroke-linejoin="round" stroke-linecap="round" />
<path d="M505.7,283.6 L506.42,283.6 L507.14,283.59 L507.85,283.58 L508.57,283.56 L509.29,283.53 L510.01,283.48 L510.72,283.38 L511.44,283.21 L512.16,282.93 L512.88,282.49 L513.59,281.84 L514.31,280.9 L515.03,279.63 L515.75,277.95 L516.46,275.84 L517.18,273.24 L517.9,270.13 L518.62,266.46 L519.33,262.2 L520.05,257.33 L520.77,251.83 L521.49,245.7 L522.2,238.98 L522.92,231.75 L523.64,224.12 L524.36,216.26 L525.07,208.38 L525.79,200.72 L526.51,193.52 L527.23,187.01 L527.94,181.35 L528.66,176.65 L529.38,172.92 L530.1,170.12 L530.82,168.13 L531.53,166.83 L532.25,166.06 L532.97,165.7 L533.69,165.71 L534.4,166.11 L535.12,166.63 L535.84,167.24 L536.56,167.93 L537.27,168.68 L537.99,169.48 L538.71,170.33 L539.43,171.24 L540.14,172.2 L540.86,173.21 L541.58,174.28 L542.3,175.41 L543.01,176.6 L543.73,177.85 L544.45,179.16 L545.17,180.52 L545.88,181.94 L546.6,183.42 L547.32,184.95 L548.04,186.53 L548.75,188.15 L549.47,189.82 L550.19,191.53 L550.91,193.27 L551.62,195.05 L552.34,196.86 L553.06,198.69 L553.78,200.55 L554.49,202.42 L555.21,204.32 L555.93,206.22 L556.65,208.13 L557.37,210.05 L558.08,211.97 L558.8,213.89 L559.52,215.8 L560.24,217.71 L560.95,219.61 L561.67,221.49 L562.39,223.36 L563.11,225.22 L563.82,227.05 L564.54,228.86 L565.26,230.65 L565.98,232.41 L566.69,234.14 L567.41,235.84 L568.13,237.52 L568.85,239.16 L569.56,240.76 L570.28,242.33 L571,243.87 L571.72,245.37 L572.43,246.83 L573.15,248.25 L573.87,249.64 L574.59,250.98 L575.3,252.29 L576.02,253.56 L576.74,254.78 L577.46,255.97 L578.17,257.12 L578.89,258.23 L579.61,259.3 L580.33,260.34 L581.05,261.33 L581.76,262.29 L582.48,263.21 L583.2,264.1 L583.92,264.94 L584.63,265.76 L585.35,266.54 L586.07,267.29 L586.79,268 L587.5,268.69 L588.22,269.34 L588.94,269.96 L589.66,270.56 L590.37,271.13 L591.09,271.67 L591.81,272.18 L592.53,272.67 L593.24,273.14 L593.96,273.58 L594.68,274 L595.4,274.4 L596.11,274.77 L596.83,275.13 L597.55,275.47 L598.27,275.8 L598.98,276.1 L599.7,276.39 L600.42,276.66 L601.14,276.92 L601.85,277.17 L602.57,277.4 L603.29,277.62 L604.01,277.83 L604.73,278.02 L605.44,278.21 L606.16,278.38 L606.88,278.55 L607.6,278.71 L608.31,278.86 L609.03,279 L609.75,279.13 L610.47,279.26 L611.18,279.38 L611.9,279.49 L612.62,279.6 L613.34,279.71 L614.05,279.81 L614.77,279.9 L615.49,279.99 L616.21,280.07 L616.92,280.15 L617.64,280.23 L618.36,280.31 L619.08,280.38 L619.79,280.44 L620.51,280.51 L621.23,280.57 L621.95,280.63 L622.66,280.69 L623.38,280.75 L624.1,280.8 L624.82,280.85 L625.53,280.9 L626.25,280.95 L626.97,281 L627.69,281.04 L628.41,281.09 L629.12,281.13 L629.84,281.17 L630.56,281.21 L631.28,281.25 L631.99,281.29 L632.71,281.33 L633.43,281.36 L634.15,281.4 L634.86,281.44 L635.58,281.47 L636.3,281.5 L637.02,281.54 L637.73,281.57 L638.45,281.6 L639.17,281.63 L639.89,281.66 L640.6,281.69 L641.32,281.72 L642.04,281.75 L642.76,281.78 L643.47,281.8 L644.19,281.83 L644.91,281.86 L645.63,281.88 L646.34,281.91 L647.06,281.94 L647.78,281.96 L648.5,281.98 L649.21,282.01 L649.93,282.03 L650.65,282.06 L651.37,282.08 L652.08,282.1 L652.8,282.12 L653.52,282.15 L654.24,282.17 L654.96,282.19 L655.67,282.21 L656.39,282.23 L657.11,282.25 L657.83,282.27 L658.54,282.29 L659.26,282.31 L659.98,282.33 L660.7,282.35 L661.41,282.37 L662.13,282.39 L662.85,282.4 L663.57,282.42 L664.28,282.44 L665,282.46 L665.72,282.47 L666.44,282.49 L667.15,282.51 L667.87,282.52 L668.59,282.54 L669.31,282.55 L670.02,282.57 L670.74,282.58 L671.46,282.6 L672.18,282.61 L672.89,282.63 L673.61,282.64 L674.33,282.66 L675.05,282.67 L675.76,282.69 L676.48,282.7 L677.2,282.71" fill="none" stroke="#30609e" stroke-width="1.15" stroke-linejoin="round" stroke-linecap="round" />
<path d="M505.7,283.6 L506.42,283.59 L507.14,283.59 L507.85,283.58 L508.57,283.56 L509.29,283.53 L510.01,283.46 L510.72,283.36 L511.44,283.17 L512.16,282.87 L512.88,282.39 L513.59,281.69 L514.31,280.68 L515.03,279.3 L515.75,277.5 L516.46,275.24 L517.18,272.47 L517.9,269.16 L518.62,265.27 L519.33,260.77 L520.05,255.65 L520.77,249.89 L521.49,243.5 L522.2,236.53 L522.92,229.08 L523.64,221.27 L524.36,213.28 L525.07,205.35 L525.79,197.71 L526.51,190.6 L527.23,184.25 L527.94,178.8 L528.66,174.33 L529.38,170.83 L530.1,168.25 L530.82,166.45 L531.53,165.3 L532.25,164.65 L532.97,164.38 L533.69,164.54 L534.4,164.98 L535.12,165.54 L535.84,166.18 L536.56,166.89 L537.27,167.67 L537.99,168.49 L538.71,169.37 L539.43,170.3 L540.14,171.28 L540.86,172.33 L541.58,173.43 L542.3,174.58 L543.01,175.8 L543.73,177.08 L544.45,178.42 L545.17,179.82 L545.88,181.27 L546.6,182.78 L547.32,184.34 L548.04,185.95 L548.75,187.6 L549.47,189.3 L550.19,191.04 L550.91,192.81 L551.62,194.62 L552.34,196.45 L553.06,198.31 L553.78,200.19 L554.49,202.1 L555.21,204.01 L555.93,205.94 L556.65,207.87 L557.37,209.81 L558.08,211.75 L558.8,213.69 L559.52,215.63 L560.24,217.55 L560.95,219.47 L561.67,221.37 L562.39,223.25 L563.11,225.12 L563.82,226.97 L564.54,228.79 L565.26,230.59 L565.98,232.36 L566.69,234.11 L567.41,235.82 L568.13,237.5 L568.85,239.15 L569.56,240.76 L570.28,242.34 L571,243.88 L571.72,245.38 L572.43,246.85 L573.15,248.28 L573.87,249.66 L574.59,251.01 L575.3,252.32 L576.02,253.59 L576.74,254.82 L577.46,256.01 L578.17,257.16 L578.89,258.27 L579.61,259.34 L580.33,260.38 L581.05,261.37 L581.76,262.33 L582.48,263.25 L583.2,264.14 L583.92,264.98 L584.63,265.8 L585.35,266.58 L586.07,267.32 L586.79,268.04 L587.5,268.72 L588.22,269.37 L588.94,269.99 L589.66,270.59 L590.37,271.15 L591.09,271.69 L591.81,272.2 L592.53,272.69 L593.24,273.15 L593.96,273.59 L594.68,274.01 L595.4,274.41 L596.11,274.79 L596.83,275.14 L597.55,275.48 L598.27,275.8 L598.98,276.1 L599.7,276.39 L600.42,276.66 L601.14,276.92 L601.85,277.17 L602.57,277.4 L603.29,277.62 L604.01,277.82 L604.73,278.02 L605.44,278.2 L606.16,278.38 L606.88,278.54 L607.6,278.7 L608.31,278.85 L609.03,278.99 L609.75,279.12 L610.47,279.25 L611.18,279.37 L611.9,279.48 L612.62,279.59 L613.34,279.69 L614.05,279.79 L614.77,279.88 L615.49,279.97 L616.21,280.06 L616.92,280.14 L617.64,280.22 L618.36,280.29 L619.08,280.36 L619.79,280.43 L620.51,280.49 L621.23,280.56 L621.95,280.62 L622.66,280.67 L623.38,280.73 L624.1,280.78 L624.82,280.84 L625.53,280.89 L626.25,280.93 L626.97,280.98 L627.69,281.03 L628.41,281.07 L629.12,281.12 L629.84,281.16 L630.56,281.2 L631.28,281.24 L631.99,281.28 L632.71,281.31 L633.43,281.35 L634.15,281.39 L634.86,281.42 L635.58,281.46 L636.3,281.49 L637.02,281.52 L637.73,281.56 L638.45,281.59 L639.17,281.62 L639.89,281.65 L640.6,281.68 L641.32,281.71 L642.04,281.74 L642.76,281.76 L643.47,281.79 L644.19,281.82 L644.91,281.85 L645.63,281.87 L646.34,281.9 L647.06,281.92 L647.78,281.95 L648.5,281.97 L649.21,282 L649.93,282.02 L650.65,282.05 L651.37,282.07 L652.08,282.09 L652.8,282.11 L653.52,282.14 L654.24,282.16 L654.96,282.18 L655.67,282.2 L656.39,282.22 L657.11,282.24 L657.83,282.26 L658.54,282.28 L659.26,282.3 L659.98,282.32 L660.7,282.34 L661.41,282.36 L662.13,282.38 L662.85,282.4 L663.57,282.41 L664.28,282.43 L665,282.45 L665.72,282.47 L666.44,282.48 L667.15,282.5 L667.87,282.52 L668.59,282.53 L669.31,282.55 L670.02,282.56 L670.74,282.58 L671.46,282.59 L672.18,282.61 L672.89,282.62 L673.61,282.64 L674.33,282.65 L675.05,282.67 L675.76,282.68 L676.48,282.69 L677.2,282.71" fill="none" stroke="#2a5590" stroke-width="1.15" stroke-linejoin="round" stroke-linecap="round" />
</g>
<rect x="505.7" y="156.4" width="171.6" height="127.2" fill="none" stroke="#1a1a1a" stroke-width="1.2"/>
<line x1="502.7" y1="283.6" x2="505.7" y2="283.6" stroke="#111" stroke-width="1.1" />
<text x="0" y="0" font-size="8.5" font-weight="bold" text-anchor="end" fill="#111" transform="translate(500.5,286.5) scale(0.95,1)">0</text>
<line x1="502.7" y1="251.8" x2="505.7" y2="251.8" stroke="#111" stroke-width="1.1" />
<text x="0" y="0" font-size="8.5" font-weight="bold" text-anchor="end" fill="#111" transform="translate(500.5,254.7) scale(0.95,1)">1&#215;10<tspan font-size="5.6" dy="-3.3">5</tspan></text>
<line x1="502.7" y1="220" x2="505.7" y2="220" stroke="#111" stroke-width="1.1" />
<text x="0" y="0" font-size="8.5" font-weight="bold" text-anchor="end" fill="#111" transform="translate(500.5,222.9) scale(0.95,1)">2&#215;10<tspan font-size="5.6" dy="-3.3">5</tspan></text>
<line x1="502.7" y1="188.2" x2="505.7" y2="188.2" stroke="#111" stroke-width="1.1" />
<text x="0" y="0" font-size="8.5" font-weight="bold" text-anchor="end" fill="#111" transform="translate(500.5,191.1) scale(0.95,1)">3&#215;10<tspan font-size="5.6" dy="-3.3">5</tspan></text>
<line x1="502.7" y1="156.4" x2="505.7" y2="156.4" stroke="#111" stroke-width="1.1" />
<text x="0" y="0" font-size="8.5" font-weight="bold" text-anchor="end" fill="#111" transform="translate(500.5,159.3) scale(0.95,1)">4&#215;10<tspan font-size="5.6" dy="-3.3">5</tspan></text>
<line x1="503.7" y1="267.7" x2="505.7" y2="267.7" stroke="#111" stroke-width="1.0" />
<line x1="503.7" y1="235.9" x2="505.7" y2="235.9" stroke="#111" stroke-width="1.0" />
<line x1="503.7" y1="204.1" x2="505.7" y2="204.1" stroke="#111" stroke-width="1.0" />
<line x1="503.7" y1="172.3" x2="505.7" y2="172.3" stroke="#111" stroke-width="1.0" />
<line x1="505.7" y1="283.6" x2="505.7" y2="286.6" stroke="#111" stroke-width="1.1" />
<text x="0" y="0" font-size="8.5" font-weight="bold" text-anchor="middle" fill="#111" transform="translate(505.7,293.8) scale(0.95,1)">450</text>
<line x1="540" y1="283.6" x2="540" y2="286.6" stroke="#111" stroke-width="1.1" />
<text x="0" y="0" font-size="8.5" font-weight="bold" text-anchor="middle" fill="#111" transform="translate(540,293.8) scale(0.95,1)">500</text>
<line x1="574.3" y1="283.6" x2="574.3" y2="286.6" stroke="#111" stroke-width="1.1" />
<text x="0" y="0" font-size="8.5" font-weight="bold" text-anchor="middle" fill="#111" transform="translate(574.3,293.8) scale(0.95,1)">550</text>
<line x1="608.6" y1="283.6" x2="608.6" y2="286.6" stroke="#111" stroke-width="1.1" />
<text x="0" y="0" font-size="8.5" font-weight="bold" text-anchor="middle" fill="#111" transform="translate(608.6,293.8) scale(0.95,1)">600</text>
<line x1="642.9" y1="283.6" x2="642.9" y2="286.6" stroke="#111" stroke-width="1.1" />
<text x="0" y="0" font-size="8.5" font-weight="bold" text-anchor="middle" fill="#111" transform="translate(642.9,293.8) scale(0.95,1)">650</text>
<line x1="677.2" y1="283.6" x2="677.2" y2="286.6" stroke="#111" stroke-width="1.1" />
<text x="0" y="0" font-size="8.5" font-weight="bold" text-anchor="middle" fill="#111" transform="translate(677.2,293.8) scale(0.95,1)">700</text>
<line x1="522.85" y1="283.6" x2="522.85" y2="285.6" stroke="#111" stroke-width="1.0" />
<line x1="557.15" y1="283.6" x2="557.15" y2="285.6" stroke="#111" stroke-width="1.0" />
<line x1="591.45" y1="283.6" x2="591.45" y2="285.6" stroke="#111" stroke-width="1.0" />
<line x1="625.75" y1="283.6" x2="625.75" y2="285.6" stroke="#111" stroke-width="1.0" />
<line x1="660.05" y1="283.6" x2="660.05" y2="285.6" stroke="#111" stroke-width="1.0" />
<text x="588.2" y="304.5" font-size="8" font-weight="bold" text-anchor="middle" fill="#111"  textLength="65.7" lengthAdjust="spacingAndGlyphs">Wavelength / nm</text>
<text x="0" y="0" font-size="8" font-weight="bold" text-anchor="middle" fill="#111" transform="translate(476.6,211.5) rotate(-90)">Intensity</text>
<text x="0" y="0" font-size="16.4" font-weight="bold" fill="#111" transform="translate(449,157.3) scale(0.95,1)">(f)</text>
<rect x="503.9" y="317.3" width="58.4" height="127.2" fill="#fbf4f1"/>
<rect x="562.3" y="317.3" width="37.12" height="127.2" fill="#f2f4fb"/>
<line x1="562.3" y1="317.3" x2="562.3" y2="411" stroke="#8a8a8a" stroke-width="0.9" stroke-dasharray="3.2,2.2"/>
<line x1="599.42" y1="317.3" x2="599.42" y2="411" stroke="#8a8a8a" stroke-width="0.9" stroke-dasharray="3.2,2.2"/>
<clipPath id="clipg"><rect x="503.9" y="317.3" width="171.3" height="127.2"/></clipPath>
<g clip-path="url(#clipg)">
<path d="M521,441.37 L521.1,441.05 L521.2,440.78 L521.32,440.47 L521.47,440.04 L521.68,439.39 L521.98,438.45 L522.38,437.11 L522.9,435.29 L523.58,432.87 L524.4,429.9 L525.34,426.5 L526.35,422.82 L527.41,418.99 L528.48,415.13 L529.52,411.39 L530.51,407.91 L531.47,404.59 L532.42,401.29 L533.37,398 L534.32,394.75 L535.27,391.53 L536.22,388.36 L537.18,385.26 L538.13,382.22 L539.08,379.23 L540.03,376.28 L540.98,373.37 L541.93,370.52 L542.89,367.73 L543.84,365.03 L544.79,362.42 L545.74,359.91 L546.69,357.49 L547.65,355.12 L548.6,352.84 L549.55,350.64 L550.5,348.54 L551.45,346.56 L552.4,344.72 L553.36,343.01 L554.33,341.45 L555.35,340.02 L556.38,338.71 L557.4,337.52 L558.39,336.45 L559.33,335.49 L560.2,334.63 L560.97,333.89 L561.63,333.28 L562.19,332.84 L562.68,332.53 L563.11,332.32 L563.52,332.18 L563.91,332.08 L564.33,331.98 L564.78,331.86 L565.25,331.72 L565.73,331.62 L566.2,331.53 L566.68,331.48 L567.16,331.45 L567.63,331.45 L568.11,331.47 L568.58,331.52 L569.06,331.6 L569.54,331.7 L570.01,331.83 L570.49,331.98 L570.96,332.17 L571.44,332.38 L571.92,332.61 L572.39,332.87 L572.84,333.13 L573.25,333.36 L573.65,333.61 L574.06,333.89 L574.49,334.23 L574.98,334.66 L575.54,335.21 L576.2,335.91 L576.97,336.77 L577.83,337.76 L578.77,338.86 L579.77,340.05 L580.79,341.32 L581.82,342.65 L582.83,344.01 L583.81,345.38 L584.76,346.8 L585.72,348.3 L586.67,349.86 L587.62,351.46 L588.57,353.09 L589.52,354.71 L590.47,356.32 L591.43,357.88 L592.38,359.45 L593.33,361.04 L594.28,362.65 L595.23,364.24 L596.18,365.8 L597.14,367.3 L598.09,368.73 L599.04,370.05 L599.99,371.29 L600.94,372.46 L601.9,373.57 L602.85,374.62 L603.8,375.6 L604.75,376.52 L605.7,377.37 L606.65,378.16 L607.55,378.88 L608.38,379.5 L609.17,380.06 L609.99,380.55 L610.86,381 L611.83,381.42 L612.95,381.82 L614.27,382.22 L615.81,382.61 L617.54,382.97 L619.42,383.3 L621.41,383.6 L623.45,383.88 L625.51,384.14 L627.54,384.37 L629.5,384.59 L631.4,384.77 L633.3,384.91 L635.21,385.03 L637.11,385.12 L639.01,385.21 L640.92,385.28 L642.82,385.35 L644.72,385.43 L646.73,385.51 L648.89,385.59 L651.1,385.67 L653.29,385.74 L655.36,385.8 L657.22,385.85 L658.78,385.9 L659.95,385.94" fill="none" stroke="#e8231e" stroke-width="1.1" stroke-linejoin="round" stroke-linecap="round" />
</g>
<circle cx="522.9" cy="435.49" r="2.5" fill="#1c1c96"/>
<circle cx="530.51" cy="406.56" r="2.5" fill="#1c1c96"/>
<circle cx="538.13" cy="381.21" r="2.5" fill="#1c1c96"/>
<circle cx="545.74" cy="357.21" r="2.5" fill="#1c1c96"/>
<circle cx="553.36" cy="339.97" r="2.5" fill="#1c1c96"/>
<circle cx="560.97" cy="333.21" r="2.5" fill="#1c1c96"/>
<circle cx="568.58" cy="329.83" r="2.5" fill="#1c1c96"/>
<circle cx="576.2" cy="338.96" r="2.5" fill="#1c1c96"/>
<circle cx="583.81" cy="344.7" r="2.5" fill="#1c1c96"/>
<circle cx="591.43" cy="358.56" r="2.5" fill="#1c1c96"/>
<circle cx="599.04" cy="371.74" r="2.5" fill="#1c1c96"/>
<circle cx="606.65" cy="380.19" r="2.5" fill="#1c1c96"/>
<circle cx="614.27" cy="384.59" r="2.5" fill="#1c1c96"/>
<circle cx="629.5" cy="385.94" r="2.5" fill="#1c1c96"/>
<circle cx="659.95" cy="383.57" r="2.5" fill="#1c1c96"/>
<rect x="503.9" y="317.3" width="171.3" height="127.2" fill="none" stroke="#1a1a1a" stroke-width="1.2"/>
<line x1="500.9" y1="436.3" x2="503.9" y2="436.3" stroke="#111" stroke-width="1.1" />
<text x="0" y="0" font-size="8.5" font-weight="bold" text-anchor="end" fill="#111" transform="translate(499.8,439.2) scale(0.95,1)">0.0</text>
<line x1="500.9" y1="419.4" x2="503.9" y2="419.4" stroke="#111" stroke-width="1.1" />
<text x="0" y="0" font-size="8.5" font-weight="bold" text-anchor="end" fill="#111" transform="translate(499.8,422.3) scale(0.95,1)">5.0&#215;10<tspan font-size="5.6" dy="-3.3">3</tspan></text>
<line x1="500.9" y1="402.5" x2="503.9" y2="402.5" stroke="#111" stroke-width="1.1" />
<text x="0" y="0" font-size="8.5" font-weight="bold" text-anchor="end" fill="#111" transform="translate(499.8,405.4) scale(0.95,1)">1.0&#215;10<tspan font-size="5.6" dy="-3.3">4</tspan></text>
<line x1="500.9" y1="385.6" x2="503.9" y2="385.6" stroke="#111" stroke-width="1.1" />
<text x="0" y="0" font-size="8.5" font-weight="bold" text-anchor="end" fill="#111" transform="translate(499.8,388.5) scale(0.95,1)">1.5&#215;10<tspan font-size="5.6" dy="-3.3">4</tspan></text>
<line x1="500.9" y1="368.7" x2="503.9" y2="368.7" stroke="#111" stroke-width="1.1" />
<text x="0" y="0" font-size="8.5" font-weight="bold" text-anchor="end" fill="#111" transform="translate(499.8,371.6) scale(0.95,1)">2.0&#215;10<tspan font-size="5.6" dy="-3.3">4</tspan></text>
<line x1="500.9" y1="351.8" x2="503.9" y2="351.8" stroke="#111" stroke-width="1.1" />
<text x="0" y="0" font-size="8.5" font-weight="bold" text-anchor="end" fill="#111" transform="translate(499.8,354.7) scale(0.95,1)">2.5&#215;10<tspan font-size="5.6" dy="-3.3">4</tspan></text>
<line x1="500.9" y1="334.9" x2="503.9" y2="334.9" stroke="#111" stroke-width="1.1" />
<text x="0" y="0" font-size="8.5" font-weight="bold" text-anchor="end" fill="#111" transform="translate(499.8,337.8) scale(0.95,1)">3.0&#215;10<tspan font-size="5.6" dy="-3.3">4</tspan></text>
<line x1="500.9" y1="318" x2="503.9" y2="318" stroke="#111" stroke-width="1.1" />
<text x="0" y="0" font-size="8.5" font-weight="bold" text-anchor="end" fill="#111" transform="translate(499.8,320.9) scale(0.95,1)">3.5&#215;10<tspan font-size="5.6" dy="-3.3">4</tspan></text>
<line x1="501.9" y1="427.85" x2="503.9" y2="427.85" stroke="#111" stroke-width="1.0" />
<line x1="501.9" y1="410.95" x2="503.9" y2="410.95" stroke="#111" stroke-width="1.0" />
<line x1="501.9" y1="394.05" x2="503.9" y2="394.05" stroke="#111" stroke-width="1.0" />
<line x1="501.9" y1="377.15" x2="503.9" y2="377.15" stroke="#111" stroke-width="1.0" />
<line x1="501.9" y1="360.25" x2="503.9" y2="360.25" stroke="#111" stroke-width="1.0" />
<line x1="501.9" y1="343.35" x2="503.9" y2="343.35" stroke="#111" stroke-width="1.0" />
<line x1="501.9" y1="326.45" x2="503.9" y2="326.45" stroke="#111" stroke-width="1.0" />
<line x1="503.86" y1="444.5" x2="503.86" y2="447.5" stroke="#111" stroke-width="1.1" />
<text x="0" y="0" font-size="8.5" font-weight="bold" text-anchor="middle" fill="#111" transform="translate(503.86,454.6) scale(0.95,1)">-0.5</text>
<line x1="522.9" y1="444.5" x2="522.9" y2="447.5" stroke="#111" stroke-width="1.1" />
<text x="0" y="0" font-size="8.5" font-weight="bold" text-anchor="middle" fill="#111" transform="translate(522.9,454.6) scale(0.95,1)">0.0</text>
<line x1="541.93" y1="444.5" x2="541.93" y2="447.5" stroke="#111" stroke-width="1.1" />
<text x="0" y="0" font-size="8.5" font-weight="bold" text-anchor="middle" fill="#111" transform="translate(541.93,454.6) scale(0.95,1)">0.5</text>
<line x1="560.97" y1="444.5" x2="560.97" y2="447.5" stroke="#111" stroke-width="1.1" />
<text x="0" y="0" font-size="8.5" font-weight="bold" text-anchor="middle" fill="#111" transform="translate(560.97,454.6) scale(0.95,1)">1.0</text>
<line x1="580" y1="444.5" x2="580" y2="447.5" stroke="#111" stroke-width="1.1" />
<text x="0" y="0" font-size="8.5" font-weight="bold" text-anchor="middle" fill="#111" transform="translate(580,454.6) scale(0.95,1)">1.5</text>
<line x1="599.04" y1="444.5" x2="599.04" y2="447.5" stroke="#111" stroke-width="1.1" />
<text x="0" y="0" font-size="8.5" font-weight="bold" text-anchor="middle" fill="#111" transform="translate(599.04,454.6) scale(0.95,1)">2.0</text>
<line x1="618.07" y1="444.5" x2="618.07" y2="447.5" stroke="#111" stroke-width="1.1" />
<text x="0" y="0" font-size="8.5" font-weight="bold" text-anchor="middle" fill="#111" transform="translate(618.07,454.6) scale(0.95,1)">2.5</text>
<line x1="637.11" y1="444.5" x2="637.11" y2="447.5" stroke="#111" stroke-width="1.1" />
<text x="0" y="0" font-size="8.5" font-weight="bold" text-anchor="middle" fill="#111" transform="translate(637.11,454.6) scale(0.95,1)">3.0</text>
<line x1="656.14" y1="444.5" x2="656.14" y2="447.5" stroke="#111" stroke-width="1.1" />
<text x="0" y="0" font-size="8.5" font-weight="bold" text-anchor="middle" fill="#111" transform="translate(656.14,454.6) scale(0.95,1)">3.5</text>
<line x1="675.18" y1="444.5" x2="675.18" y2="447.5" stroke="#111" stroke-width="1.1" />
<text x="0" y="0" font-size="8.5" font-weight="bold" text-anchor="middle" fill="#111" transform="translate(675.18,454.6) scale(0.95,1)">4.0</text>
<line x1="513.38" y1="444.5" x2="513.38" y2="446.5" stroke="#111" stroke-width="1.0" />
<line x1="532.42" y1="444.5" x2="532.42" y2="446.5" stroke="#111" stroke-width="1.0" />
<line x1="551.45" y1="444.5" x2="551.45" y2="446.5" stroke="#111" stroke-width="1.0" />
<line x1="570.49" y1="444.5" x2="570.49" y2="446.5" stroke="#111" stroke-width="1.0" />
<line x1="589.52" y1="444.5" x2="589.52" y2="446.5" stroke="#111" stroke-width="1.0" />
<line x1="608.56" y1="444.5" x2="608.56" y2="446.5" stroke="#111" stroke-width="1.0" />
<line x1="627.59" y1="444.5" x2="627.59" y2="446.5" stroke="#111" stroke-width="1.0" />
<line x1="646.63" y1="444.5" x2="646.63" y2="446.5" stroke="#111" stroke-width="1.0" />
<line x1="665.66" y1="444.5" x2="665.66" y2="446.5" stroke="#111" stroke-width="1.0" />
<text x="590" y="463.9" font-size="8" font-weight="bold" text-anchor="middle" fill="#111"  textLength="41.4" lengthAdjust="spacingAndGlyphs">[Host] / &#956;M</text>
<text x="0" y="0" font-size="8" font-weight="bold" text-anchor="middle" fill="#111" transform="translate(468.7,378.8) rotate(-90)">Intensity</text>
<text x="0" y="0" font-size="16.4" font-weight="bold" fill="#111" transform="translate(447.7,320.7) scale(0.95,1)">(g)</text>
<text x="558.7" y="424.4" font-size="9.5" font-weight="bold" fill="#1a1a1a" textLength="106.5" lengthAdjust="spacingAndGlyphs"><tspan font-style="italic">K</tspan><tspan font-size="6.17" dy="2.09">1</tspan><tspan dy="-2.09"> = (9.3&#177;0.4)&#215;</tspan><tspan fill="#c8201e">10</tspan><tspan fill="#c8201e" font-size="6.46" dy="-3.42">8</tspan><tspan dy="3.42"> M</tspan><tspan font-size="6.27" dy="-3.42">&#8722;1</tspan></text>
<text x="558.7" y="436.6" font-size="9.5" font-weight="bold" fill="#1a1a1a" textLength="106.5" lengthAdjust="spacingAndGlyphs"><tspan font-style="italic">K</tspan><tspan font-size="6.17" dy="2.09">2</tspan><tspan dy="-2.09"> = (3.0&#177;0.7)&#215;</tspan><tspan fill="#c8201e">10</tspan><tspan fill="#c8201e" font-size="6.46" dy="-3.42">6</tspan><tspan dy="3.42"> M</tspan><tspan font-size="6.27" dy="-3.42">&#8722;1</tspan></text>
</svg>
</body></html>
